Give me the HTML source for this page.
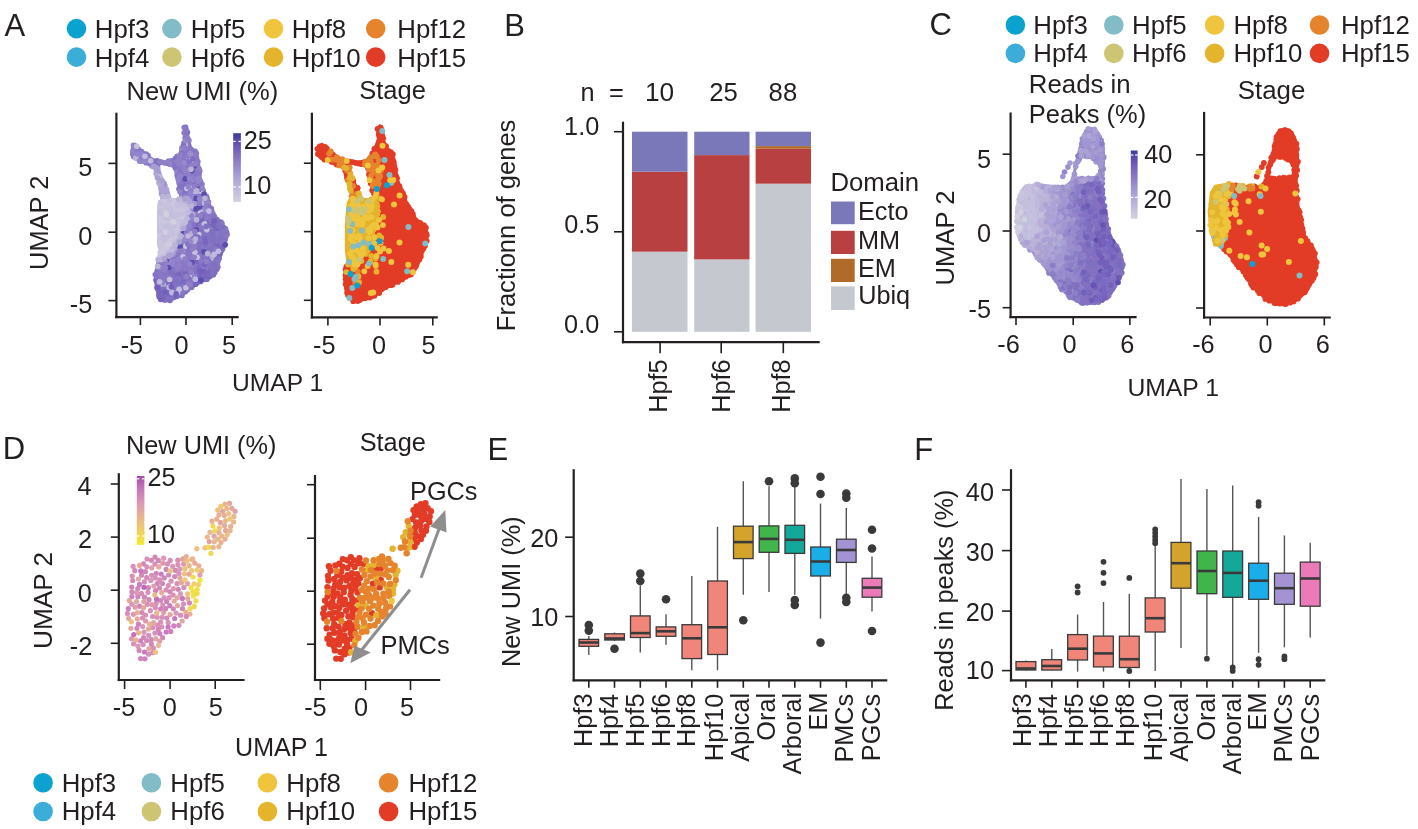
<!DOCTYPE html>
<html><head><meta charset="utf-8"><title>Figure</title>
<style>html,body{margin:0;padding:0;background:#fff;} svg{display:block;filter:blur(0.4px);} text{font-family:"Liberation Sans", Arial, Helvetica, sans-serif;}</style>
</head><body>
<svg width="1418" height="829" viewBox="0 0 1418 829">
<rect width="1418" height="829" fill="#ffffff"/>
<text x="4.52" y="35.80" font-size="31.00" fill="#231f20">A</text>
<circle cx="76.5" cy="28.6" r="9.8" fill="#0ba2d0"/>
<text x="94.87" y="37.90" font-size="25.80" fill="#231f20">Hpf3</text>
<circle cx="76.5" cy="57.1" r="9.8" fill="#3badd8"/>
<text x="94.87" y="67.00" font-size="25.80" fill="#231f20">Hpf4</text>
<circle cx="171.9" cy="28.6" r="9.8" fill="#82bcc6"/>
<text x="190.87" y="37.90" font-size="25.80" fill="#231f20">Hpf5</text>
<circle cx="171.9" cy="57.1" r="9.8" fill="#cdc574"/>
<text x="190.87" y="67.00" font-size="25.80" fill="#231f20">Hpf6</text>
<circle cx="273.5" cy="28.6" r="9.8" fill="#eec53c"/>
<text x="291.67" y="37.90" font-size="25.80" fill="#231f20">Hpf8</text>
<circle cx="273.5" cy="57.1" r="9.8" fill="#e4b42c"/>
<text x="291.67" y="67.00" font-size="25.80" fill="#231f20">Hpf10</text>
<circle cx="375.7" cy="28.6" r="9.8" fill="#e6842e"/>
<text x="397.27" y="37.90" font-size="25.80" fill="#231f20">Hpf12</text>
<circle cx="375.7" cy="57.1" r="9.8" fill="#e33c26"/>
<text x="397.27" y="67.00" font-size="25.80" fill="#231f20">Hpf15</text>
<text x="126.49" y="100.30" font-size="25.56" fill="#231f20">New UMI (%)</text>
<text x="359.25" y="98.70" font-size="25.47" fill="#231f20">Stage</text>
<path d="M182.8,127.3 L183.3,136.7 L183.3,136.8 L182.8,143.3 L182.8,143.3 L182.8,143.4 L182.7,143.5 L182.7,143.6 L182.7,143.6 L182.6,143.7 L180.0,146.9 L179.0,152.1 L179.0,152.1 L178.9,152.2 L178.9,152.3 L178.9,152.3 L178.8,152.4 L175.6,156.5 L175.6,156.5 L173.4,158.9 L173.3,159.0 L173.3,159.0 L173.2,159.1 L173.1,159.1 L173.1,159.2 L173.0,159.2 L168.6,160.3 L168.5,160.3 L159.8,161.4 L159.7,161.4 L159.7,161.4 L159.6,161.4 L159.5,161.4 L159.4,161.4 L159.4,161.3 L159.3,161.3 L151.7,157.0 L151.7,157.0 L151.6,156.9 L141.9,149.3 L141.9,149.3 L141.8,149.2 L135.7,142.6 L131.2,144.8 L130.1,155.0 L134.2,159.9 L147.0,165.3 L147.1,165.3 L147.1,165.3 L153.6,169.7 L153.7,169.8 L153.8,169.8 L153.8,169.9 L153.9,170.0 L153.9,170.0 L153.9,170.1 L154.0,170.2 L154.0,170.2 L154.0,170.3 L154.6,175.6 L157.2,182.0 L157.3,182.1 L159.5,190.8 L159.5,190.9 L160.5,197.4 L160.5,197.5 L160.5,197.5 L160.5,197.6 L160.5,197.7 L158.1,206.9 L157.2,216.9 L158.9,233.7 L158.9,233.8 L159.8,250.7 L159.8,250.7 L159.8,250.8 L159.8,250.9 L156.4,262.7 L153.9,274.4 L154.7,287.7 L158.0,299.1 L164.1,303.0 L173.9,300.5 L183.9,295.6 L193.9,287.2 L194.0,287.1 L194.0,287.1 L204.2,282.1 L214.1,275.4 L219.1,267.3 L222.4,255.5 L222.4,255.4 L226.6,243.7 L228.3,233.9 L225.8,225.7 L217.5,217.5 L217.5,217.4 L217.4,217.3 L217.4,217.3 L210.1,202.3 L210.1,202.2 L206.8,193.5 L203.6,185.9 L203.5,185.8 L203.5,185.8 L201.3,174.9 L201.3,174.8 L200.2,164.0 L198.1,153.4 L191.7,145.9 L191.6,145.9 L191.6,145.8 L191.6,145.7 L191.5,145.7 L191.5,145.6 L189.3,136.9 L189.3,136.8 L189.3,136.8 L188.2,125.5 L185.5,124.1 Z M166.9,162.0 L167.0,162.0 L167.1,162.0 L167.2,162.0 L172.7,163.2 L172.7,163.2 L172.8,163.3 L172.9,163.3 L172.9,163.3 L173.0,163.4 L173.1,163.4 L173.1,163.5 L173.2,163.5 L173.2,163.6 L173.2,163.7 L173.3,163.8 L173.3,163.8 L173.3,163.9 L174.8,175.9 L176.8,184.8 L178.8,192.8 L178.8,192.9 L179.3,197.4 L179.3,197.5 L179.3,197.6 L179.3,197.7 L179.3,197.7 L179.2,197.8 L179.2,197.9 L179.2,197.9 L179.1,198.0 L179.1,198.1 L179.0,198.1 L178.9,198.2 L178.9,198.2 L178.8,198.2 L178.7,198.3 L178.6,198.3 L178.6,198.3 L172.1,198.8 L172.0,198.8 L171.9,198.8 L171.8,198.8 L171.8,198.8 L171.7,198.7 L171.6,198.7 L171.6,198.7 L171.5,198.6 L171.4,198.6 L171.4,198.5 L171.3,198.5 L171.3,198.4 L169.6,195.4 L169.6,195.3 L169.5,195.2 L167.7,189.3 L161.8,175.3 L161.7,175.3 L161.7,175.2 L160.2,169.2 L160.2,169.1 L160.2,169.0 L160.2,163.5 L160.2,163.4 L160.2,163.3 L160.2,163.3 L160.3,163.2 L160.3,163.1 L160.3,163.1 L160.4,163.0 L160.4,162.9 L160.5,162.9 L160.5,162.8 L160.6,162.8 L160.7,162.8 L160.8,162.7 L160.8,162.7 L160.9,162.7 Z " fill="#8a7ac6" fill-rule="evenodd"/>
<path d="M157.9,200.5 L157.0,215.1 L157.0,244.7 L160.2,255.2 L163.7,253.4 L169.4,246.8 L174.2,239.1 L182.1,219.3 L182.2,219.1 L186.1,211.2 L187.6,206.7 L185.1,204.8 L169.5,200.9 L169.5,200.9 L163.0,199.1 Z " fill="#c4c2dc" fill-rule="evenodd"/>
<path d="M157.0,164.7 L152.5,167.0 L156.9,179.3 L156.9,179.5 L157.0,179.7 L159.7,197.0 L166.7,197.0 L166.0,192.4 L163.9,183.4 L163.7,182.8 L160.7,175.8 L160.6,175.6 L160.6,175.5 L159.1,169.5 L159.0,169.2 L159.0,169.0 L159.0,168.9 Z " fill="#ada4d6" fill-rule="evenodd"/>
<g fill="#8478c6"><circle cx="219.6" cy="228.8" r="2.8"/><circle cx="180.0" cy="267.6" r="2.8"/><circle cx="185.6" cy="236.5" r="2.8"/><circle cx="193.9" cy="260.1" r="2.8"/><circle cx="213.1" cy="258.9" r="2.8"/><circle cx="203.4" cy="267.7" r="2.8"/><circle cx="179.8" cy="261.2" r="2.8"/><circle cx="191.6" cy="251.0" r="2.8"/><circle cx="165.5" cy="282.1" r="2.8"/><circle cx="218.5" cy="242.4" r="2.8"/><circle cx="191.6" cy="226.8" r="2.8"/><circle cx="183.4" cy="236.6" r="2.8"/><circle cx="185.8" cy="161.3" r="2.8"/><circle cx="191.8" cy="266.2" r="2.8"/><circle cx="176.2" cy="254.4" r="2.8"/><circle cx="185.3" cy="176.2" r="2.8"/><circle cx="212.8" cy="213.7" r="2.8"/><circle cx="202.8" cy="221.8" r="2.8"/><circle cx="194.1" cy="171.0" r="2.8"/><circle cx="222.4" cy="238.5" r="2.8"/><circle cx="174.4" cy="282.4" r="2.8"/><circle cx="205.8" cy="201.7" r="2.8"/><circle cx="180.4" cy="180.9" r="2.8"/><circle cx="215.8" cy="244.2" r="2.8"/><circle cx="184.0" cy="158.2" r="2.8"/><circle cx="148.0" cy="155.5" r="2.8"/><circle cx="202.1" cy="234.9" r="2.8"/><circle cx="188.5" cy="196.0" r="2.8"/><circle cx="188.5" cy="155.9" r="2.8"/><circle cx="196.3" cy="153.4" r="2.8"/><circle cx="186.1" cy="256.7" r="2.8"/><circle cx="183.4" cy="185.5" r="2.8"/><circle cx="181.4" cy="274.8" r="2.8"/><circle cx="197.8" cy="242.4" r="2.8"/><circle cx="191.9" cy="231.3" r="2.8"/><circle cx="194.6" cy="195.7" r="2.8"/><circle cx="186.7" cy="279.3" r="2.8"/><circle cx="182.7" cy="266.5" r="2.8"/><circle cx="195.5" cy="189.0" r="2.8"/><circle cx="205.6" cy="247.1" r="2.8"/><circle cx="196.7" cy="232.4" r="2.8"/><circle cx="176.2" cy="259.6" r="2.8"/><circle cx="215.5" cy="241.2" r="2.8"/><circle cx="187.0" cy="178.2" r="2.8"/><circle cx="200.5" cy="212.0" r="2.8"/><circle cx="195.3" cy="217.0" r="2.8"/><circle cx="186.0" cy="191.5" r="2.8"/><circle cx="160.8" cy="264.7" r="2.8"/><circle cx="178.6" cy="173.8" r="2.8"/><circle cx="202.5" cy="244.3" r="2.8"/><circle cx="188.8" cy="251.4" r="2.8"/><circle cx="208.9" cy="221.9" r="2.8"/></g>
<g fill="#8a7ec6"><circle cx="201.4" cy="208.8" r="2.8"/><circle cx="193.3" cy="187.9" r="2.8"/><circle cx="193.5" cy="153.8" r="2.8"/><circle cx="182.4" cy="247.2" r="2.8"/><circle cx="132.8" cy="153.8" r="2.8"/><circle cx="175.1" cy="274.1" r="2.8"/><circle cx="194.5" cy="175.4" r="2.8"/><circle cx="196.9" cy="196.6" r="2.8"/><circle cx="188.9" cy="140.4" r="2.8"/><circle cx="183.9" cy="233.5" r="2.8"/><circle cx="194.4" cy="266.4" r="2.8"/><circle cx="166.3" cy="284.4" r="2.8"/><circle cx="186.2" cy="166.3" r="2.8"/><circle cx="200.4" cy="201.1" r="2.8"/><circle cx="188.3" cy="242.2" r="2.8"/><circle cx="182.3" cy="191.6" r="2.8"/><circle cx="195.7" cy="193.7" r="2.8"/><circle cx="168.5" cy="161.1" r="2.8"/><circle cx="207.8" cy="218.2" r="2.8"/><circle cx="195.0" cy="155.7" r="2.8"/><circle cx="198.1" cy="176.9" r="2.8"/><circle cx="189.3" cy="267.4" r="2.8"/><circle cx="188.7" cy="180.3" r="2.8"/><circle cx="192.5" cy="234.2" r="2.8"/><circle cx="178.2" cy="168.0" r="2.8"/><circle cx="149.8" cy="159.0" r="2.8"/><circle cx="146.0" cy="162.7" r="2.8"/><circle cx="155.6" cy="162.7" r="2.8"/><circle cx="190.3" cy="239.4" r="2.8"/><circle cx="188.0" cy="176.7" r="2.8"/><circle cx="188.8" cy="256.7" r="2.8"/><circle cx="203.7" cy="201.2" r="2.8"/><circle cx="191.4" cy="155.4" r="2.8"/><circle cx="203.2" cy="190.6" r="2.8"/><circle cx="207.8" cy="223.7" r="2.8"/><circle cx="135.5" cy="147.6" r="2.8"/><circle cx="219.4" cy="245.0" r="2.8"/><circle cx="193.5" cy="183.5" r="2.8"/><circle cx="208.9" cy="246.6" r="2.8"/><circle cx="191.9" cy="247.1" r="2.8"/><circle cx="204.5" cy="259.5" r="2.8"/><circle cx="206.7" cy="251.9" r="2.8"/><circle cx="183.1" cy="241.5" r="2.8"/><circle cx="181.7" cy="249.9" r="2.8"/><circle cx="189.5" cy="280.0" r="2.8"/><circle cx="172.1" cy="160.6" r="2.8"/><circle cx="211.9" cy="211.8" r="2.8"/><circle cx="188.4" cy="231.9" r="2.8"/><circle cx="193.1" cy="285.3" r="2.8"/><circle cx="198.2" cy="209.3" r="2.8"/><circle cx="187.6" cy="249.1" r="2.8"/><circle cx="202.2" cy="198.5" r="2.8"/><circle cx="179.3" cy="166.7" r="2.8"/><circle cx="201.3" cy="265.1" r="2.8"/><circle cx="196.7" cy="206.2" r="2.8"/><circle cx="185.1" cy="138.0" r="2.8"/><circle cx="183.8" cy="249.2" r="2.8"/><circle cx="185.9" cy="180.8" r="2.8"/><circle cx="193.0" cy="253.9" r="2.8"/><circle cx="170.2" cy="258.8" r="2.8"/><circle cx="195.2" cy="214.5" r="2.8"/><circle cx="191.7" cy="150.1" r="2.8"/><circle cx="208.4" cy="201.8" r="2.8"/><circle cx="185.0" cy="264.5" r="2.8"/><circle cx="139.4" cy="156.4" r="2.8"/><circle cx="181.8" cy="178.1" r="2.8"/></g>
<g fill="#7e6cc0"><circle cx="199.5" cy="263.9" r="2.8"/><circle cx="161.6" cy="295.4" r="2.8"/><circle cx="173.5" cy="289.8" r="2.8"/><circle cx="198.7" cy="274.6" r="2.8"/><circle cx="174.1" cy="271.7" r="2.8"/><circle cx="213.9" cy="248.7" r="2.8"/><circle cx="166.4" cy="270.1" r="2.8"/><circle cx="174.3" cy="291.5" r="2.8"/><circle cx="168.3" cy="272.2" r="2.8"/><circle cx="173.7" cy="286.9" r="2.8"/><circle cx="199.1" cy="229.4" r="2.8"/><circle cx="158.5" cy="288.9" r="2.8"/><circle cx="203.3" cy="262.5" r="2.8"/><circle cx="209.8" cy="254.8" r="2.8"/><circle cx="220.4" cy="252.3" r="2.8"/><circle cx="184.2" cy="278.8" r="2.8"/><circle cx="197.1" cy="266.2" r="2.8"/><circle cx="199.8" cy="246.5" r="2.8"/><circle cx="195.1" cy="226.6" r="2.8"/><circle cx="210.2" cy="223.3" r="2.8"/><circle cx="174.7" cy="276.3" r="2.8"/><circle cx="185.3" cy="291.7" r="2.8"/><circle cx="165.4" cy="287.1" r="2.8"/><circle cx="214.8" cy="272.5" r="2.8"/><circle cx="202.1" cy="274.7" r="2.8"/><circle cx="207.0" cy="279.2" r="2.8"/><circle cx="203.4" cy="196.7" r="2.8"/><circle cx="205.2" cy="279.5" r="2.8"/><circle cx="218.6" cy="239.1" r="2.8"/><circle cx="175.7" cy="289.2" r="2.8"/><circle cx="210.9" cy="234.0" r="2.8"/><circle cx="166.3" cy="273.7" r="2.8"/><circle cx="216.9" cy="219.5" r="2.8"/><circle cx="226.5" cy="231.8" r="2.8"/><circle cx="199.6" cy="279.0" r="2.8"/><circle cx="199.4" cy="255.0" r="2.8"/><circle cx="215.6" cy="247.4" r="2.8"/><circle cx="166.3" cy="299.6" r="2.8"/><circle cx="187.4" cy="132.4" r="2.8"/><circle cx="170.0" cy="300.5" r="2.8"/><circle cx="216.8" cy="269.2" r="2.8"/><circle cx="204.1" cy="254.1" r="2.8"/><circle cx="213.5" cy="243.6" r="2.8"/><circle cx="198.0" cy="281.7" r="2.8"/><circle cx="162.0" cy="283.8" r="2.8"/><circle cx="207.2" cy="269.7" r="2.8"/><circle cx="204.7" cy="234.9" r="2.8"/><circle cx="199.8" cy="252.4" r="2.8"/><circle cx="202.5" cy="223.5" r="2.8"/><circle cx="161.2" cy="275.2" r="2.8"/><circle cx="197.0" cy="277.4" r="2.8"/><circle cx="215.7" cy="224.0" r="2.8"/><circle cx="210.0" cy="259.6" r="2.8"/><circle cx="177.5" cy="277.2" r="2.8"/><circle cx="214.1" cy="270.1" r="2.8"/><circle cx="206.3" cy="221.4" r="2.8"/><circle cx="212.0" cy="271.6" r="2.8"/><circle cx="202.1" cy="249.3" r="2.8"/><circle cx="212.1" cy="267.0" r="2.8"/><circle cx="179.4" cy="277.1" r="2.8"/><circle cx="186.7" cy="270.0" r="2.8"/><circle cx="183.1" cy="271.2" r="2.8"/><circle cx="195.4" cy="259.3" r="2.8"/><circle cx="213.6" cy="219.4" r="2.8"/><circle cx="208.5" cy="226.7" r="2.8"/><circle cx="188.4" cy="261.4" r="2.8"/><circle cx="208.7" cy="266.2" r="2.8"/><circle cx="184.4" cy="183.7" r="2.8"/><circle cx="158.2" cy="285.2" r="2.8"/><circle cx="205.7" cy="266.6" r="2.8"/><circle cx="168.8" cy="282.5" r="2.8"/><circle cx="213.2" cy="229.5" r="2.8"/><circle cx="192.6" cy="280.0" r="2.8"/><circle cx="220.4" cy="225.9" r="2.8"/><circle cx="189.5" cy="229.3" r="2.8"/><circle cx="199.9" cy="240.9" r="2.8"/><circle cx="172.7" cy="294.2" r="2.8"/><circle cx="200.7" cy="266.5" r="2.8"/><circle cx="197.1" cy="222.2" r="2.8"/><circle cx="156.9" cy="281.7" r="2.8"/><circle cx="186.6" cy="281.3" r="2.8"/><circle cx="203.9" cy="226.7" r="2.8"/><circle cx="212.1" cy="217.1" r="2.8"/><circle cx="195.3" cy="281.9" r="2.8"/><circle cx="163.0" cy="287.4" r="2.8"/><circle cx="163.8" cy="295.3" r="2.8"/><circle cx="162.9" cy="271.9" r="2.8"/><circle cx="172.3" cy="274.6" r="2.8"/><circle cx="197.7" cy="211.0" r="2.8"/><circle cx="213.4" cy="274.8" r="2.8"/><circle cx="209.2" cy="241.8" r="2.8"/><circle cx="166.5" cy="295.1" r="2.8"/><circle cx="157.0" cy="160.9" r="2.8"/></g>
<g fill="#babad8"><circle cx="193.7" cy="218.6" r="2.8"/><circle cx="185.0" cy="244.8" r="2.8"/><circle cx="206.4" cy="210.9" r="2.8"/></g>
<g fill="#8472c0"><circle cx="195.1" cy="181.9" r="2.8"/><circle cx="205.1" cy="275.0" r="2.8"/><circle cx="210.3" cy="264.4" r="2.8"/><circle cx="163.7" cy="299.6" r="2.8"/><circle cx="182.0" cy="295.4" r="2.8"/><circle cx="184.4" cy="285.1" r="2.8"/><circle cx="218.3" cy="257.4" r="2.8"/><circle cx="195.5" cy="223.6" r="2.8"/><circle cx="215.0" cy="267.7" r="2.8"/><circle cx="177.2" cy="272.3" r="2.8"/><circle cx="198.0" cy="202.1" r="2.8"/><circle cx="180.9" cy="279.7" r="2.8"/><circle cx="220.9" cy="247.2" r="2.8"/><circle cx="187.5" cy="289.8" r="2.8"/><circle cx="205.6" cy="231.8" r="2.8"/><circle cx="210.8" cy="270.1" r="2.8"/><circle cx="201.7" cy="228.9" r="2.8"/><circle cx="202.4" cy="193.6" r="2.8"/><circle cx="216.8" cy="254.6" r="2.8"/><circle cx="188.1" cy="272.1" r="2.8"/><circle cx="193.8" cy="261.9" r="2.8"/><circle cx="199.0" cy="244.4" r="2.8"/><circle cx="195.7" cy="233.4" r="2.8"/><circle cx="195.5" cy="250.0" r="2.8"/><circle cx="179.6" cy="282.7" r="2.8"/><circle cx="165.2" cy="297.0" r="2.8"/><circle cx="182.3" cy="151.1" r="2.8"/><circle cx="181.9" cy="194.5" r="2.8"/><circle cx="191.9" cy="276.5" r="2.8"/><circle cx="217.4" cy="236.5" r="2.8"/><circle cx="222.2" cy="229.0" r="2.8"/><circle cx="221.2" cy="241.5" r="2.8"/><circle cx="181.4" cy="174.1" r="2.8"/><circle cx="182.2" cy="168.4" r="2.8"/><circle cx="222.9" cy="236.1" r="2.8"/><circle cx="170.1" cy="284.6" r="2.8"/><circle cx="192.7" cy="238.9" r="2.8"/><circle cx="218.0" cy="231.5" r="2.8"/><circle cx="207.4" cy="234.1" r="2.8"/><circle cx="184.5" cy="290.4" r="2.8"/><circle cx="212.2" cy="241.3" r="2.8"/><circle cx="219.1" cy="233.8" r="2.8"/><circle cx="157.2" cy="271.8" r="2.8"/><circle cx="215.0" cy="231.4" r="2.8"/><circle cx="196.8" cy="252.6" r="2.8"/><circle cx="204.8" cy="218.7" r="2.8"/><circle cx="214.8" cy="236.7" r="2.8"/><circle cx="207.4" cy="259.0" r="2.8"/><circle cx="177.1" cy="296.5" r="2.8"/><circle cx="217.9" cy="267.1" r="2.8"/><circle cx="185.7" cy="151.0" r="2.8"/><circle cx="203.6" cy="242.3" r="2.8"/><circle cx="208.7" cy="252.1" r="2.8"/><circle cx="164.1" cy="274.5" r="2.8"/><circle cx="211.9" cy="221.8" r="2.8"/><circle cx="211.9" cy="246.2" r="2.8"/><circle cx="172.3" cy="284.2" r="2.8"/><circle cx="221.0" cy="230.8" r="2.8"/><circle cx="169.8" cy="274.7" r="2.8"/><circle cx="179.3" cy="284.2" r="2.8"/><circle cx="155.3" cy="274.5" r="2.8"/><circle cx="158.3" cy="268.9" r="2.8"/><circle cx="200.0" cy="231.4" r="2.8"/><circle cx="224.6" cy="234.7" r="2.8"/><circle cx="191.6" cy="287.5" r="2.8"/><circle cx="200.6" cy="236.5" r="2.8"/><circle cx="176.8" cy="287.4" r="2.8"/><circle cx="203.9" cy="231.9" r="2.8"/><circle cx="188.1" cy="282.0" r="2.8"/><circle cx="214.9" cy="226.8" r="2.8"/><circle cx="210.2" cy="243.9" r="2.8"/><circle cx="216.0" cy="239.2" r="2.8"/><circle cx="188.4" cy="286.7" r="2.8"/><circle cx="183.0" cy="180.9" r="2.8"/><circle cx="183.9" cy="274.7" r="2.8"/><circle cx="181.1" cy="270.1" r="2.8"/><circle cx="180.4" cy="272.4" r="2.8"/><circle cx="196.0" cy="264.3" r="2.8"/><circle cx="171.6" cy="276.2" r="2.8"/><circle cx="202.5" cy="253.6" r="2.8"/><circle cx="207.4" cy="208.2" r="2.8"/><circle cx="158.5" cy="279.7" r="2.8"/><circle cx="183.3" cy="291.9" r="2.8"/><circle cx="219.7" cy="224.6" r="2.8"/><circle cx="178.4" cy="294.8" r="2.8"/><circle cx="203.5" cy="277.6" r="2.8"/><circle cx="175.3" cy="167.9" r="2.8"/><circle cx="214.4" cy="216.5" r="2.8"/><circle cx="166.3" cy="279.1" r="2.8"/><circle cx="211.7" cy="251.2" r="2.8"/><circle cx="219.1" cy="249.0" r="2.8"/><circle cx="167.9" cy="297.0" r="2.8"/><circle cx="173.2" cy="270.1" r="2.8"/><circle cx="188.0" cy="275.0" r="2.8"/><circle cx="163.6" cy="279.5" r="2.8"/><circle cx="208.9" cy="215.8" r="2.8"/><circle cx="210.5" cy="248.7" r="2.8"/><circle cx="203.8" cy="256.4" r="2.8"/><circle cx="227.1" cy="234.6" r="2.8"/><circle cx="159.6" cy="272.3" r="2.8"/><circle cx="177.0" cy="252.5" r="2.8"/><circle cx="217.0" cy="263.9" r="2.8"/><circle cx="199.0" cy="259.6" r="2.8"/><circle cx="188.7" cy="146.0" r="2.8"/><circle cx="158.7" cy="294.8" r="2.8"/><circle cx="160.9" cy="279.5" r="2.8"/><circle cx="196.9" cy="227.0" r="2.8"/><circle cx="224.3" cy="241.2" r="2.8"/><circle cx="173.1" cy="260.0" r="2.8"/><circle cx="194.0" cy="271.9" r="2.8"/><circle cx="153.5" cy="161.5" r="2.8"/><circle cx="199.1" cy="248.6" r="2.8"/><circle cx="188.6" cy="276.8" r="2.8"/><circle cx="186.0" cy="186.7" r="2.8"/><circle cx="166.0" cy="276.7" r="2.8"/><circle cx="172.6" cy="164.8" r="2.8"/></g>
<g fill="#786cc0"><circle cx="201.2" cy="259.1" r="2.8"/><circle cx="183.5" cy="282.3" r="2.8"/><circle cx="182.1" cy="284.1" r="2.8"/><circle cx="162.6" cy="292.0" r="2.8"/></g>
<g fill="#9684cc"><circle cx="188.6" cy="150.3" r="2.8"/><circle cx="188.7" cy="165.4" r="2.8"/><circle cx="179.3" cy="183.5" r="2.8"/><circle cx="200.6" cy="181.4" r="2.8"/><circle cx="170.8" cy="256.6" r="2.8"/><circle cx="187.4" cy="158.0" r="2.8"/><circle cx="192.5" cy="163.3" r="2.8"/><circle cx="177.6" cy="171.8" r="2.8"/><circle cx="190.2" cy="199.0" r="2.8"/><circle cx="182.4" cy="196.6" r="2.8"/><circle cx="207.7" cy="203.5" r="2.8"/><circle cx="182.3" cy="238.6" r="2.8"/><circle cx="164.8" cy="162.9" r="2.8"/><circle cx="170.0" cy="164.2" r="2.8"/></g>
<g fill="#9084c6"><circle cx="198.4" cy="193.4" r="2.8"/><circle cx="193.9" cy="244.2" r="2.8"/><circle cx="177.1" cy="156.4" r="2.8"/><circle cx="185.2" cy="155.3" r="2.8"/><circle cx="139.4" cy="150.8" r="2.8"/><circle cx="133.5" cy="145.3" r="2.8"/><circle cx="202.5" cy="205.9" r="2.8"/><circle cx="183.1" cy="175.9" r="2.8"/><circle cx="179.5" cy="256.2" r="2.8"/><circle cx="205.8" cy="217.1" r="2.8"/><circle cx="181.4" cy="243.4" r="2.8"/><circle cx="188.0" cy="239.7" r="2.8"/><circle cx="174.2" cy="261.4" r="2.8"/><circle cx="188.3" cy="246.7" r="2.8"/><circle cx="178.1" cy="249.3" r="2.8"/><circle cx="192.6" cy="173.8" r="2.8"/><circle cx="196.8" cy="178.8" r="2.8"/><circle cx="205.1" cy="204.6" r="2.8"/></g>
<g fill="#7866ba"><circle cx="168.4" cy="292.9" r="2.8"/><circle cx="218.0" cy="246.1" r="2.8"/><circle cx="169.4" cy="294.2" r="2.8"/><circle cx="200.6" cy="281.4" r="2.8"/><circle cx="178.6" cy="274.2" r="2.8"/><circle cx="159.3" cy="286.6" r="2.8"/><circle cx="190.0" cy="274.7" r="2.8"/><circle cx="209.8" cy="276.6" r="2.8"/><circle cx="219.6" cy="254.2" r="2.8"/><circle cx="216.7" cy="228.6" r="2.8"/><circle cx="196.8" cy="271.4" r="2.8"/><circle cx="220.8" cy="222.1" r="2.8"/><circle cx="199.2" cy="224.5" r="2.8"/><circle cx="206.1" cy="276.2" r="2.8"/><circle cx="185.4" cy="272.2" r="2.8"/><circle cx="200.8" cy="220.9" r="2.8"/><circle cx="212.6" cy="225.8" r="2.8"/><circle cx="159.2" cy="297.0" r="2.8"/><circle cx="172.1" cy="282.4" r="2.8"/><circle cx="206.8" cy="271.5" r="2.8"/><circle cx="156.0" cy="280.1" r="2.8"/><circle cx="208.9" cy="272.7" r="2.8"/><circle cx="161.2" cy="290.0" r="2.8"/><circle cx="174.9" cy="296.5" r="2.8"/><circle cx="159.3" cy="291.7" r="2.8"/><circle cx="167.7" cy="289.1" r="2.8"/><circle cx="175.9" cy="280.0" r="2.8"/><circle cx="213.8" cy="224.7" r="2.8"/><circle cx="196.8" cy="261.1" r="2.8"/></g>
<g fill="#ccccde"><circle cx="161.8" cy="209.0" r="2.8"/><circle cx="189.5" cy="208.9" r="2.8"/><circle cx="162.6" cy="226.6" r="2.8"/><circle cx="166.0" cy="222.2" r="2.8"/><circle cx="170.6" cy="206.6" r="2.8"/><circle cx="173.0" cy="223.2" r="2.8"/><circle cx="164.4" cy="219.6" r="2.8"/><circle cx="160.5" cy="241.0" r="2.8"/><circle cx="179.7" cy="231.1" r="2.8"/><circle cx="190.9" cy="181.1" r="2.8"/><circle cx="160.2" cy="236.9" r="2.8"/><circle cx="199.7" cy="213.2" r="2.8"/><circle cx="168.9" cy="247.2" r="2.8"/><circle cx="167.4" cy="245.0" r="2.8"/><circle cx="185.3" cy="216.0" r="2.8"/><circle cx="183.5" cy="222.2" r="2.8"/><circle cx="168.2" cy="221.7" r="2.8"/><circle cx="160.8" cy="233.8" r="2.8"/><circle cx="171.2" cy="210.7" r="2.8"/><circle cx="162.0" cy="216.9" r="2.8"/><circle cx="163.3" cy="199.3" r="2.8"/><circle cx="163.4" cy="229.7" r="2.8"/><circle cx="167.7" cy="233.6" r="2.8"/><circle cx="170.8" cy="237.1" r="2.8"/><circle cx="179.4" cy="216.2" r="2.8"/><circle cx="170.7" cy="249.4" r="2.8"/><circle cx="167.4" cy="229.1" r="2.8"/><circle cx="179.5" cy="211.1" r="2.8"/><circle cx="166.7" cy="209.0" r="2.8"/><circle cx="172.1" cy="239.6" r="2.8"/><circle cx="161.3" cy="218.3" r="2.8"/><circle cx="162.0" cy="232.2" r="2.8"/><circle cx="178.0" cy="218.3" r="2.8"/><circle cx="173.5" cy="214.4" r="2.8"/><circle cx="164.3" cy="209.5" r="2.8"/><circle cx="162.5" cy="206.4" r="2.8"/><circle cx="183.0" cy="211.0" r="2.8"/><circle cx="160.8" cy="254.7" r="2.8"/><circle cx="170.1" cy="199.3" r="2.8"/><circle cx="172.7" cy="243.7" r="2.8"/><circle cx="186.0" cy="246.3" r="2.8"/><circle cx="176.9" cy="215.7" r="2.8"/></g>
<g fill="#c6c6de"><circle cx="162.8" cy="251.5" r="2.8"/><circle cx="177.7" cy="222.2" r="2.8"/><circle cx="166.5" cy="238.4" r="2.8"/><circle cx="160.5" cy="227.2" r="2.8"/><circle cx="203.2" cy="211.6" r="2.8"/><circle cx="175.0" cy="237.0" r="2.8"/><circle cx="162.4" cy="246.4" r="2.8"/><circle cx="171.5" cy="222.1" r="2.8"/><circle cx="176.4" cy="239.6" r="2.8"/><circle cx="172.3" cy="204.6" r="2.8"/><circle cx="167.1" cy="203.2" r="2.8"/><circle cx="180.6" cy="206.7" r="2.8"/><circle cx="177.9" cy="201.6" r="2.8"/><circle cx="186.0" cy="211.9" r="2.8"/><circle cx="160.9" cy="238.7" r="2.8"/><circle cx="160.9" cy="224.1" r="2.8"/><circle cx="168.8" cy="216.1" r="2.8"/><circle cx="159.8" cy="206.1" r="2.8"/><circle cx="166.2" cy="256.4" r="2.8"/><circle cx="177.3" cy="227.1" r="2.8"/><circle cx="177.1" cy="232.1" r="2.8"/><circle cx="175.9" cy="229.6" r="2.8"/><circle cx="175.6" cy="218.9" r="2.8"/><circle cx="164.4" cy="213.6" r="2.8"/><circle cx="198.8" cy="234.6" r="2.8"/><circle cx="168.1" cy="211.5" r="2.8"/><circle cx="173.5" cy="211.7" r="2.8"/><circle cx="164.6" cy="223.8" r="2.8"/><circle cx="167.1" cy="248.8" r="2.8"/><circle cx="175.0" cy="241.4" r="2.8"/><circle cx="180.8" cy="208.8" r="2.8"/><circle cx="163.8" cy="244.0" r="2.8"/><circle cx="183.6" cy="206.0" r="2.8"/><circle cx="171.1" cy="241.9" r="2.8"/><circle cx="180.5" cy="201.8" r="2.8"/><circle cx="171.8" cy="226.9" r="2.8"/><circle cx="173.9" cy="231.8" r="2.8"/><circle cx="175.5" cy="208.4" r="2.8"/><circle cx="160.7" cy="244.7" r="2.8"/><circle cx="184.2" cy="219.6" r="2.8"/><circle cx="182.2" cy="224.3" r="2.8"/><circle cx="174.3" cy="201.6" r="2.8"/><circle cx="172.3" cy="228.9" r="2.8"/><circle cx="160.0" cy="256.4" r="2.8"/><circle cx="166.1" cy="242.4" r="2.8"/><circle cx="159.9" cy="216.0" r="2.8"/><circle cx="173.1" cy="208.2" r="2.8"/><circle cx="176.3" cy="224.0" r="2.8"/><circle cx="168.3" cy="206.3" r="2.8"/><circle cx="171.1" cy="201.8" r="2.8"/></g>
<g fill="#ccc6de"><circle cx="172.0" cy="219.3" r="2.8"/><circle cx="162.3" cy="211.0" r="2.8"/><circle cx="167.8" cy="251.4" r="2.8"/><circle cx="160.1" cy="221.2" r="2.8"/><circle cx="164.0" cy="254.9" r="2.8"/><circle cx="179.3" cy="226.8" r="2.8"/><circle cx="169.5" cy="218.9" r="2.8"/><circle cx="160.9" cy="228.9" r="2.8"/><circle cx="170.6" cy="216.3" r="2.8"/><circle cx="180.9" cy="213.6" r="2.8"/><circle cx="176.0" cy="203.6" r="2.8"/><circle cx="162.2" cy="221.2" r="2.8"/><circle cx="163.6" cy="203.5" r="2.8"/><circle cx="163.9" cy="248.9" r="2.8"/><circle cx="177.4" cy="211.4" r="2.8"/><circle cx="178.5" cy="208.4" r="2.8"/><circle cx="176.8" cy="235.9" r="2.8"/><circle cx="162.0" cy="201.8" r="2.8"/><circle cx="183.1" cy="215.9" r="2.8"/><circle cx="170.2" cy="203.7" r="2.8"/><circle cx="166.9" cy="198.7" r="2.8"/><circle cx="164.9" cy="211.9" r="2.8"/><circle cx="178.2" cy="229.6" r="2.8"/><circle cx="169.8" cy="224.8" r="2.8"/><circle cx="174.7" cy="205.9" r="2.8"/><circle cx="186.5" cy="209.1" r="2.8"/><circle cx="168.5" cy="241.9" r="2.8"/><circle cx="163.0" cy="241.6" r="2.8"/><circle cx="168.5" cy="231.7" r="2.8"/><circle cx="179.3" cy="223.4" r="2.8"/><circle cx="201.0" cy="190.9" r="2.8"/><circle cx="170.0" cy="238.9" r="2.8"/><circle cx="166.1" cy="201.4" r="2.8"/><circle cx="188.0" cy="206.9" r="2.8"/><circle cx="182.1" cy="219.1" r="2.8"/><circle cx="167.2" cy="223.9" r="2.8"/><circle cx="175.4" cy="234.6" r="2.8"/><circle cx="165.1" cy="251.6" r="2.8"/><circle cx="165.7" cy="246.2" r="2.8"/><circle cx="160.2" cy="252.3" r="2.8"/><circle cx="184.2" cy="209.3" r="2.8"/></g>
<g fill="#a296d2"><circle cx="162.4" cy="262.2" r="2.8"/><circle cx="164.9" cy="185.9" r="2.8"/><circle cx="178.2" cy="244.3" r="2.8"/><circle cx="188.1" cy="220.8" r="2.8"/><circle cx="192.3" cy="201.0" r="2.8"/><circle cx="191.7" cy="212.2" r="2.8"/><circle cx="177.7" cy="247.1" r="2.8"/><circle cx="159.4" cy="261.6" r="2.8"/><circle cx="151.8" cy="166.0" r="2.8"/><circle cx="164.0" cy="183.2" r="2.8"/><circle cx="159.0" cy="174.2" r="2.8"/><circle cx="162.3" cy="185.6" r="2.8"/><circle cx="192.3" cy="209.5" r="2.8"/><circle cx="161.5" cy="193.5" r="2.8"/></g>
<g fill="#8a78c6"><circle cx="196.5" cy="157.8" r="2.8"/><circle cx="202.4" cy="238.7" r="2.8"/><circle cx="217.0" cy="233.9" r="2.8"/><circle cx="199.4" cy="238.9" r="2.8"/><circle cx="188.1" cy="192.0" r="2.8"/><circle cx="183.9" cy="254.0" r="2.8"/><circle cx="184.1" cy="172.8" r="2.8"/><circle cx="199.1" cy="173.8" r="2.8"/><circle cx="199.7" cy="171.1" r="2.8"/><circle cx="177.3" cy="175.7" r="2.8"/><circle cx="207.5" cy="244.9" r="2.8"/><circle cx="200.7" cy="185.6" r="2.8"/><circle cx="180.8" cy="287.7" r="2.8"/><circle cx="195.1" cy="151.3" r="2.8"/><circle cx="160.2" cy="276.7" r="2.8"/><circle cx="187.2" cy="193.8" r="2.8"/><circle cx="143.5" cy="154.0" r="2.8"/><circle cx="181.2" cy="164.1" r="2.8"/><circle cx="201.1" cy="261.6" r="2.8"/><circle cx="190.2" cy="223.8" r="2.8"/><circle cx="204.1" cy="214.5" r="2.8"/><circle cx="225.9" cy="236.6" r="2.8"/><circle cx="205.2" cy="228.6" r="2.8"/><circle cx="182.0" cy="289.9" r="2.8"/><circle cx="184.9" cy="269.0" r="2.8"/><circle cx="201.9" cy="268.8" r="2.8"/><circle cx="217.0" cy="259.2" r="2.8"/><circle cx="195.7" cy="244.2" r="2.8"/><circle cx="197.3" cy="171.0" r="2.8"/><circle cx="177.7" cy="256.5" r="2.8"/><circle cx="225.6" cy="228.9" r="2.8"/><circle cx="207.0" cy="213.7" r="2.8"/><circle cx="201.1" cy="225.8" r="2.8"/><circle cx="194.2" cy="160.4" r="2.8"/><circle cx="169.0" cy="261.8" r="2.8"/><circle cx="143.7" cy="158.5" r="2.8"/><circle cx="187.0" cy="148.3" r="2.8"/><circle cx="196.9" cy="165.7" r="2.8"/><circle cx="211.3" cy="208.5" r="2.8"/><circle cx="203.2" cy="237.4" r="2.8"/><circle cx="158.8" cy="264.8" r="2.8"/><circle cx="179.7" cy="161.0" r="2.8"/><circle cx="168.9" cy="276.6" r="2.8"/><circle cx="195.9" cy="168.8" r="2.8"/><circle cx="184.2" cy="132.7" r="2.8"/><circle cx="178.2" cy="254.5" r="2.8"/><circle cx="175.4" cy="264.5" r="2.8"/><circle cx="190.8" cy="163.7" r="2.8"/><circle cx="170.1" cy="270.1" r="2.8"/><circle cx="197.3" cy="185.8" r="2.8"/><circle cx="189.1" cy="170.4" r="2.8"/><circle cx="173.5" cy="256.6" r="2.8"/><circle cx="189.8" cy="157.9" r="2.8"/><circle cx="175.8" cy="284.0" r="2.8"/><circle cx="191.4" cy="175.7" r="2.8"/><circle cx="186.5" cy="254.1" r="2.8"/><circle cx="184.0" cy="142.8" r="2.8"/><circle cx="195.3" cy="210.7" r="2.8"/><circle cx="202.5" cy="214.2" r="2.8"/><circle cx="181.0" cy="259.3" r="2.8"/><circle cx="206.4" cy="196.3" r="2.8"/><circle cx="207.6" cy="264.3" r="2.8"/><circle cx="195.4" cy="254.1" r="2.8"/><circle cx="210.5" cy="219.0" r="2.8"/><circle cx="187.8" cy="244.1" r="2.8"/><circle cx="205.3" cy="268.8" r="2.8"/><circle cx="206.0" cy="256.4" r="2.8"/><circle cx="205.2" cy="248.8" r="2.8"/><circle cx="223.2" cy="231.0" r="2.8"/><circle cx="202.0" cy="184.2" r="2.8"/><circle cx="193.1" cy="264.4" r="2.8"/><circle cx="216.2" cy="249.4" r="2.8"/><circle cx="190.8" cy="183.7" r="2.8"/><circle cx="192.7" cy="169.0" r="2.8"/><circle cx="191.3" cy="256.0" r="2.8"/><circle cx="182.9" cy="261.1" r="2.8"/><circle cx="190.7" cy="260.0" r="2.8"/><circle cx="192.8" cy="193.2" r="2.8"/><circle cx="187.6" cy="284.0" r="2.8"/><circle cx="175.9" cy="162.8" r="2.8"/><circle cx="161.6" cy="270.1" r="2.8"/><circle cx="180.9" cy="254.6" r="2.8"/><circle cx="170.1" cy="265.0" r="2.8"/><circle cx="197.1" cy="215.7" r="2.8"/><circle cx="174.7" cy="160.2" r="2.8"/><circle cx="181.5" cy="158.9" r="2.8"/><circle cx="171.0" cy="267.4" r="2.8"/><circle cx="189.4" cy="269.6" r="2.8"/><circle cx="183.6" cy="161.2" r="2.8"/><circle cx="217.5" cy="261.5" r="2.8"/><circle cx="181.4" cy="188.9" r="2.8"/><circle cx="135.9" cy="150.4" r="2.8"/><circle cx="190.4" cy="254.5" r="2.8"/><circle cx="215.3" cy="251.3" r="2.8"/><circle cx="135.4" cy="153.3" r="2.8"/><circle cx="180.7" cy="183.5" r="2.8"/><circle cx="152.2" cy="162.9" r="2.8"/><circle cx="186.2" cy="130.5" r="2.8"/><circle cx="186.1" cy="261.7" r="2.8"/><circle cx="177.2" cy="165.6" r="2.8"/><circle cx="196.4" cy="173.8" r="2.8"/><circle cx="192.7" cy="229.8" r="2.8"/><circle cx="183.4" cy="155.6" r="2.8"/><circle cx="177.9" cy="262.0" r="2.8"/><circle cx="189.5" cy="148.2" r="2.8"/><circle cx="186.5" cy="136.0" r="2.8"/><circle cx="180.8" cy="292.8" r="2.8"/><circle cx="157.5" cy="274.4" r="2.8"/><circle cx="190.5" cy="173.0" r="2.8"/><circle cx="146.2" cy="154.1" r="2.8"/><circle cx="190.1" cy="244.5" r="2.8"/><circle cx="179.8" cy="170.6" r="2.8"/><circle cx="186.8" cy="153.0" r="2.8"/><circle cx="187.9" cy="183.0" r="2.8"/><circle cx="187.2" cy="167.8" r="2.8"/><circle cx="210.1" cy="213.7" r="2.8"/><circle cx="187.3" cy="264.3" r="2.8"/><circle cx="164.3" cy="264.1" r="2.8"/><circle cx="183.5" cy="166.2" r="2.8"/><circle cx="186.9" cy="259.4" r="2.8"/><circle cx="162.6" cy="266.3" r="2.8"/><circle cx="191.1" cy="186.2" r="2.8"/><circle cx="221.9" cy="223.3" r="2.8"/><circle cx="178.8" cy="269.1" r="2.8"/><circle cx="176.2" cy="269.8" r="2.8"/><circle cx="203.3" cy="246.0" r="2.8"/><circle cx="192.2" cy="236.6" r="2.8"/><circle cx="182.6" cy="286.8" r="2.8"/><circle cx="141.6" cy="151.6" r="2.8"/><circle cx="198.5" cy="183.6" r="2.8"/><circle cx="186.1" cy="252.0" r="2.8"/><circle cx="142.8" cy="155.4" r="2.8"/><circle cx="197.9" cy="161.5" r="2.8"/><circle cx="181.1" cy="264.9" r="2.8"/><circle cx="187.0" cy="163.2" r="2.8"/><circle cx="185.4" cy="267.3" r="2.8"/><circle cx="148.4" cy="161.1" r="2.8"/><circle cx="211.1" cy="239.6" r="2.8"/><circle cx="193.4" cy="269.3" r="2.8"/><circle cx="184.8" cy="152.8" r="2.8"/><circle cx="150.3" cy="163.0" r="2.8"/><circle cx="210.3" cy="229.2" r="2.8"/><circle cx="184.2" cy="127.6" r="2.8"/><circle cx="163.0" cy="277.4" r="2.8"/><circle cx="178.9" cy="189.0" r="2.8"/><circle cx="137.7" cy="148.8" r="2.8"/><circle cx="199.6" cy="257.1" r="2.8"/><circle cx="187.3" cy="143.9" r="2.8"/></g>
<g fill="#c0c0de"><circle cx="201.4" cy="203.2" r="2.8"/><circle cx="165.7" cy="226.6" r="2.8"/><circle cx="174.0" cy="216.5" r="2.8"/><circle cx="194.0" cy="241.6" r="2.8"/><circle cx="165.4" cy="196.6" r="2.8"/><circle cx="170.6" cy="214.3" r="2.8"/><circle cx="191.1" cy="160.4" r="2.8"/><circle cx="204.4" cy="223.5" r="2.8"/><circle cx="194.6" cy="191.3" r="2.8"/><circle cx="212.2" cy="261.7" r="2.8"/><circle cx="163.3" cy="284.8" r="2.8"/><circle cx="165.8" cy="217.2" r="2.8"/><circle cx="186.0" cy="287.7" r="2.8"/><circle cx="185.2" cy="145.1" r="2.8"/></g>
<g fill="#8472c6"><circle cx="194.8" cy="236.4" r="2.8"/><circle cx="205.4" cy="236.5" r="2.8"/><circle cx="194.0" cy="201.2" r="2.8"/><circle cx="203.1" cy="216.3" r="2.8"/><circle cx="182.3" cy="170.6" r="2.8"/><circle cx="193.9" cy="221.1" r="2.8"/><circle cx="192.9" cy="224.0" r="2.8"/><circle cx="196.7" cy="269.7" r="2.8"/><circle cx="222.4" cy="234.1" r="2.8"/><circle cx="208.9" cy="257.5" r="2.8"/><circle cx="165.7" cy="271.7" r="2.8"/><circle cx="180.5" cy="186.8" r="2.8"/><circle cx="191.2" cy="281.3" r="2.8"/><circle cx="209.4" cy="262.3" r="2.8"/><circle cx="186.5" cy="241.1" r="2.8"/><circle cx="175.6" cy="158.2" r="2.8"/><circle cx="184.1" cy="193.1" r="2.8"/><circle cx="173.5" cy="266.5" r="2.8"/><circle cx="192.4" cy="199.3" r="2.8"/><circle cx="208.4" cy="207.1" r="2.8"/><circle cx="184.5" cy="188.4" r="2.8"/><circle cx="208.3" cy="232.0" r="2.8"/><circle cx="197.7" cy="246.1" r="2.8"/><circle cx="189.5" cy="161.7" r="2.8"/><circle cx="173.1" cy="278.9" r="2.8"/><circle cx="178.1" cy="278.9" r="2.8"/><circle cx="198.5" cy="219.7" r="2.8"/><circle cx="218.9" cy="258.7" r="2.8"/><circle cx="200.8" cy="197.1" r="2.8"/><circle cx="195.7" cy="183.4" r="2.8"/><circle cx="207.8" cy="239.6" r="2.8"/><circle cx="189.5" cy="248.6" r="2.8"/><circle cx="207.4" cy="249.2" r="2.8"/><circle cx="221.5" cy="243.5" r="2.8"/><circle cx="215.3" cy="261.7" r="2.8"/><circle cx="181.6" cy="152.8" r="2.8"/><circle cx="211.2" cy="237.1" r="2.8"/><circle cx="225.1" cy="239.8" r="2.8"/><circle cx="208.5" cy="236.0" r="2.8"/><circle cx="156.5" cy="276.3" r="2.8"/><circle cx="175.2" cy="165.5" r="2.8"/></g>
<g fill="#c6c0de"><circle cx="173.9" cy="226.1" r="2.8"/><circle cx="171.4" cy="231.6" r="2.8"/><circle cx="179.2" cy="234.1" r="2.8"/><circle cx="160.9" cy="213.4" r="2.8"/><circle cx="186.9" cy="204.3" r="2.8"/><circle cx="186.9" cy="188.5" r="2.8"/><circle cx="136.7" cy="146.3" r="2.8"/><circle cx="183.0" cy="256.7" r="2.8"/><circle cx="161.2" cy="203.2" r="2.8"/><circle cx="185.3" cy="206.5" r="2.8"/><circle cx="167.7" cy="218.3" r="2.8"/><circle cx="190.5" cy="188.1" r="2.8"/><circle cx="169.8" cy="228.6" r="2.8"/><circle cx="160.0" cy="231.0" r="2.8"/><circle cx="179.9" cy="221.5" r="2.8"/><circle cx="176.4" cy="242.4" r="2.8"/><circle cx="206.9" cy="229.7" r="2.8"/><circle cx="167.7" cy="225.9" r="2.8"/><circle cx="197.2" cy="257.3" r="2.8"/><circle cx="171.6" cy="246.5" r="2.8"/><circle cx="192.5" cy="274.8" r="2.8"/><circle cx="176.4" cy="214.2" r="2.8"/><circle cx="162.0" cy="237.1" r="2.8"/><circle cx="179.1" cy="214.4" r="2.8"/><circle cx="170.4" cy="208.4" r="2.8"/><circle cx="165.4" cy="237.2" r="2.8"/><circle cx="181.9" cy="203.9" r="2.8"/><circle cx="177.4" cy="205.8" r="2.8"/><circle cx="187.9" cy="213.2" r="2.8"/><circle cx="164.0" cy="239.8" r="2.8"/><circle cx="166.1" cy="206.9" r="2.8"/><circle cx="184.1" cy="203.2" r="2.8"/><circle cx="172.9" cy="234.2" r="2.8"/><circle cx="169.1" cy="201.6" r="2.8"/><circle cx="160.1" cy="210.8" r="2.8"/><circle cx="177.4" cy="292.8" r="2.8"/><circle cx="184.6" cy="213.6" r="2.8"/><circle cx="169.1" cy="234.0" r="2.8"/><circle cx="178.0" cy="203.8" r="2.8"/><circle cx="169.6" cy="279.5" r="2.8"/><circle cx="167.7" cy="236.1" r="2.8"/><circle cx="179.1" cy="289.3" r="2.8"/><circle cx="194.8" cy="252.2" r="2.8"/><circle cx="162.6" cy="257.2" r="2.8"/></g>
<g fill="#968acc"><circle cx="185.6" cy="197.0" r="2.8"/><circle cx="185.1" cy="170.6" r="2.8"/><circle cx="181.9" cy="148.0" r="2.8"/><circle cx="184.0" cy="162.9" r="2.8"/><circle cx="205.1" cy="209.3" r="2.8"/><circle cx="185.0" cy="239.5" r="2.8"/><circle cx="183.1" cy="251.0" r="2.8"/><circle cx="142.5" cy="161.2" r="2.8"/><circle cx="190.9" cy="241.3" r="2.8"/><circle cx="145.4" cy="160.2" r="2.8"/><circle cx="159.6" cy="267.5" r="2.8"/><circle cx="185.8" cy="140.7" r="2.8"/><circle cx="172.0" cy="262.5" r="2.8"/><circle cx="167.8" cy="265.1" r="2.8"/><circle cx="191.9" cy="196.9" r="2.8"/></g>
<g fill="#9c90cc"><circle cx="156.5" cy="166.7" r="2.8"/><circle cx="195.5" cy="203.8" r="2.8"/><circle cx="157.4" cy="176.6" r="2.8"/><circle cx="190.3" cy="153.9" r="2.8"/></g>
<g fill="#9c8acc"><circle cx="189.5" cy="219.4" r="2.8"/></g>
<g fill="#aea8d8"><circle cx="160.5" cy="178.5" r="2.8"/><circle cx="182.0" cy="234.6" r="2.8"/><circle cx="156.1" cy="173.5" r="2.8"/><circle cx="166.5" cy="189.4" r="2.8"/><circle cx="194.0" cy="206.7" r="2.8"/><circle cx="175.0" cy="247.1" r="2.8"/></g>
<g fill="#7e72c0"><circle cx="218.4" cy="225.8" r="2.8"/><circle cx="183.5" cy="145.5" r="2.8"/><circle cx="211.0" cy="273.9" r="2.8"/><circle cx="205.2" cy="244.2" r="2.8"/><circle cx="212.1" cy="231.8" r="2.8"/><circle cx="222.5" cy="249.3" r="2.8"/><circle cx="212.8" cy="239.5" r="2.8"/><circle cx="223.2" cy="227.2" r="2.8"/><circle cx="212.9" cy="234.4" r="2.8"/><circle cx="192.7" cy="159.0" r="2.8"/><circle cx="183.3" cy="277.5" r="2.8"/><circle cx="176.5" cy="282.4" r="2.8"/><circle cx="217.2" cy="221.6" r="2.8"/><circle cx="163.7" cy="289.1" r="2.8"/><circle cx="170.6" cy="271.8" r="2.8"/><circle cx="171.3" cy="296.8" r="2.8"/><circle cx="215.6" cy="257.1" r="2.8"/><circle cx="197.4" cy="237.1" r="2.8"/><circle cx="220.6" cy="237.2" r="2.8"/><circle cx="206.3" cy="226.4" r="2.8"/><circle cx="213.9" cy="263.7" r="2.8"/><circle cx="158.8" cy="163.1" r="2.8"/><circle cx="196.4" cy="274.0" r="2.8"/></g>
<g fill="#7866c0"><circle cx="199.7" cy="269.7" r="2.8"/><circle cx="223.3" cy="246.2" r="2.8"/><circle cx="195.8" cy="284.3" r="2.8"/><circle cx="200.4" cy="277.4" r="2.8"/><circle cx="204.9" cy="238.7" r="2.8"/><circle cx="205.4" cy="241.9" r="2.8"/><circle cx="170.0" cy="289.6" r="2.8"/><circle cx="163.4" cy="297.9" r="2.8"/><circle cx="201.5" cy="219.3" r="2.8"/><circle cx="207.6" cy="273.7" r="2.8"/><circle cx="204.8" cy="264.6" r="2.8"/></g>
<g fill="#a89cd2"><circle cx="173.7" cy="251.2" r="2.8"/><circle cx="156.7" cy="170.5" r="2.8"/><circle cx="157.6" cy="168.7" r="2.8"/><circle cx="175.0" cy="248.7" r="2.8"/><circle cx="193.5" cy="203.7" r="2.8"/><circle cx="164.3" cy="193.3" r="2.8"/><circle cx="167.3" cy="193.0" r="2.8"/><circle cx="156.1" cy="167.7" r="2.8"/><circle cx="173.0" cy="253.8" r="2.8"/><circle cx="153.8" cy="166.3" r="2.8"/></g>
<g fill="#baaed8"><circle cx="212.3" cy="256.2" r="2.8"/><circle cx="190.6" cy="233.9" r="2.8"/><circle cx="185.8" cy="226.0" r="2.8"/><circle cx="192.8" cy="214.5" r="2.8"/></g>
<g fill="#5a4eae"><circle cx="199.4" cy="189.1" r="2.8"/><circle cx="225.3" cy="244.8" r="2.8"/><circle cx="192.1" cy="262.5" r="2.8"/><circle cx="196.0" cy="208.8" r="2.8"/><circle cx="199.8" cy="206.8" r="2.8"/><circle cx="166.2" cy="260.0" r="2.8"/><circle cx="185.2" cy="178.7" r="2.8"/><circle cx="204.0" cy="251.7" r="2.8"/><circle cx="201.1" cy="280.1" r="2.8"/><circle cx="196.1" cy="198.4" r="2.8"/><circle cx="168.9" cy="267.5" r="2.8"/><circle cx="194.7" cy="165.7" r="2.8"/><circle cx="185.4" cy="232.0" r="2.8"/><circle cx="196.3" cy="229.7" r="2.8"/><circle cx="180.1" cy="246.4" r="2.8"/><circle cx="204.1" cy="194.0" r="2.8"/><circle cx="191.9" cy="170.7" r="2.8"/><circle cx="183.5" cy="231.6" r="2.8"/></g>
<g fill="#907ec6"><circle cx="190.9" cy="220.8" r="2.8"/><circle cx="138.3" cy="158.3" r="2.8"/><circle cx="164.5" cy="269.8" r="2.8"/><circle cx="206.6" cy="206.4" r="2.8"/><circle cx="194.6" cy="186.6" r="2.8"/><circle cx="184.8" cy="147.9" r="2.8"/><circle cx="185.0" cy="259.1" r="2.8"/><circle cx="194.8" cy="231.6" r="2.8"/><circle cx="180.8" cy="251.1" r="2.8"/><circle cx="188.0" cy="224.6" r="2.8"/><circle cx="199.6" cy="203.2" r="2.8"/><circle cx="190.9" cy="272.5" r="2.8"/><circle cx="180.4" cy="155.2" r="2.8"/><circle cx="186.7" cy="233.4" r="2.8"/><circle cx="207.2" cy="198.5" r="2.8"/><circle cx="187.8" cy="173.8" r="2.8"/><circle cx="183.8" cy="168.7" r="2.8"/><circle cx="188.0" cy="228.7" r="2.8"/><circle cx="165.3" cy="267.7" r="2.8"/><circle cx="191.3" cy="166.0" r="2.8"/><circle cx="186.6" cy="276.6" r="2.8"/><circle cx="190.9" cy="190.7" r="2.8"/><circle cx="178.7" cy="163.6" r="2.8"/><circle cx="179.2" cy="264.9" r="2.8"/><circle cx="176.7" cy="161.7" r="2.8"/><circle cx="133.5" cy="156.6" r="2.8"/><circle cx="140.7" cy="158.0" r="2.8"/><circle cx="194.5" cy="246.3" r="2.8"/><circle cx="200.3" cy="215.9" r="2.8"/><circle cx="194.2" cy="257.2" r="2.8"/><circle cx="187.5" cy="138.2" r="2.8"/><circle cx="135.8" cy="155.8" r="2.8"/><circle cx="165.3" cy="261.8" r="2.8"/><circle cx="206.4" cy="261.6" r="2.8"/><circle cx="179.0" cy="159.1" r="2.8"/><circle cx="192.8" cy="178.4" r="2.8"/><circle cx="177.4" cy="267.2" r="2.8"/><circle cx="195.4" cy="163.8" r="2.8"/><circle cx="189.8" cy="284.4" r="2.8"/><circle cx="199.1" cy="168.9" r="2.8"/><circle cx="146.5" cy="158.4" r="2.8"/><circle cx="192.3" cy="249.0" r="2.8"/><circle cx="159.6" cy="161.6" r="2.8"/><circle cx="162.2" cy="162.2" r="2.8"/><circle cx="167.4" cy="163.5" r="2.8"/></g>
<g fill="#b4aed8"><circle cx="160.5" cy="186.3" r="2.8"/><circle cx="189.7" cy="204.6" r="2.8"/><circle cx="180.7" cy="199.0" r="2.8"/><circle cx="189.1" cy="216.9" r="2.8"/><circle cx="158.1" cy="259.7" r="2.8"/></g>
<g fill="#bab4d8"><circle cx="178.7" cy="199.3" r="2.8"/><circle cx="180.8" cy="236.1" r="2.8"/><circle cx="189.6" cy="213.7" r="2.8"/><circle cx="191.0" cy="169.2" r="2.8"/><circle cx="161.3" cy="259.3" r="2.8"/><circle cx="157.6" cy="266.2" r="2.8"/><circle cx="196.5" cy="219.7" r="2.8"/><circle cx="191.2" cy="205.8" r="2.8"/><circle cx="173.2" cy="248.6" r="2.8"/><circle cx="185.2" cy="201.3" r="2.8"/><circle cx="207.7" cy="253.6" r="2.8"/><circle cx="184.6" cy="224.0" r="2.8"/><circle cx="196.9" cy="190.9" r="2.8"/><circle cx="168.4" cy="196.2" r="2.8"/><circle cx="175.4" cy="244.7" r="2.8"/><circle cx="179.1" cy="239.6" r="2.8"/><circle cx="162.9" cy="196.4" r="2.8"/><circle cx="195.4" cy="239.0" r="2.8"/><circle cx="158.9" cy="183.1" r="2.8"/><circle cx="204.8" cy="198.3" r="2.8"/><circle cx="135.9" cy="157.9" r="2.8"/></g>
<g fill="#d2d2de"><circle cx="173.5" cy="221.7" r="2.8"/><circle cx="166.3" cy="214.4" r="2.8"/></g>
<g fill="#9084cc"><circle cx="189.7" cy="264.0" r="2.8"/><circle cx="172.5" cy="263.9" r="2.8"/><circle cx="191.6" cy="215.7" r="2.8"/><circle cx="188.6" cy="186.7" r="2.8"/><circle cx="198.4" cy="178.4" r="2.8"/><circle cx="197.9" cy="181.2" r="2.8"/><circle cx="180.3" cy="176.3" r="2.8"/><circle cx="202.1" cy="188.3" r="2.8"/><circle cx="139.6" cy="161.1" r="2.8"/><circle cx="178.4" cy="179.3" r="2.8"/><circle cx="132.9" cy="151.0" r="2.8"/><circle cx="180.0" cy="191.8" r="2.8"/><circle cx="199.6" cy="198.6" r="2.8"/><circle cx="189.1" cy="225.9" r="2.8"/><circle cx="189.5" cy="178.2" r="2.8"/><circle cx="141.1" cy="154.1" r="2.8"/><circle cx="190.5" cy="193.9" r="2.8"/><circle cx="178.6" cy="259.5" r="2.8"/><circle cx="194.6" cy="276.6" r="2.8"/><circle cx="162.7" cy="282.7" r="2.8"/><circle cx="137.4" cy="153.7" r="2.8"/></g>
<g fill="#c0bade"><circle cx="171.1" cy="251.2" r="2.8"/><circle cx="188.1" cy="236.0" r="2.8"/><circle cx="186.7" cy="218.8" r="2.8"/><circle cx="164.4" cy="233.7" r="2.8"/><circle cx="144.9" cy="156.3" r="2.8"/><circle cx="195.3" cy="279.3" r="2.8"/><circle cx="160.0" cy="176.6" r="2.8"/><circle cx="150.6" cy="160.8" r="2.8"/><circle cx="214.2" cy="254.2" r="2.8"/><circle cx="167.5" cy="253.6" r="2.8"/><circle cx="171.9" cy="292.4" r="2.8"/><circle cx="188.2" cy="212.1" r="2.8"/><circle cx="218.4" cy="251.3" r="2.8"/><circle cx="185.4" cy="222.1" r="2.8"/><circle cx="159.5" cy="281.9" r="2.8"/><circle cx="181.8" cy="228.5" r="2.8"/><circle cx="182.5" cy="226.2" r="2.8"/><circle cx="169.1" cy="287.4" r="2.8"/><circle cx="208.9" cy="211.1" r="2.8"/></g>
<g fill="#b4a8d8"><circle cx="183.7" cy="228.3" r="2.8"/><circle cx="159.5" cy="181.6" r="2.8"/><circle cx="161.1" cy="183.8" r="2.8"/><circle cx="187.1" cy="198.7" r="2.8"/></g>
<g fill="#7860ba"><circle cx="157.0" cy="287.8" r="2.8"/><circle cx="203.8" cy="271.5" r="2.8"/><circle cx="160.7" cy="299.5" r="2.8"/></g>
<g fill="#7260ba"><circle cx="200.3" cy="272.0" r="2.8"/><circle cx="214.1" cy="220.9" r="2.8"/><circle cx="164.9" cy="292.2" r="2.8"/><circle cx="171.4" cy="286.7" r="2.8"/><circle cx="176.2" cy="293.9" r="2.8"/></g>
<g fill="#c0bad8"><circle cx="182.5" cy="200.6" r="2.8"/></g>
<g fill="#aea2d2"><circle cx="163.5" cy="188.8" r="2.8"/><circle cx="162.0" cy="191.0" r="2.8"/><circle cx="170.6" cy="254.8" r="2.8"/><circle cx="164.2" cy="258.6" r="2.8"/><circle cx="168.6" cy="256.1" r="2.8"/></g>
<g fill="#aea2d8"><circle cx="161.3" cy="188.9" r="2.8"/><circle cx="165.5" cy="191.1" r="2.8"/><circle cx="189.5" cy="201.2" r="2.8"/></g>
<g fill="#a8a2d2"><circle cx="179.3" cy="242.0" r="2.8"/><circle cx="185.0" cy="198.9" r="2.8"/><circle cx="157.6" cy="178.0" r="2.8"/><circle cx="162.1" cy="180.8" r="2.8"/></g>
<g fill="#d2ccde"><circle cx="169.3" cy="244.3" r="2.8"/><circle cx="165.2" cy="232.3" r="2.8"/></g>
<path d="M376.4,127.3 L377.0,136.7 L377.0,136.7 L377.0,136.8 L376.4,143.3 L376.4,143.3 L376.4,143.4 L376.3,143.5 L376.3,143.6 L376.3,143.6 L376.2,143.7 L376.2,143.7 L373.2,146.9 L372.0,152.1 L372.0,152.2 L371.9,152.2 L371.9,152.3 L371.9,152.4 L371.8,152.4 L368.1,156.5 L368.1,156.6 L365.6,159.0 L365.5,159.0 L365.4,159.1 L365.4,159.1 L365.3,159.1 L365.2,159.2 L365.2,159.2 L360.1,160.3 L360.0,160.3 L350.0,161.4 L349.9,161.4 L349.9,161.4 L349.8,161.4 L349.7,161.4 L349.6,161.3 L349.6,161.3 L340.8,157.0 L340.7,157.0 L329.6,149.4 L329.5,149.3 L329.5,149.3 L322.4,142.5 L316.9,144.9 L315.8,154.9 L320.5,159.9 L335.2,165.2 L335.3,165.3 L335.4,165.3 L342.9,169.7 L342.9,169.8 L343.0,169.8 L343.0,169.9 L343.1,169.9 L343.1,170.0 L343.2,170.1 L343.2,170.1 L343.2,170.2 L343.2,170.3 L343.9,175.6 L347.0,182.0 L347.0,182.0 L347.0,182.1 L349.5,190.8 L349.6,190.9 L350.7,197.4 L350.7,197.4 L350.7,197.5 L350.7,197.6 L350.7,197.7 L350.7,197.7 L348.0,207.0 L346.9,216.9 L348.9,233.7 L348.9,233.8 L349.9,250.7 L349.9,250.7 L349.9,250.8 L349.9,250.9 L349.9,251.0 L346.0,262.7 L343.1,274.4 L344.0,287.6 L347.8,299.1 L355.0,303.1 L366.4,300.5 L377.8,295.6 L389.4,287.2 L389.5,287.1 L389.6,287.1 L401.2,282.1 L412.7,275.4 L418.4,267.2 L422.3,255.5 L422.3,255.4 L427.1,243.7 L429.0,233.9 L426.1,225.8 L416.6,217.5 L416.6,217.5 L416.5,217.4 L416.5,217.3 L416.4,217.3 L408.0,202.3 L408.0,202.2 L404.2,193.5 L400.5,185.9 L400.5,185.9 L400.5,185.8 L398.0,174.9 L397.9,174.8 L396.7,164.0 L394.2,153.4 L386.9,146.0 L386.8,145.9 L386.8,145.8 L386.7,145.8 L386.7,145.7 L386.7,145.6 L384.2,136.9 L384.1,136.9 L384.1,136.8 L382.9,125.5 L379.6,124.1 Z M358.3,162.0 L358.3,162.0 L358.4,162.0 L358.5,162.0 L364.8,163.2 L364.9,163.2 L365.0,163.3 L365.0,163.3 L365.1,163.3 L365.2,163.4 L365.2,163.4 L365.3,163.5 L365.3,163.5 L365.4,163.6 L365.4,163.7 L365.4,163.7 L365.4,163.8 L365.5,163.9 L366.0,167.9 L367.2,175.8 L369.5,184.8 L371.8,192.8 L371.8,192.8 L371.8,192.9 L372.4,197.4 L372.4,197.5 L372.4,197.6 L372.4,197.6 L372.3,197.7 L372.3,197.8 L372.3,197.8 L372.3,197.9 L372.2,198.0 L372.2,198.0 L372.1,198.1 L372.0,198.1 L372.0,198.2 L371.9,198.2 L371.8,198.3 L371.8,198.3 L371.7,198.3 L371.6,198.3 L364.1,198.8 L364.1,198.8 L364.0,198.8 L363.9,198.8 L363.8,198.8 L363.8,198.7 L363.7,198.7 L363.6,198.7 L363.6,198.6 L363.5,198.6 L363.5,198.5 L363.4,198.4 L361.5,195.4 L361.4,195.4 L361.4,195.3 L361.4,195.3 L359.3,189.3 L355.9,182.4 L352.4,175.4 L352.4,175.3 L352.4,175.2 L350.7,169.2 L350.6,169.1 L350.6,169.1 L350.6,169.0 L350.6,163.5 L350.6,163.4 L350.6,163.3 L350.7,163.3 L350.7,163.2 L350.7,163.1 L350.8,163.1 L350.8,163.0 L350.9,162.9 L350.9,162.9 L351.0,162.8 L351.0,162.8 L351.1,162.8 L351.2,162.7 L351.3,162.7 L351.3,162.7 Z " fill="#e33c26" fill-rule="evenodd"/>
<path d="M346.7,201.7 L344.8,225.0 L344.8,250.0 L346.7,265.2 L354.7,265.2 L361.4,260.5 L365.3,251.7 L370.3,239.7 L374.2,227.8 L377.2,214.9 L377.2,205.3 L371.6,199.8 L360.1,198.8 Z " fill="#e4b42c" fill-rule="evenodd"/>
<g fill="#e33c26"><circle cx="380.7" cy="212.4" r="2.9"/><circle cx="382.0" cy="188.1" r="2.9"/><circle cx="365.1" cy="284.9" r="2.9"/><circle cx="348.6" cy="269.0" r="2.9"/><circle cx="352.6" cy="183.5" r="2.9"/><circle cx="408.6" cy="268.5" r="2.9"/><circle cx="376.1" cy="276.7" r="2.9"/><circle cx="385.6" cy="287.2" r="2.9"/><circle cx="376.4" cy="246.3" r="2.9"/><circle cx="394.9" cy="229.8" r="2.9"/><circle cx="375.3" cy="253.6" r="2.9"/><circle cx="348.7" cy="287.9" r="2.9"/><circle cx="370.6" cy="267.0" r="2.9"/><circle cx="345.7" cy="284.3" r="2.9"/><circle cx="370.4" cy="172.5" r="2.9"/><circle cx="408.7" cy="229.7" r="2.9"/><circle cx="383.4" cy="237.2" r="2.9"/><circle cx="357.7" cy="187.8" r="2.9"/><circle cx="404.4" cy="253.6" r="2.9"/><circle cx="347.9" cy="280.1" r="2.9"/><circle cx="378.7" cy="194.0" r="2.9"/><circle cx="409.9" cy="240.1" r="2.9"/><circle cx="399.0" cy="228.3" r="2.9"/><circle cx="419.9" cy="227.9" r="2.9"/><circle cx="406.7" cy="219.7" r="2.9"/><circle cx="398.8" cy="264.4" r="2.9"/><circle cx="359.4" cy="289.9" r="2.9"/><circle cx="417.8" cy="234.5" r="2.9"/><circle cx="403.6" cy="209.6" r="2.9"/><circle cx="416.6" cy="248.2" r="2.9"/><circle cx="394.4" cy="166.9" r="2.9"/><circle cx="423.4" cy="248.4" r="2.9"/><circle cx="416.0" cy="234.6" r="2.9"/><circle cx="380.3" cy="149.2" r="2.9"/><circle cx="390.2" cy="196.7" r="2.9"/><circle cx="402.5" cy="248.3" r="2.9"/><circle cx="408.3" cy="243.2" r="2.9"/><circle cx="396.7" cy="268.9" r="2.9"/><circle cx="384.7" cy="242.9" r="2.9"/><circle cx="421.0" cy="230.6" r="2.9"/><circle cx="357.7" cy="301.0" r="2.9"/><circle cx="374.4" cy="295.7" r="2.9"/><circle cx="401.2" cy="259.5" r="2.9"/><circle cx="375.7" cy="293.0" r="2.9"/><circle cx="364.0" cy="260.9" r="2.9"/><circle cx="390.8" cy="188.8" r="2.9"/><circle cx="397.4" cy="183.5" r="2.9"/><circle cx="317.9" cy="154.1" r="2.9"/><circle cx="370.0" cy="271.6" r="2.9"/><circle cx="417.0" cy="237.4" r="2.9"/><circle cx="402.1" cy="279.4" r="2.9"/><circle cx="370.0" cy="282.4" r="2.9"/><circle cx="388.8" cy="177.8" r="2.9"/><circle cx="386.1" cy="266.1" r="2.9"/><circle cx="391.3" cy="214.4" r="2.9"/><circle cx="404.0" cy="230.5" r="2.9"/><circle cx="381.8" cy="245.7" r="2.9"/><circle cx="392.2" cy="248.7" r="2.9"/><circle cx="396.6" cy="190.9" r="2.9"/><circle cx="386.9" cy="254.3" r="2.9"/><circle cx="401.5" cy="252.9" r="2.9"/><circle cx="403.8" cy="255.6" r="2.9"/><circle cx="369.4" cy="279.2" r="2.9"/><circle cx="400.1" cy="265.9" r="2.9"/><circle cx="401.0" cy="229.7" r="2.9"/><circle cx="364.8" cy="255.9" r="2.9"/><circle cx="409.3" cy="219.5" r="2.9"/><circle cx="404.6" cy="196.9" r="2.9"/><circle cx="386.8" cy="191.6" r="2.9"/><circle cx="383.2" cy="138.3" r="2.9"/><circle cx="398.2" cy="200.9" r="2.9"/><circle cx="384.9" cy="255.5" r="2.9"/><circle cx="386.0" cy="251.6" r="2.9"/><circle cx="399.7" cy="187.8" r="2.9"/><circle cx="394.3" cy="251.4" r="2.9"/><circle cx="372.3" cy="269.1" r="2.9"/><circle cx="398.4" cy="211.6" r="2.9"/><circle cx="392.6" cy="232.7" r="2.9"/><circle cx="352.8" cy="297.6" r="2.9"/><circle cx="357.2" cy="280.2" r="2.9"/><circle cx="403.1" cy="250.3" r="2.9"/><circle cx="400.2" cy="277.5" r="2.9"/><circle cx="382.0" cy="152.4" r="2.9"/><circle cx="384.7" cy="212.0" r="2.9"/><circle cx="373.6" cy="288.2" r="2.9"/><circle cx="391.9" cy="167.0" r="2.9"/><circle cx="410.9" cy="274.4" r="2.9"/><circle cx="384.1" cy="263.4" r="2.9"/><circle cx="359.0" cy="255.7" r="2.9"/><circle cx="396.7" cy="229.7" r="2.9"/><circle cx="404.0" cy="214.6" r="2.9"/><circle cx="385.8" cy="152.4" r="2.9"/><circle cx="388.7" cy="151.2" r="2.9"/><circle cx="370.8" cy="183.4" r="2.9"/><circle cx="413.9" cy="238.3" r="2.9"/><circle cx="413.2" cy="219.2" r="2.9"/><circle cx="401.1" cy="245.1" r="2.9"/><circle cx="388.2" cy="203.5" r="2.9"/><circle cx="386.5" cy="222.1" r="2.9"/><circle cx="382.4" cy="209.9" r="2.9"/><circle cx="371.7" cy="253.4" r="2.9"/><circle cx="417.9" cy="225.0" r="2.9"/><circle cx="374.2" cy="248.6" r="2.9"/><circle cx="360.5" cy="280.4" r="2.9"/><circle cx="385.4" cy="183.5" r="2.9"/><circle cx="423.5" cy="237.6" r="2.9"/><circle cx="381.3" cy="159.8" r="2.9"/><circle cx="383.4" cy="170.9" r="2.9"/><circle cx="353.2" cy="180.7" r="2.9"/><circle cx="383.7" cy="154.7" r="2.9"/><circle cx="346.6" cy="282.4" r="2.9"/><circle cx="392.0" cy="209.4" r="2.9"/><circle cx="413.8" cy="248.5" r="2.9"/><circle cx="356.8" cy="274.3" r="2.9"/><circle cx="404.1" cy="204.2" r="2.9"/><circle cx="362.7" cy="268.9" r="2.9"/><circle cx="418.2" cy="229.5" r="2.9"/><circle cx="397.7" cy="277.0" r="2.9"/><circle cx="405.1" cy="226.7" r="2.9"/><circle cx="379.5" cy="130.4" r="2.9"/><circle cx="425.1" cy="235.0" r="2.9"/><circle cx="398.5" cy="238.4" r="2.9"/><circle cx="394.8" cy="225.4" r="2.9"/><circle cx="387.2" cy="201.2" r="2.9"/><circle cx="386.2" cy="275.1" r="2.9"/><circle cx="396.6" cy="243.8" r="2.9"/><circle cx="405.8" cy="276.7" r="2.9"/><circle cx="387.6" cy="247.7" r="2.9"/><circle cx="389.2" cy="268.9" r="2.9"/><circle cx="396.1" cy="196.7" r="2.9"/><circle cx="395.4" cy="170.0" r="2.9"/><circle cx="357.4" cy="294.8" r="2.9"/><circle cx="389.8" cy="211.1" r="2.9"/><circle cx="376.9" cy="251.7" r="2.9"/><circle cx="377.5" cy="290.6" r="2.9"/><circle cx="325.1" cy="146.9" r="2.9"/><circle cx="416.7" cy="222.4" r="2.9"/><circle cx="332.6" cy="154.3" r="2.9"/><circle cx="377.8" cy="144.7" r="2.9"/><circle cx="356.3" cy="269.5" r="2.9"/><circle cx="389.2" cy="271.2" r="2.9"/><circle cx="392.5" cy="185.5" r="2.9"/><circle cx="322.0" cy="151.4" r="2.9"/><circle cx="412.0" cy="261.4" r="2.9"/><circle cx="378.8" cy="265.9" r="2.9"/><circle cx="397.2" cy="235.7" r="2.9"/><circle cx="345.7" cy="279.3" r="2.9"/><circle cx="347.2" cy="288.2" r="2.9"/><circle cx="393.6" cy="279.0" r="2.9"/><circle cx="395.1" cy="193.5" r="2.9"/><circle cx="368.7" cy="248.0" r="2.9"/><circle cx="380.2" cy="271.3" r="2.9"/><circle cx="408.9" cy="261.1" r="2.9"/><circle cx="389.7" cy="274.4" r="2.9"/><circle cx="393.6" cy="228.0" r="2.9"/><circle cx="374.0" cy="193.4" r="2.9"/><circle cx="398.1" cy="219.6" r="2.9"/><circle cx="378.7" cy="276.8" r="2.9"/><circle cx="381.5" cy="217.4" r="2.9"/><circle cx="393.6" cy="239.9" r="2.9"/><circle cx="392.3" cy="159.6" r="2.9"/><circle cx="381.7" cy="256.1" r="2.9"/><circle cx="380.2" cy="256.1" r="2.9"/><circle cx="382.8" cy="157.5" r="2.9"/><circle cx="359.6" cy="269.5" r="2.9"/><circle cx="395.2" cy="185.0" r="2.9"/><circle cx="374.6" cy="269.8" r="2.9"/><circle cx="425.0" cy="229.4" r="2.9"/><circle cx="389.2" cy="188.5" r="2.9"/><circle cx="407.2" cy="235.5" r="2.9"/><circle cx="383.9" cy="176.0" r="2.9"/><circle cx="379.0" cy="224.2" r="2.9"/><circle cx="402.1" cy="264.1" r="2.9"/><circle cx="387.8" cy="276.3" r="2.9"/><circle cx="383.2" cy="193.6" r="2.9"/><circle cx="386.6" cy="237.7" r="2.9"/><circle cx="352.7" cy="188.9" r="2.9"/><circle cx="354.6" cy="275.1" r="2.9"/><circle cx="415.4" cy="229.8" r="2.9"/><circle cx="390.0" cy="201.0" r="2.9"/><circle cx="393.5" cy="237.8" r="2.9"/><circle cx="403.5" cy="198.7" r="2.9"/><circle cx="348.3" cy="175.4" r="2.9"/><circle cx="405.8" cy="256.8" r="2.9"/><circle cx="397.9" cy="193.4" r="2.9"/><circle cx="408.1" cy="206.7" r="2.9"/><circle cx="380.7" cy="138.1" r="2.9"/><circle cx="365.2" cy="277.0" r="2.9"/><circle cx="366.6" cy="280.0" r="2.9"/><circle cx="377.3" cy="191.1" r="2.9"/><circle cx="372.3" cy="280.1" r="2.9"/><circle cx="394.7" cy="281.6" r="2.9"/><circle cx="392.3" cy="206.4" r="2.9"/><circle cx="402.2" cy="211.3" r="2.9"/><circle cx="388.1" cy="282.1" r="2.9"/><circle cx="374.0" cy="177.6" r="2.9"/><circle cx="384.7" cy="199.4" r="2.9"/><circle cx="412.7" cy="246.3" r="2.9"/><circle cx="392.1" cy="178.3" r="2.9"/><circle cx="392.1" cy="266.9" r="2.9"/><circle cx="348.3" cy="165.1" r="2.9"/><circle cx="408.3" cy="222.4" r="2.9"/><circle cx="382.0" cy="178.5" r="2.9"/><circle cx="370.5" cy="167.0" r="2.9"/><circle cx="377.3" cy="258.6" r="2.9"/><circle cx="373.4" cy="277.6" r="2.9"/><circle cx="355.7" cy="297.5" r="2.9"/><circle cx="366.7" cy="224.6" r="2.9"/><circle cx="399.8" cy="213.9" r="2.9"/><circle cx="405.7" cy="245.2" r="2.9"/><circle cx="391.2" cy="235.2" r="2.9"/><circle cx="369.0" cy="285.3" r="2.9"/><circle cx="388.2" cy="245.7" r="2.9"/><circle cx="378.6" cy="154.2" r="2.9"/><circle cx="389.5" cy="154.5" r="2.9"/><circle cx="383.4" cy="269.0" r="2.9"/><circle cx="381.9" cy="235.2" r="2.9"/><circle cx="404.4" cy="269.7" r="2.9"/><circle cx="366.2" cy="274.8" r="2.9"/><circle cx="421.8" cy="240.1" r="2.9"/><circle cx="393.4" cy="217.0" r="2.9"/><circle cx="401.2" cy="191.0" r="2.9"/><circle cx="398.1" cy="271.7" r="2.9"/><circle cx="411.2" cy="217.2" r="2.9"/><circle cx="405.2" cy="264.5" r="2.9"/><circle cx="401.2" cy="209.9" r="2.9"/><circle cx="420.6" cy="254.2" r="2.9"/><circle cx="404.3" cy="273.8" r="2.9"/><circle cx="380.2" cy="191.6" r="2.9"/><circle cx="324.4" cy="159.5" r="2.9"/><circle cx="385.1" cy="162.9" r="2.9"/><circle cx="416.4" cy="264.4" r="2.9"/><circle cx="402.6" cy="206.5" r="2.9"/><circle cx="404.2" cy="216.5" r="2.9"/><circle cx="396.5" cy="227.7" r="2.9"/><circle cx="412.1" cy="230.5" r="2.9"/><circle cx="359.7" cy="300.0" r="2.9"/><circle cx="372.3" cy="153.7" r="2.9"/><circle cx="392.1" cy="203.7" r="2.9"/><circle cx="387.5" cy="264.6" r="2.9"/><circle cx="366.6" cy="269.5" r="2.9"/><circle cx="388.3" cy="240.6" r="2.9"/><circle cx="348.0" cy="295.0" r="2.9"/><circle cx="387.6" cy="175.2" r="2.9"/><circle cx="390.6" cy="186.4" r="2.9"/><circle cx="385.9" cy="224.8" r="2.9"/><circle cx="388.2" cy="193.7" r="2.9"/><circle cx="394.8" cy="260.6" r="2.9"/><circle cx="384.1" cy="228.2" r="2.9"/><circle cx="399.6" cy="216.4" r="2.9"/><circle cx="395.3" cy="179.8" r="2.9"/><circle cx="419.2" cy="245.3" r="2.9"/><circle cx="372.1" cy="274.2" r="2.9"/><circle cx="361.2" cy="297.4" r="2.9"/><circle cx="372.6" cy="264.7" r="2.9"/><circle cx="391.8" cy="161.8" r="2.9"/><circle cx="363.1" cy="274.8" r="2.9"/><circle cx="374.1" cy="213.9" r="2.9"/><circle cx="405.3" cy="242.8" r="2.9"/><circle cx="387.9" cy="161.6" r="2.9"/><circle cx="364.5" cy="286.8" r="2.9"/><circle cx="401.2" cy="235.3" r="2.9"/><circle cx="374.3" cy="149.0" r="2.9"/><circle cx="385.1" cy="193.8" r="2.9"/><circle cx="384.8" cy="187.6" r="2.9"/><circle cx="413.8" cy="254.0" r="2.9"/><circle cx="374.8" cy="232.2" r="2.9"/><circle cx="395.4" cy="279.7" r="2.9"/><circle cx="425.4" cy="237.8" r="2.9"/><circle cx="388.6" cy="260.9" r="2.9"/><circle cx="328.3" cy="151.9" r="2.9"/><circle cx="374.2" cy="174.5" r="2.9"/><circle cx="356.3" cy="191.0" r="2.9"/><circle cx="377.9" cy="253.6" r="2.9"/><circle cx="362.0" cy="287.8" r="2.9"/><circle cx="391.4" cy="198.0" r="2.9"/><circle cx="391.5" cy="193.7" r="2.9"/><circle cx="394.4" cy="177.6" r="2.9"/><circle cx="395.4" cy="274.1" r="2.9"/><circle cx="399.4" cy="279.4" r="2.9"/><circle cx="411.1" cy="263.3" r="2.9"/><circle cx="418.8" cy="251.3" r="2.9"/><circle cx="407.9" cy="217.5" r="2.9"/><circle cx="378.3" cy="274.2" r="2.9"/><circle cx="383.5" cy="222.9" r="2.9"/><circle cx="402.2" cy="217.7" r="2.9"/><circle cx="386.8" cy="154.2" r="2.9"/><circle cx="390.0" cy="170.5" r="2.9"/><circle cx="414.0" cy="223.0" r="2.9"/><circle cx="392.3" cy="201.0" r="2.9"/><circle cx="385.5" cy="168.1" r="2.9"/><circle cx="376.0" cy="282.4" r="2.9"/><circle cx="377.9" cy="263.8" r="2.9"/><circle cx="350.8" cy="285.1" r="2.9"/><circle cx="359.4" cy="284.4" r="2.9"/><circle cx="372.7" cy="237.7" r="2.9"/><circle cx="324.9" cy="157.0" r="2.9"/><circle cx="401.4" cy="201.7" r="2.9"/><circle cx="392.7" cy="254.4" r="2.9"/><circle cx="378.5" cy="180.8" r="2.9"/><circle cx="374.4" cy="159.9" r="2.9"/><circle cx="364.6" cy="245.0" r="2.9"/><circle cx="347.4" cy="290.0" r="2.9"/><circle cx="350.9" cy="269.3" r="2.9"/><circle cx="346.4" cy="266.7" r="2.9"/><circle cx="411.1" cy="249.0" r="2.9"/><circle cx="319.7" cy="152.2" r="2.9"/><circle cx="392.7" cy="243.5" r="2.9"/><circle cx="404.3" cy="200.8" r="2.9"/><circle cx="361.2" cy="281.9" r="2.9"/><circle cx="418.3" cy="256.9" r="2.9"/><circle cx="394.7" cy="256.7" r="2.9"/><circle cx="352.6" cy="277.7" r="2.9"/><circle cx="390.7" cy="256.9" r="2.9"/><circle cx="396.7" cy="209.4" r="2.9"/><circle cx="402.4" cy="233.0" r="2.9"/><circle cx="352.9" cy="272.4" r="2.9"/><circle cx="368.4" cy="269.3" r="2.9"/><circle cx="406.9" cy="251.5" r="2.9"/><circle cx="356.6" cy="195.7" r="2.9"/><circle cx="398.5" cy="207.2" r="2.9"/><circle cx="410.1" cy="269.6" r="2.9"/><circle cx="404.3" cy="206.4" r="2.9"/><circle cx="384.9" cy="277.0" r="2.9"/><circle cx="379.7" cy="162.3" r="2.9"/><circle cx="369.5" cy="295.9" r="2.9"/><circle cx="391.8" cy="282.2" r="2.9"/><circle cx="398.0" cy="241.2" r="2.9"/><circle cx="415.2" cy="225.5" r="2.9"/><circle cx="362.4" cy="279.6" r="2.9"/><circle cx="390.8" cy="152.1" r="2.9"/><circle cx="416.5" cy="227.3" r="2.9"/><circle cx="385.5" cy="157.4" r="2.9"/><circle cx="425.9" cy="227.7" r="2.9"/><circle cx="420.2" cy="222.9" r="2.9"/><circle cx="353.3" cy="284.4" r="2.9"/><circle cx="397.4" cy="198.6" r="2.9"/><circle cx="358.4" cy="267.2" r="2.9"/><circle cx="377.2" cy="177.8" r="2.9"/><circle cx="398.0" cy="246.4" r="2.9"/><circle cx="346.1" cy="162.3" r="2.9"/><circle cx="379.2" cy="135.9" r="2.9"/><circle cx="377.5" cy="217.3" r="2.9"/><circle cx="382.3" cy="230.1" r="2.9"/><circle cx="412.3" cy="267.3" r="2.9"/><circle cx="350.8" cy="290.0" r="2.9"/><circle cx="361.1" cy="272.4" r="2.9"/><circle cx="387.7" cy="157.2" r="2.9"/><circle cx="379.2" cy="293.0" r="2.9"/><circle cx="416.0" cy="251.5" r="2.9"/><circle cx="377.2" cy="284.9" r="2.9"/><circle cx="378.9" cy="230.7" r="2.9"/><circle cx="367.9" cy="271.2" r="2.9"/><circle cx="406.5" cy="267.1" r="2.9"/><circle cx="422.7" cy="243.8" r="2.9"/><circle cx="392.5" cy="284.8" r="2.9"/><circle cx="411.2" cy="254.0" r="2.9"/><circle cx="391.4" cy="172.8" r="2.9"/><circle cx="368.3" cy="289.4" r="2.9"/><circle cx="366.8" cy="288.2" r="2.9"/><circle cx="382.7" cy="271.1" r="2.9"/><circle cx="334.3" cy="162.3" r="2.9"/><circle cx="383.0" cy="163.0" r="2.9"/><circle cx="409.7" cy="214.3" r="2.9"/><circle cx="349.2" cy="277.5" r="2.9"/><circle cx="381.7" cy="248.5" r="2.9"/><circle cx="411.1" cy="243.6" r="2.9"/><circle cx="409.4" cy="208.8" r="2.9"/><circle cx="421.8" cy="250.9" r="2.9"/><circle cx="383.7" cy="144.2" r="2.9"/><circle cx="414.9" cy="220.1" r="2.9"/><circle cx="366.6" cy="237.5" r="2.9"/><circle cx="400.3" cy="225.2" r="2.9"/><circle cx="381.0" cy="269.1" r="2.9"/><circle cx="345.5" cy="275.2" r="2.9"/><circle cx="409.8" cy="246.4" r="2.9"/><circle cx="382.7" cy="241.0" r="2.9"/><circle cx="374.0" cy="188.2" r="2.9"/><circle cx="355.2" cy="187.8" r="2.9"/><circle cx="420.1" cy="248.5" r="2.9"/><circle cx="334.6" cy="157.0" r="2.9"/><circle cx="321.5" cy="148.9" r="2.9"/><circle cx="392.7" cy="169.7" r="2.9"/><circle cx="400.1" cy="219.6" r="2.9"/><circle cx="401.2" cy="204.5" r="2.9"/><circle cx="378.7" cy="222.1" r="2.9"/><circle cx="415.5" cy="266.5" r="2.9"/><circle cx="415.3" cy="261.0" r="2.9"/><circle cx="381.0" cy="232.7" r="2.9"/><circle cx="409.8" cy="272.4" r="2.9"/><circle cx="406.9" cy="229.8" r="2.9"/><circle cx="354.7" cy="293.4" r="2.9"/><circle cx="412.5" cy="240.6" r="2.9"/><circle cx="369.9" cy="297.6" r="2.9"/><circle cx="413.1" cy="227.8" r="2.9"/><circle cx="426.7" cy="240.8" r="2.9"/><circle cx="383.9" cy="274.7" r="2.9"/><circle cx="379.5" cy="214.9" r="2.9"/><circle cx="401.4" cy="228.3" r="2.9"/><circle cx="416.8" cy="243.3" r="2.9"/><circle cx="405.9" cy="224.8" r="2.9"/><circle cx="374.2" cy="290.8" r="2.9"/><circle cx="393.7" cy="190.2" r="2.9"/><circle cx="369.0" cy="174.6" r="2.9"/><circle cx="413.4" cy="217.3" r="2.9"/><circle cx="377.1" cy="235.7" r="2.9"/><circle cx="391.8" cy="229.8" r="2.9"/><circle cx="379.0" cy="187.8" r="2.9"/><circle cx="369.8" cy="287.3" r="2.9"/><circle cx="406.4" cy="261.1" r="2.9"/><circle cx="362.2" cy="214.9" r="2.9"/><circle cx="372.2" cy="290.6" r="2.9"/><circle cx="378.9" cy="142.0" r="2.9"/><circle cx="357.2" cy="289.4" r="2.9"/><circle cx="372.6" cy="267.4" r="2.9"/><circle cx="413.9" cy="242.8" r="2.9"/><circle cx="385.2" cy="214.2" r="2.9"/><circle cx="399.9" cy="193.3" r="2.9"/><circle cx="322.9" cy="146.9" r="2.9"/><circle cx="408.2" cy="232.7" r="2.9"/><circle cx="381.2" cy="258.8" r="2.9"/><circle cx="371.0" cy="240.0" r="2.9"/><circle cx="336.6" cy="164.5" r="2.9"/><circle cx="383.5" cy="186.5" r="2.9"/><circle cx="391.6" cy="220.0" r="2.9"/><circle cx="322.1" cy="156.6" r="2.9"/><circle cx="405.8" cy="215.1" r="2.9"/><circle cx="391.5" cy="251.8" r="2.9"/><circle cx="397.7" cy="261.4" r="2.9"/><circle cx="416.1" cy="254.0" r="2.9"/><circle cx="406.5" cy="204.4" r="2.9"/><circle cx="353.3" cy="190.7" r="2.9"/><circle cx="417.1" cy="232.9" r="2.9"/><circle cx="379.7" cy="282.9" r="2.9"/><circle cx="362.6" cy="290.2" r="2.9"/><circle cx="386.0" cy="146.2" r="2.9"/><circle cx="389.7" cy="243.8" r="2.9"/><circle cx="377.5" cy="233.3" r="2.9"/><circle cx="395.2" cy="216.3" r="2.9"/><circle cx="384.8" cy="204.4" r="2.9"/><circle cx="362.4" cy="264.3" r="2.9"/><circle cx="409.3" cy="225.6" r="2.9"/><circle cx="382.8" cy="214.9" r="2.9"/><circle cx="350.7" cy="185.2" r="2.9"/><circle cx="399.3" cy="253.2" r="2.9"/><circle cx="394.9" cy="272.6" r="2.9"/><circle cx="398.0" cy="281.9" r="2.9"/><circle cx="389.6" cy="263.6" r="2.9"/><circle cx="403.6" cy="266.6" r="2.9"/><circle cx="365.7" cy="264.5" r="2.9"/><circle cx="385.5" cy="220.2" r="2.9"/><circle cx="392.0" cy="271.2" r="2.9"/><circle cx="377.6" cy="243.7" r="2.9"/><circle cx="389.4" cy="221.8" r="2.9"/><circle cx="387.0" cy="164.3" r="2.9"/><circle cx="347.5" cy="285.3" r="2.9"/><circle cx="397.8" cy="266.1" r="2.9"/><circle cx="407.4" cy="248.8" r="2.9"/><circle cx="415.8" cy="245.5" r="2.9"/><circle cx="384.8" cy="271.3" r="2.9"/><circle cx="411.9" cy="225.0" r="2.9"/><circle cx="393.9" cy="246.2" r="2.9"/><circle cx="324.6" cy="148.7" r="2.9"/><circle cx="396.2" cy="207.2" r="2.9"/><circle cx="398.1" cy="203.5" r="2.9"/><circle cx="403.0" cy="240.3" r="2.9"/><circle cx="393.7" cy="161.8" r="2.9"/><circle cx="390.4" cy="259.4" r="2.9"/><circle cx="376.8" cy="162.2" r="2.9"/><circle cx="396.4" cy="258.3" r="2.9"/><circle cx="395.7" cy="237.5" r="2.9"/><circle cx="416.8" cy="258.5" r="2.9"/><circle cx="350.4" cy="296.0" r="2.9"/><circle cx="330.0" cy="158.9" r="2.9"/><circle cx="390.4" cy="216.9" r="2.9"/><circle cx="380.7" cy="264.2" r="2.9"/><circle cx="388.1" cy="267.3" r="2.9"/><circle cx="398.6" cy="222.7" r="2.9"/><circle cx="406.9" cy="209.6" r="2.9"/><circle cx="423.7" cy="241.3" r="2.9"/><circle cx="352.7" cy="193.4" r="2.9"/><circle cx="350.6" cy="279.8" r="2.9"/><circle cx="376.3" cy="152.5" r="2.9"/><circle cx="379.0" cy="146.7" r="2.9"/><circle cx="399.3" cy="191.1" r="2.9"/><circle cx="380.5" cy="165.1" r="2.9"/><circle cx="382.6" cy="204.4" r="2.9"/><circle cx="382.4" cy="276.3" r="2.9"/><circle cx="380.7" cy="221.9" r="2.9"/><circle cx="407.4" cy="211.1" r="2.9"/><circle cx="378.8" cy="208.7" r="2.9"/><circle cx="411.5" cy="211.1" r="2.9"/><circle cx="391.9" cy="277.2" r="2.9"/><circle cx="425.0" cy="245.7" r="2.9"/><circle cx="372.4" cy="222.3" r="2.9"/><circle cx="388.8" cy="198.9" r="2.9"/><circle cx="378.8" cy="203.2" r="2.9"/><circle cx="336.7" cy="162.6" r="2.9"/><circle cx="400.7" cy="240.6" r="2.9"/><circle cx="353.2" cy="292.7" r="2.9"/><circle cx="398.2" cy="214.9" r="2.9"/><circle cx="384.4" cy="165.1" r="2.9"/><circle cx="373.8" cy="271.9" r="2.9"/><circle cx="350.1" cy="281.5" r="2.9"/><circle cx="416.0" cy="256.4" r="2.9"/><circle cx="419.4" cy="259.5" r="2.9"/><circle cx="389.9" cy="164.3" r="2.9"/><circle cx="420.0" cy="237.4" r="2.9"/><circle cx="385.5" cy="261.0" r="2.9"/><circle cx="331.9" cy="161.9" r="2.9"/><circle cx="320.3" cy="155.2" r="2.9"/><circle cx="390.4" cy="253.8" r="2.9"/><circle cx="372.7" cy="259.3" r="2.9"/><circle cx="377.9" cy="148.4" r="2.9"/><circle cx="390.3" cy="285.2" r="2.9"/><circle cx="319.9" cy="146.5" r="2.9"/><circle cx="379.7" cy="287.9" r="2.9"/><circle cx="349.9" cy="271.6" r="2.9"/><circle cx="425.8" cy="233.1" r="2.9"/><circle cx="389.6" cy="160.1" r="2.9"/><circle cx="413.6" cy="264.2" r="2.9"/><circle cx="358.6" cy="198.1" r="2.9"/><circle cx="401.5" cy="243.4" r="2.9"/><circle cx="381.7" cy="143.8" r="2.9"/><circle cx="381.4" cy="132.9" r="2.9"/><circle cx="365.9" cy="294.7" r="2.9"/><circle cx="405.5" cy="258.9" r="2.9"/><circle cx="388.5" cy="209.3" r="2.9"/><circle cx="389.2" cy="248.9" r="2.9"/><circle cx="388.3" cy="255.6" r="2.9"/><circle cx="385.2" cy="230.3" r="2.9"/><circle cx="403.4" cy="246.1" r="2.9"/><circle cx="402.5" cy="268.8" r="2.9"/><circle cx="362.5" cy="294.9" r="2.9"/><circle cx="372.2" cy="295.9" r="2.9"/><circle cx="381.4" cy="279.5" r="2.9"/><circle cx="403.0" cy="234.6" r="2.9"/><circle cx="401.6" cy="222.7" r="2.9"/><circle cx="383.1" cy="250.9" r="2.9"/><circle cx="379.0" cy="152.4" r="2.9"/><circle cx="349.6" cy="266.6" r="2.9"/><circle cx="386.2" cy="149.9" r="2.9"/><circle cx="366.2" cy="290.1" r="2.9"/><circle cx="358.0" cy="293.4" r="2.9"/><circle cx="404.9" cy="223.0" r="2.9"/><circle cx="391.6" cy="157.7" r="2.9"/><circle cx="331.5" cy="156.4" r="2.9"/><circle cx="345.7" cy="269.4" r="2.9"/><circle cx="372.3" cy="243.7" r="2.9"/><circle cx="396.2" cy="253.3" r="2.9"/><circle cx="373.3" cy="199.2" r="2.9"/><circle cx="412.2" cy="250.9" r="2.9"/><circle cx="364.9" cy="292.1" r="2.9"/><circle cx="393.4" cy="195.6" r="2.9"/><circle cx="388.3" cy="235.7" r="2.9"/><circle cx="365.2" cy="283.0" r="2.9"/><circle cx="361.4" cy="277.7" r="2.9"/><circle cx="403.2" cy="276.9" r="2.9"/><circle cx="393.9" cy="208.7" r="2.9"/><circle cx="376.6" cy="173.2" r="2.9"/><circle cx="365.0" cy="298.3" r="2.9"/><circle cx="390.7" cy="231.9" r="2.9"/><circle cx="367.1" cy="262.1" r="2.9"/><circle cx="391.5" cy="224.1" r="2.9"/><circle cx="387.8" cy="213.7" r="2.9"/><circle cx="387.6" cy="242.8" r="2.9"/><circle cx="360.7" cy="293.4" r="2.9"/><circle cx="377.7" cy="202.0" r="2.9"/><circle cx="375.9" cy="198.8" r="2.9"/><circle cx="393.7" cy="175.7" r="2.9"/><circle cx="394.1" cy="214.8" r="2.9"/><circle cx="365.0" cy="267.4" r="2.9"/><circle cx="362.2" cy="284.8" r="2.9"/><circle cx="372.3" cy="284.9" r="2.9"/><circle cx="381.9" cy="287.6" r="2.9"/><circle cx="407.7" cy="252.8" r="2.9"/><circle cx="413.7" cy="268.9" r="2.9"/><circle cx="376.7" cy="240.9" r="2.9"/><circle cx="353.3" cy="301.2" r="2.9"/><circle cx="393.0" cy="212.0" r="2.9"/><circle cx="384.2" cy="206.7" r="2.9"/><circle cx="412.9" cy="214.1" r="2.9"/><circle cx="399.4" cy="186.1" r="2.9"/><circle cx="381.4" cy="185.7" r="2.9"/><circle cx="390.2" cy="237.4" r="2.9"/><circle cx="396.1" cy="212.5" r="2.9"/><circle cx="367.6" cy="256.3" r="2.9"/><circle cx="370.8" cy="251.5" r="2.9"/><circle cx="420.8" cy="256.5" r="2.9"/><circle cx="386.3" cy="259.3" r="2.9"/><circle cx="412.8" cy="256.9" r="2.9"/><circle cx="324.7" cy="151.7" r="2.9"/><circle cx="407.0" cy="240.1" r="2.9"/><circle cx="411.3" cy="237.3" r="2.9"/><circle cx="393.3" cy="222.4" r="2.9"/><circle cx="355.8" cy="271.9" r="2.9"/><circle cx="396.3" cy="222.4" r="2.9"/><circle cx="394.9" cy="219.0" r="2.9"/><circle cx="387.8" cy="183.2" r="2.9"/><circle cx="391.3" cy="245.0" r="2.9"/><circle cx="386.7" cy="170.4" r="2.9"/><circle cx="378.7" cy="238.1" r="2.9"/><circle cx="421.9" cy="225.5" r="2.9"/><circle cx="381.7" cy="266.6" r="2.9"/><circle cx="417.8" cy="260.8" r="2.9"/><circle cx="373.5" cy="260.9" r="2.9"/><circle cx="359.1" cy="287.6" r="2.9"/><circle cx="402.2" cy="196.3" r="2.9"/><circle cx="384.7" cy="241.3" r="2.9"/><circle cx="388.7" cy="219.9" r="2.9"/><circle cx="386.2" cy="235.6" r="2.9"/><circle cx="382.1" cy="142.2" r="2.9"/><circle cx="347.1" cy="292.8" r="2.9"/><circle cx="368.1" cy="282.4" r="2.9"/><circle cx="405.4" cy="248.3" r="2.9"/><circle cx="420.3" cy="243.8" r="2.9"/><circle cx="401.9" cy="273.7" r="2.9"/><circle cx="371.2" cy="159.7" r="2.9"/><circle cx="326.7" cy="155.1" r="2.9"/><circle cx="386.2" cy="206.7" r="2.9"/><circle cx="405.5" cy="238.1" r="2.9"/><circle cx="426.8" cy="234.9" r="2.9"/><circle cx="403.5" cy="219.6" r="2.9"/><circle cx="375.0" cy="284.2" r="2.9"/><circle cx="420.7" cy="246.2" r="2.9"/><circle cx="419.9" cy="232.8" r="2.9"/><circle cx="399.3" cy="275.1" r="2.9"/><circle cx="378.7" cy="133.9" r="2.9"/><circle cx="400.5" cy="256.8" r="2.9"/><circle cx="386.8" cy="232.2" r="2.9"/><circle cx="367.5" cy="293.4" r="2.9"/><circle cx="377.1" cy="262.2" r="2.9"/><circle cx="422.2" cy="227.7" r="2.9"/><circle cx="385.4" cy="245.6" r="2.9"/><circle cx="389.0" cy="230.8" r="2.9"/><circle cx="382.1" cy="172.5" r="2.9"/><circle cx="384.7" cy="279.8" r="2.9"/><circle cx="383.0" cy="261.5" r="2.9"/><circle cx="389.0" cy="172.7" r="2.9"/><circle cx="410.4" cy="228.3" r="2.9"/><circle cx="347.2" cy="277.6" r="2.9"/><circle cx="410.1" cy="256.0" r="2.9"/><circle cx="353.4" cy="290.7" r="2.9"/><circle cx="403.5" cy="224.3" r="2.9"/><circle cx="396.8" cy="256.5" r="2.9"/><circle cx="379.5" cy="261.7" r="2.9"/><circle cx="380.9" cy="128.2" r="2.9"/><circle cx="381.3" cy="253.3" r="2.9"/><circle cx="396.0" cy="264.6" r="2.9"/><circle cx="345.3" cy="170.6" r="2.9"/><circle cx="359.4" cy="294.7" r="2.9"/><circle cx="390.1" cy="190.8" r="2.9"/><circle cx="383.6" cy="149.8" r="2.9"/><circle cx="373.9" cy="281.7" r="2.9"/><circle cx="382.6" cy="183.0" r="2.9"/><circle cx="385.9" cy="178.2" r="2.9"/><circle cx="386.9" cy="159.4" r="2.9"/><circle cx="377.1" cy="147.0" r="2.9"/><circle cx="395.6" cy="201.1" r="2.9"/><circle cx="377.8" cy="279.0" r="2.9"/><circle cx="369.5" cy="274.7" r="2.9"/><circle cx="415.1" cy="240.7" r="2.9"/><circle cx="398.4" cy="269.8" r="2.9"/><circle cx="390.6" cy="280.3" r="2.9"/><circle cx="392.8" cy="154.2" r="2.9"/><circle cx="398.1" cy="187.6" r="2.9"/><circle cx="387.2" cy="227.6" r="2.9"/><circle cx="359.4" cy="263.6" r="2.9"/><circle cx="375.6" cy="279.1" r="2.9"/><circle cx="370.3" cy="276.8" r="2.9"/><circle cx="386.5" cy="285.1" r="2.9"/><circle cx="377.3" cy="268.8" r="2.9"/><circle cx="393.0" cy="165.1" r="2.9"/><circle cx="394.1" cy="198.4" r="2.9"/><circle cx="387.2" cy="196.9" r="2.9"/><circle cx="394.6" cy="235.5" r="2.9"/><circle cx="382.9" cy="282.4" r="2.9"/><circle cx="381.7" cy="273.8" r="2.9"/><circle cx="403.1" cy="193.4" r="2.9"/><circle cx="408.7" cy="275.1" r="2.9"/><circle cx="404.4" cy="211.2" r="2.9"/><circle cx="348.6" cy="275.0" r="2.9"/><circle cx="395.7" cy="233.0" r="2.9"/><circle cx="410.3" cy="221.8" r="2.9"/><circle cx="388.3" cy="167.6" r="2.9"/><circle cx="355.8" cy="288.2" r="2.9"/><circle cx="394.3" cy="172.9" r="2.9"/><circle cx="317.4" cy="148.8" r="2.9"/><circle cx="386.8" cy="180.4" r="2.9"/><circle cx="385.2" cy="208.5" r="2.9"/><circle cx="374.2" cy="273.7" r="2.9"/><circle cx="374.5" cy="191.4" r="2.9"/><circle cx="384.5" cy="180.9" r="2.9"/><circle cx="393.8" cy="188.5" r="2.9"/><circle cx="410.3" cy="259.1" r="2.9"/><circle cx="401.1" cy="198.1" r="2.9"/><circle cx="380.9" cy="206.2" r="2.9"/><circle cx="408.7" cy="258.7" r="2.9"/><circle cx="376.1" cy="287.1" r="2.9"/><circle cx="397.4" cy="251.5" r="2.9"/><circle cx="403.1" cy="272.3" r="2.9"/><circle cx="369.4" cy="259.6" r="2.9"/><circle cx="394.7" cy="183.6" r="2.9"/><circle cx="381.3" cy="180.3" r="2.9"/><circle cx="326.9" cy="148.7" r="2.9"/><circle cx="397.5" cy="224.1" r="2.9"/><circle cx="368.1" cy="168.2" r="2.9"/><circle cx="385.7" cy="282.5" r="2.9"/><circle cx="386.9" cy="280.0" r="2.9"/><circle cx="352.4" cy="281.7" r="2.9"/><circle cx="404.2" cy="232.6" r="2.9"/><circle cx="373.9" cy="251.5" r="2.9"/><circle cx="357.8" cy="298.7" r="2.9"/><circle cx="367.7" cy="297.2" r="2.9"/><circle cx="371.6" cy="164.6" r="2.9"/><circle cx="401.1" cy="260.9" r="2.9"/><circle cx="383.6" cy="196.5" r="2.9"/><circle cx="388.4" cy="224.3" r="2.9"/><circle cx="391.3" cy="240.6" r="2.9"/><circle cx="397.0" cy="178.2" r="2.9"/><circle cx="411.2" cy="232.4" r="2.9"/><circle cx="394.1" cy="276.7" r="2.9"/><circle cx="381.6" cy="196.6" r="2.9"/><circle cx="381.0" cy="201.8" r="2.9"/><circle cx="376.3" cy="230.9" r="2.9"/><circle cx="363.5" cy="259.3" r="2.9"/><circle cx="366.8" cy="277.8" r="2.9"/><circle cx="389.3" cy="226.8" r="2.9"/><circle cx="361.7" cy="266.0" r="2.9"/><circle cx="372.2" cy="190.2" r="2.9"/><circle cx="399.4" cy="233.0" r="2.9"/><circle cx="384.5" cy="284.7" r="2.9"/><circle cx="346.9" cy="177.6" r="2.9"/><circle cx="381.1" cy="289.6" r="2.9"/><circle cx="384.1" cy="233.5" r="2.9"/><circle cx="377.5" cy="196.4" r="2.9"/><circle cx="323.3" cy="153.7" r="2.9"/><circle cx="392.5" cy="264.4" r="2.9"/><circle cx="395.9" cy="175.7" r="2.9"/><circle cx="398.8" cy="248.5" r="2.9"/><circle cx="422.0" cy="235.7" r="2.9"/><circle cx="392.3" cy="274.6" r="2.9"/><circle cx="328.6" cy="156.7" r="2.9"/><circle cx="392.7" cy="258.8" r="2.9"/><circle cx="413.5" cy="232.9" r="2.9"/><circle cx="403.7" cy="262.1" r="2.9"/><circle cx="373.2" cy="256.1" r="2.9"/><circle cx="409.4" cy="236.0" r="2.9"/><circle cx="384.9" cy="172.4" r="2.9"/><circle cx="342.5" cy="165.1" r="2.9"/><circle cx="354.2" cy="295.0" r="2.9"/><circle cx="384.6" cy="253.7" r="2.9"/><circle cx="423.9" cy="225.2" r="2.9"/><circle cx="366.7" cy="258.7" r="2.9"/><circle cx="386.6" cy="217.0" r="2.9"/><circle cx="360.5" cy="274.9" r="2.9"/><circle cx="348.7" cy="293.2" r="2.9"/><circle cx="379.4" cy="246.4" r="2.9"/><circle cx="418.0" cy="240.9" r="2.9"/><circle cx="395.9" cy="248.5" r="2.9"/><circle cx="410.0" cy="250.7" r="2.9"/><circle cx="345.1" cy="164.7" r="2.9"/><circle cx="386.4" cy="269.7" r="2.9"/><circle cx="346.9" cy="173.1" r="2.9"/><circle cx="399.1" cy="259.6" r="2.9"/><circle cx="380.6" cy="285.5" r="2.9"/><circle cx="400.6" cy="250.2" r="2.9"/><circle cx="386.8" cy="211.1" r="2.9"/><circle cx="381.5" cy="154.6" r="2.9"/><circle cx="401.1" cy="237.4" r="2.9"/><circle cx="379.5" cy="157.3" r="2.9"/><circle cx="392.6" cy="269.8" r="2.9"/><circle cx="382.6" cy="219.2" r="2.9"/><circle cx="389.6" cy="206.9" r="2.9"/><circle cx="381.2" cy="227.1" r="2.9"/><circle cx="412.7" cy="235.5" r="2.9"/><circle cx="369.2" cy="254.2" r="2.9"/><circle cx="382.3" cy="135.7" r="2.9"/><circle cx="352.0" cy="267.4" r="2.9"/><circle cx="393.9" cy="266.8" r="2.9"/><circle cx="410.2" cy="267.4" r="2.9"/><circle cx="377.6" cy="129.0" r="2.9"/><circle cx="414.3" cy="258.3" r="2.9"/><circle cx="373.9" cy="162.7" r="2.9"/><circle cx="384.4" cy="191.4" r="2.9"/><circle cx="422.7" cy="232.5" r="2.9"/><circle cx="384.0" cy="200.7" r="2.9"/><circle cx="377.0" cy="208.8" r="2.9"/><circle cx="400.7" cy="271.4" r="2.9"/><circle cx="407.5" cy="237.4" r="2.9"/><circle cx="349.8" cy="161.6" r="2.9"/><circle cx="352.8" cy="162.2" r="2.9"/><circle cx="355.8" cy="162.9" r="2.9"/><circle cx="358.8" cy="163.5" r="2.9"/><circle cx="361.8" cy="164.2" r="2.9"/></g>
<g fill="#e6842e"><circle cx="355.3" cy="282.6" r="2.9"/><circle cx="373.9" cy="172.1" r="2.9"/><circle cx="376.5" cy="182.4" r="2.9"/><circle cx="373.7" cy="182.5" r="2.9"/><circle cx="377.8" cy="174.9" r="2.9"/><circle cx="353.9" cy="195.7" r="2.9"/><circle cx="375.4" cy="181.2" r="2.9"/><circle cx="336.0" cy="159.8" r="2.9"/><circle cx="376.8" cy="156.5" r="2.9"/><circle cx="349.7" cy="167.5" r="2.9"/><circle cx="378.7" cy="160.1" r="2.9"/><circle cx="371.3" cy="175.3" r="2.9"/><circle cx="372.5" cy="170.2" r="2.9"/><circle cx="330.8" cy="151.4" r="2.9"/><circle cx="350.2" cy="180.5" r="2.9"/><circle cx="373.4" cy="168.2" r="2.9"/><circle cx="373.7" cy="156.3" r="2.9"/><circle cx="339.2" cy="160.2" r="2.9"/><circle cx="370.2" cy="157.7" r="2.9"/><circle cx="377.4" cy="164.8" r="2.9"/><circle cx="351.6" cy="196.3" r="2.9"/><circle cx="374.5" cy="165.6" r="2.9"/><circle cx="342.2" cy="159.2" r="2.9"/><circle cx="374.3" cy="185.7" r="2.9"/><circle cx="375.3" cy="154.4" r="2.9"/><circle cx="356.0" cy="194.2" r="2.9"/><circle cx="372.7" cy="185.9" r="2.9"/><circle cx="357.7" cy="271.6" r="2.9"/><circle cx="339.9" cy="161.8" r="2.9"/><circle cx="370.0" cy="178.2" r="2.9"/><circle cx="379.2" cy="167.7" r="2.9"/><circle cx="353.2" cy="186.0" r="2.9"/><circle cx="332.2" cy="159.7" r="2.9"/><circle cx="369.0" cy="169.4" r="2.9"/><circle cx="380.9" cy="170.6" r="2.9"/><circle cx="374.3" cy="169.4" r="2.9"/><circle cx="329.2" cy="153.7" r="2.9"/><circle cx="365.2" cy="161.9" r="2.9"/><circle cx="370.8" cy="161.9" r="2.9"/><circle cx="336.8" cy="157.1" r="2.9"/><circle cx="378.8" cy="183.5" r="2.9"/><circle cx="369.0" cy="160.1" r="2.9"/><circle cx="343.5" cy="162.6" r="2.9"/><circle cx="378.9" cy="178.3" r="2.9"/><circle cx="377.0" cy="167.9" r="2.9"/><circle cx="369.3" cy="164.4" r="2.9"/><circle cx="380.2" cy="175.9" r="2.9"/><circle cx="347.3" cy="170.8" r="2.9"/><circle cx="347.5" cy="180.1" r="2.9"/><circle cx="367.9" cy="162.7" r="2.9"/><circle cx="379.2" cy="173.3" r="2.9"/><circle cx="339.3" cy="165.4" r="2.9"/><circle cx="372.6" cy="181.1" r="2.9"/><circle cx="350.0" cy="172.9" r="2.9"/><circle cx="377.5" cy="186.3" r="2.9"/><circle cx="364.8" cy="164.8" r="2.9"/></g>
<g fill="#e4b42c"><circle cx="344.2" cy="167.6" r="2.9"/><circle cx="361.4" cy="261.1" r="2.9"/><circle cx="374.5" cy="201.8" r="2.9"/><circle cx="383.2" cy="216.9" r="2.9"/><circle cx="354.6" cy="248.5" r="2.9"/><circle cx="376.5" cy="271.7" r="2.9"/><circle cx="356.3" cy="232.7" r="2.9"/><circle cx="371.1" cy="212.3" r="2.9"/><circle cx="354.1" cy="232.7" r="2.9"/><circle cx="353.4" cy="253.5" r="2.9"/><circle cx="377.9" cy="211.3" r="2.9"/><circle cx="351.7" cy="243.4" r="2.9"/><circle cx="355.3" cy="257.0" r="2.9"/><circle cx="354.6" cy="227.5" r="2.9"/><circle cx="362.8" cy="201.4" r="2.9"/><circle cx="363.1" cy="232.2" r="2.9"/><circle cx="364.8" cy="250.2" r="2.9"/><circle cx="379.2" cy="235.3" r="2.9"/><circle cx="357.3" cy="222.1" r="2.9"/><circle cx="366.3" cy="222.0" r="2.9"/><circle cx="375.5" cy="212.1" r="2.9"/><circle cx="353.9" cy="202.0" r="2.9"/><circle cx="350.6" cy="174.7" r="2.9"/><circle cx="357.7" cy="229.7" r="2.9"/><circle cx="363.4" cy="227.3" r="2.9"/><circle cx="359.3" cy="232.1" r="2.9"/><circle cx="355.8" cy="199.5" r="2.9"/><circle cx="376.2" cy="219.7" r="2.9"/><circle cx="351.5" cy="264.7" r="2.9"/><circle cx="368.2" cy="245.7" r="2.9"/><circle cx="354.7" cy="237.7" r="2.9"/><circle cx="375.8" cy="266.1" r="2.9"/><circle cx="359.0" cy="282.2" r="2.9"/><circle cx="356.8" cy="252.9" r="2.9"/><circle cx="365.5" cy="232.4" r="2.9"/><circle cx="370.1" cy="225.1" r="2.9"/><circle cx="373.9" cy="229.3" r="2.9"/><circle cx="359.1" cy="251.4" r="2.9"/><circle cx="362.0" cy="235.6" r="2.9"/><circle cx="369.7" cy="246.2" r="2.9"/><circle cx="374.3" cy="217.7" r="2.9"/><circle cx="373.5" cy="208.5" r="2.9"/><circle cx="356.7" cy="227.0" r="2.9"/><circle cx="368.7" cy="227.3" r="2.9"/><circle cx="365.8" cy="207.0" r="2.9"/><circle cx="365.6" cy="227.8" r="2.9"/><circle cx="360.3" cy="217.5" r="2.9"/><circle cx="375.4" cy="206.2" r="2.9"/><circle cx="346.4" cy="272.1" r="2.9"/><circle cx="364.7" cy="239.8" r="2.9"/><circle cx="366.1" cy="200.6" r="2.9"/><circle cx="348.1" cy="264.4" r="2.9"/><circle cx="354.8" cy="204.5" r="2.9"/><circle cx="370.4" cy="261.5" r="2.9"/><circle cx="359.9" cy="201.3" r="2.9"/><circle cx="353.8" cy="223.1" r="2.9"/><circle cx="357.6" cy="206.6" r="2.9"/><circle cx="373.1" cy="204.0" r="2.9"/><circle cx="368.1" cy="209.4" r="2.9"/><circle cx="356.5" cy="243.8" r="2.9"/><circle cx="372.1" cy="232.1" r="2.9"/><circle cx="353.3" cy="269.1" r="2.9"/><circle cx="372.7" cy="235.3" r="2.9"/><circle cx="350.6" cy="201.2" r="2.9"/><circle cx="372.9" cy="219.8" r="2.9"/><circle cx="371.2" cy="255.9" r="2.9"/><circle cx="368.2" cy="214.1" r="2.9"/><circle cx="372.8" cy="239.9" r="2.9"/><circle cx="370.7" cy="235.7" r="2.9"/><circle cx="365.3" cy="212.3" r="2.9"/><circle cx="367.1" cy="240.0" r="2.9"/><circle cx="360.0" cy="221.8" r="2.9"/><circle cx="377.3" cy="206.4" r="2.9"/><circle cx="354.7" cy="246.4" r="2.9"/><circle cx="363.6" cy="216.6" r="2.9"/><circle cx="375.6" cy="258.2" r="2.9"/><circle cx="376.7" cy="203.6" r="2.9"/><circle cx="355.4" cy="267.1" r="2.9"/><circle cx="358.2" cy="240.5" r="2.9"/><circle cx="358.8" cy="193.4" r="2.9"/><circle cx="356.9" cy="258.7" r="2.9"/><circle cx="360.6" cy="248.2" r="2.9"/><circle cx="369.8" cy="219.1" r="2.9"/><circle cx="350.1" cy="235.0" r="2.9"/><circle cx="366.7" cy="219.7" r="2.9"/><circle cx="375.2" cy="222.7" r="2.9"/><circle cx="367.4" cy="235.6" r="2.9"/><circle cx="359.4" cy="196.0" r="2.9"/><circle cx="377.2" cy="214.2" r="2.9"/><circle cx="370.4" cy="215.0" r="2.9"/><circle cx="358.5" cy="276.4" r="2.9"/><circle cx="349.4" cy="214.4" r="2.9"/><circle cx="364.8" cy="224.4" r="2.9"/><circle cx="364.2" cy="204.3" r="2.9"/><circle cx="379.7" cy="198.4" r="2.9"/><circle cx="355.1" cy="213.9" r="2.9"/><circle cx="355.6" cy="225.3" r="2.9"/><circle cx="351.8" cy="209.4" r="2.9"/><circle cx="355.1" cy="230.6" r="2.9"/><circle cx="352.0" cy="241.3" r="2.9"/><circle cx="371.2" cy="199.5" r="2.9"/><circle cx="354.7" cy="241.3" r="2.9"/><circle cx="364.2" cy="235.5" r="2.9"/><circle cx="349.3" cy="183.8" r="2.9"/><circle cx="362.2" cy="237.5" r="2.9"/><circle cx="346.2" cy="168.1" r="2.9"/><circle cx="351.7" cy="222.6" r="2.9"/><circle cx="352.4" cy="178.2" r="2.9"/><circle cx="363.7" cy="214.9" r="2.9"/><circle cx="349.9" cy="177.7" r="2.9"/><circle cx="350.7" cy="259.4" r="2.9"/><circle cx="365.2" cy="247.8" r="2.9"/><circle cx="360.8" cy="204.8" r="2.9"/><circle cx="361.0" cy="241.2" r="2.9"/><circle cx="350.8" cy="190.7" r="2.9"/><circle cx="361.7" cy="251.8" r="2.9"/><circle cx="349.8" cy="188.2" r="2.9"/><circle cx="381.2" cy="237.7" r="2.9"/><circle cx="359.7" cy="228.2" r="2.9"/><circle cx="368.0" cy="250.6" r="2.9"/><circle cx="369.5" cy="222.0" r="2.9"/><circle cx="365.5" cy="242.4" r="2.9"/><circle cx="365.0" cy="230.2" r="2.9"/><circle cx="355.4" cy="235.1" r="2.9"/><circle cx="357.9" cy="214.6" r="2.9"/><circle cx="357.5" cy="248.5" r="2.9"/><circle cx="365.9" cy="253.9" r="2.9"/></g>
<g fill="#eec53c"><circle cx="371.6" cy="216.9" r="2.9"/><circle cx="350.3" cy="227.9" r="2.9"/><circle cx="376.1" cy="224.9" r="2.9"/><circle cx="358.9" cy="235.6" r="2.9"/><circle cx="368.5" cy="211.3" r="2.9"/><circle cx="369.5" cy="180.2" r="2.9"/><circle cx="362.5" cy="222.5" r="2.9"/><circle cx="351.0" cy="206.7" r="2.9"/><circle cx="368.1" cy="229.9" r="2.9"/><circle cx="359.7" cy="242.5" r="2.9"/><circle cx="371.6" cy="226.8" r="2.9"/><circle cx="358.3" cy="262.2" r="2.9"/><circle cx="357.7" cy="204.5" r="2.9"/><circle cx="362.7" cy="248.2" r="2.9"/><circle cx="375.3" cy="226.8" r="2.9"/><circle cx="367.6" cy="203.2" r="2.9"/><circle cx="359.0" cy="208.6" r="2.9"/><circle cx="370.0" cy="203.7" r="2.9"/><circle cx="352.0" cy="218.9" r="2.9"/><circle cx="368.6" cy="206.3" r="2.9"/><circle cx="350.7" cy="211.8" r="2.9"/><circle cx="378.5" cy="170.5" r="2.9"/><circle cx="352.6" cy="198.6" r="2.9"/><circle cx="368.6" cy="238.1" r="2.9"/><circle cx="368.4" cy="217.8" r="2.9"/><circle cx="382.9" cy="225.1" r="2.9"/><circle cx="359.9" cy="238.2" r="2.9"/><circle cx="349.1" cy="225.2" r="2.9"/><circle cx="367.6" cy="266.1" r="2.9"/><circle cx="352.5" cy="260.7" r="2.9"/><circle cx="352.5" cy="214.1" r="2.9"/><circle cx="353.1" cy="203.6" r="2.9"/><circle cx="356.0" cy="219.3" r="2.9"/><circle cx="380.0" cy="251.4" r="2.9"/><circle cx="362.1" cy="246.4" r="2.9"/><circle cx="354.5" cy="264.5" r="2.9"/><circle cx="357.3" cy="217.3" r="2.9"/><circle cx="359.9" cy="253.4" r="2.9"/><circle cx="365.2" cy="216.7" r="2.9"/><circle cx="357.4" cy="211.5" r="2.9"/><circle cx="373.8" cy="224.9" r="2.9"/><circle cx="351.9" cy="256.5" r="2.9"/><circle cx="375.1" cy="196.9" r="2.9"/><circle cx="361.1" cy="220.0" r="2.9"/><circle cx="353.4" cy="258.5" r="2.9"/><circle cx="356.5" cy="237.2" r="2.9"/><circle cx="374.5" cy="243.3" r="2.9"/><circle cx="372.1" cy="200.6" r="2.9"/><circle cx="364.0" cy="219.3" r="2.9"/><circle cx="376.6" cy="256.0" r="2.9"/><circle cx="353.3" cy="217.0" r="2.9"/><circle cx="353.3" cy="242.5" r="2.9"/><circle cx="350.8" cy="238.7" r="2.9"/><circle cx="377.5" cy="227.4" r="2.9"/><circle cx="355.2" cy="262.1" r="2.9"/><circle cx="364.3" cy="271.3" r="2.9"/><circle cx="374.7" cy="237.3" r="2.9"/><circle cx="350.8" cy="217.4" r="2.9"/><circle cx="371.0" cy="209.0" r="2.9"/><circle cx="359.4" cy="207.1" r="2.9"/><circle cx="372.7" cy="245.5" r="2.9"/><circle cx="352.7" cy="230.3" r="2.9"/><circle cx="382.0" cy="199.3" r="2.9"/><circle cx="370.3" cy="230.7" r="2.9"/><circle cx="327.7" cy="160.0" r="2.9"/><circle cx="363.2" cy="206.9" r="2.9"/><circle cx="356.2" cy="250.3" r="2.9"/><circle cx="361.2" cy="256.1" r="2.9"/><circle cx="363.4" cy="252.9" r="2.9"/><circle cx="354.0" cy="206.6" r="2.9"/><circle cx="351.7" cy="234.8" r="2.9"/><circle cx="352.9" cy="250.3" r="2.9"/><circle cx="369.5" cy="232.1" r="2.9"/><circle cx="380.6" cy="242.8" r="2.9"/><circle cx="350.7" cy="233.2" r="2.9"/><circle cx="357.7" cy="224.2" r="2.9"/><circle cx="379.1" cy="219.9" r="2.9"/><circle cx="358.7" cy="219.9" r="2.9"/><circle cx="377.6" cy="248.0" r="2.9"/><circle cx="371.8" cy="206.6" r="2.9"/><circle cx="350.2" cy="253.6" r="2.9"/><circle cx="362.0" cy="224.8" r="2.9"/><circle cx="346.8" cy="160.9" r="2.9"/><circle cx="367.8" cy="165.5" r="2.9"/></g>
<g fill="#82bcc6"><circle cx="350.1" cy="230.9" r="2.9"/><circle cx="363.5" cy="242.5" r="2.9"/><circle cx="349.1" cy="209.5" r="2.9"/><circle cx="349.2" cy="261.9" r="2.9"/><circle cx="362.0" cy="230.6" r="2.9"/><circle cx="352.1" cy="224.2" r="2.9"/><circle cx="358.5" cy="245.2" r="2.9"/><circle cx="353.2" cy="246.5" r="2.9"/><circle cx="368.9" cy="263.6" r="2.9"/><circle cx="369.4" cy="243.8" r="2.9"/><circle cx="383.2" cy="258.9" r="2.9"/></g>
<g fill="#cdc574"><circle cx="348.1" cy="217.8" r="2.9"/><circle cx="360.0" cy="212.4" r="2.9"/><circle cx="348.4" cy="222.2" r="2.9"/><circle cx="359.2" cy="259.4" r="2.9"/><circle cx="354.0" cy="211.3" r="2.9"/><circle cx="349.1" cy="220.1" r="2.9"/><circle cx="356.0" cy="209.8" r="2.9"/><circle cx="357.1" cy="201.1" r="2.9"/><circle cx="362.2" cy="212.6" r="2.9"/><circle cx="365.1" cy="209.9" r="2.9"/><circle cx="361.0" cy="198.7" r="2.9"/><circle cx="361.4" cy="208.7" r="2.9"/><circle cx="368.6" cy="201.1" r="2.9"/></g>
<g fill="#82bcc6"><circle cx="408.4" cy="226.9" r="3.0"/><circle cx="349.3" cy="298.0" r="3.0"/><circle cx="407.2" cy="271.2" r="3.0"/><circle cx="391.4" cy="182.7" r="3.0"/><circle cx="354.5" cy="279.1" r="3.0"/><circle cx="425.3" cy="243.5" r="3.0"/><circle cx="355.7" cy="277.1" r="3.0"/><circle cx="382.3" cy="131.1" r="3.0"/><circle cx="352.3" cy="288.1" r="3.0"/><circle cx="389.5" cy="175.1" r="3.0"/><circle cx="384.5" cy="160.0" r="3.0"/></g>
<g fill="#eec53c"><circle cx="408.2" cy="264.8" r="3.0"/><circle cx="391.3" cy="262.0" r="3.0"/><circle cx="390.2" cy="180.3" r="3.0"/><circle cx="376.3" cy="193.2" r="3.0"/><circle cx="382.2" cy="167.4" r="3.0"/><circle cx="412.9" cy="272.3" r="3.0"/><circle cx="383.5" cy="248.5" r="3.0"/><circle cx="388.9" cy="250.9" r="3.0"/><circle cx="394.0" cy="204.6" r="3.0"/><circle cx="393.3" cy="180.1" r="3.0"/><circle cx="375.5" cy="264.4" r="3.0"/><circle cx="373.2" cy="292.4" r="3.0"/><circle cx="399.5" cy="242.4" r="3.0"/><circle cx="399.6" cy="195.6" r="3.0"/><circle cx="370.8" cy="293.1" r="3.0"/><circle cx="382.5" cy="145.8" r="3.0"/><circle cx="357.3" cy="264.4" r="3.0"/></g>
<g fill="#0ba2d0"><circle cx="350.6" cy="273.9" r="3.0"/><circle cx="357.2" cy="285.6" r="3.0"/><circle cx="386.8" cy="185.3" r="3.0"/><circle cx="371.6" cy="247.8" r="3.0"/><circle cx="379.7" cy="241.3" r="3.0"/><circle cx="376.8" cy="189.1" r="3.0"/></g>
<line x1="116.4" y1="112.7" x2="116.4" y2="318.2" stroke="#231f20" stroke-width="2.2" stroke-linecap="butt"/>
<line x1="115.3" y1="317.1" x2="238.7" y2="317.1" stroke="#231f20" stroke-width="2.2" stroke-linecap="butt"/>
<line x1="108.4" y1="163.4" x2="116.4" y2="163.4" stroke="#231f20" stroke-width="1.6" stroke-linecap="butt"/>
<line x1="108.4" y1="232.2" x2="116.4" y2="232.2" stroke="#231f20" stroke-width="1.6" stroke-linecap="butt"/>
<line x1="108.4" y1="300.6" x2="116.4" y2="300.6" stroke="#231f20" stroke-width="1.6" stroke-linecap="butt"/>
<line x1="140.4" y1="317.1" x2="140.4" y2="325.1" stroke="#231f20" stroke-width="1.6" stroke-linecap="butt"/>
<line x1="186.0" y1="317.1" x2="186.0" y2="325.1" stroke="#231f20" stroke-width="1.6" stroke-linecap="butt"/>
<line x1="232.2" y1="317.1" x2="232.2" y2="325.1" stroke="#231f20" stroke-width="1.6" stroke-linecap="butt"/>
<line x1="311.9" y1="112.7" x2="311.9" y2="318.5" stroke="#231f20" stroke-width="2.2" stroke-linecap="butt"/>
<line x1="310.8" y1="317.4" x2="437.8" y2="317.4" stroke="#231f20" stroke-width="2.2" stroke-linecap="butt"/>
<line x1="303.9" y1="163.2" x2="311.9" y2="163.2" stroke="#231f20" stroke-width="1.6" stroke-linecap="butt"/>
<line x1="303.9" y1="231.6" x2="311.9" y2="231.6" stroke="#231f20" stroke-width="1.6" stroke-linecap="butt"/>
<line x1="303.9" y1="300.3" x2="311.9" y2="300.3" stroke="#231f20" stroke-width="1.6" stroke-linecap="butt"/>
<line x1="327.9" y1="317.4" x2="327.9" y2="325.4" stroke="#231f20" stroke-width="1.6" stroke-linecap="butt"/>
<line x1="380.0" y1="317.4" x2="380.0" y2="325.4" stroke="#231f20" stroke-width="1.6" stroke-linecap="butt"/>
<line x1="432.8" y1="317.4" x2="432.8" y2="325.4" stroke="#231f20" stroke-width="1.6" stroke-linecap="butt"/>
<text x="78.27" y="175.90" font-size="25.30" fill="#231f20">5</text>
<text x="78.21" y="244.60" font-size="25.30" fill="#231f20">0</text>
<text x="69.86" y="312.50" font-size="25.30" fill="#231f20">-5</text>
<text x="120.66" y="353.90" font-size="25.30" fill="#231f20">-5</text>
<text x="174.59" y="353.90" font-size="25.30" fill="#231f20">0</text>
<text x="221.99" y="353.90" font-size="25.30" fill="#231f20">5</text>
<text x="312.96" y="354.00" font-size="25.30" fill="#231f20">-5</text>
<text x="372.09" y="354.00" font-size="25.30" fill="#231f20">0</text>
<text x="421.49" y="354.00" font-size="25.30" fill="#231f20">5</text>
<text x="231.99" y="391.00" font-size="24.61" fill="#231f20">UMAP 1</text>
<text x="0" y="0" transform="translate(48.40,269.97) rotate(-90)" font-size="25.46" fill="#231f20">UMAP 2</text>
<defs><linearGradient id="gA" x1="0" y1="1" x2="0" y2="0"><stop offset="0" stop-color="#d2d2e0"/><stop offset="0.35" stop-color="#ada3d6"/><stop offset="0.7" stop-color="#7e6cc0"/><stop offset="0.9" stop-color="#5a48aa"/><stop offset="1" stop-color="#353d98"/></linearGradient></defs>
<rect x="233.2" y="133.2" width="7.7" height="68.7" fill="url(#gA)"/>
<line x1="238.4" y1="141.4" x2="240.9" y2="141.4" stroke="#ffffff" stroke-width="1.2" stroke-linecap="butt"/>
<line x1="233.2" y1="141.4" x2="235.7" y2="141.4" stroke="#ffffff" stroke-width="1.2" stroke-linecap="butt"/>
<line x1="238.4" y1="187.0" x2="240.9" y2="187.0" stroke="#ffffff" stroke-width="1.2" stroke-linecap="butt"/>
<line x1="233.2" y1="187.0" x2="235.7" y2="187.0" stroke="#ffffff" stroke-width="1.2" stroke-linecap="butt"/>
<text x="243.74" y="149.10" font-size="25.30" fill="#231f20">25</text>
<text x="243.10" y="193.70" font-size="25.30" fill="#231f20">10</text>
<text x="504.34" y="35.60" font-size="31.00" fill="#231f20">B</text>
<text x="580.49" y="101.20" font-size="25.30" fill="#231f20">n</text>
<text x="609.10" y="101.20" font-size="25.30" fill="#231f20">=</text>
<text x="645.03" y="101.20" font-size="26.27" fill="#231f20">10</text>
<text x="709.22" y="101.20" font-size="25.69" fill="#231f20">25</text>
<text x="768.61" y="101.20" font-size="25.66" fill="#231f20">88</text>
<rect x="632.0" y="251.8" width="55.5" height="80.0" fill="#c5c9cf"/>
<rect x="632.0" y="171.7" width="55.5" height="80.0" fill="#b84040"/>
<rect x="632.0" y="131.7" width="55.5" height="40.0" fill="#7b78b9"/>
<rect x="694.2" y="259.4" width="55.3" height="72.4" fill="#c5c9cf"/>
<rect x="694.2" y="155.1" width="55.3" height="104.3" fill="#b84040"/>
<rect x="694.2" y="131.7" width="55.3" height="23.4" fill="#7b78b9"/>
<rect x="755.6" y="183.7" width="55.4" height="148.1" fill="#c5c9cf"/>
<rect x="755.6" y="148.7" width="55.4" height="35.0" fill="#b84040"/>
<rect x="755.6" y="146.1" width="55.4" height="2.6" fill="#b06a2a"/>
<rect x="755.6" y="131.7" width="55.4" height="14.4" fill="#7b78b9"/>
<line x1="623.0" y1="121.7" x2="623.0" y2="343.3" stroke="#231f20" stroke-width="2.2" stroke-linecap="butt"/>
<line x1="621.9" y1="342.2" x2="819.7" y2="342.2" stroke="#231f20" stroke-width="2.2" stroke-linecap="butt"/>
<line x1="614.0" y1="131.7" x2="623.0" y2="131.7" stroke="#231f20" stroke-width="1.6" stroke-linecap="butt"/>
<line x1="614.0" y1="231.8" x2="623.0" y2="231.8" stroke="#231f20" stroke-width="1.6" stroke-linecap="butt"/>
<line x1="614.0" y1="331.8" x2="623.0" y2="331.8" stroke="#231f20" stroke-width="1.6" stroke-linecap="butt"/>
<line x1="660.1" y1="342.2" x2="660.1" y2="353.2" stroke="#231f20" stroke-width="1.6" stroke-linecap="butt"/>
<line x1="721.2" y1="342.2" x2="721.2" y2="353.2" stroke="#231f20" stroke-width="1.6" stroke-linecap="butt"/>
<line x1="783.3" y1="342.2" x2="783.3" y2="353.2" stroke="#231f20" stroke-width="1.6" stroke-linecap="butt"/>
<text x="564.08" y="135.20" font-size="25.30" fill="#231f20">1.0</text>
<text x="564.14" y="233.40" font-size="25.30" fill="#231f20">0.5</text>
<text x="564.08" y="332.90" font-size="25.30" fill="#231f20">0.0</text>
<text x="0" y="0" transform="translate(666.50,412.87) rotate(-90)" font-size="25.30" fill="#231f20">Hpf5</text>
<text x="0" y="0" transform="translate(729.70,412.81) rotate(-90)" font-size="25.30" fill="#231f20">Hpf6</text>
<text x="0" y="0" transform="translate(789.50,412.81) rotate(-90)" font-size="25.30" fill="#231f20">Hpf8</text>
<text x="0" y="0" transform="translate(515.10,331.21) rotate(-90)" font-size="25.56" fill="#231f20">Fractionn of genes</text>
<text x="830.38" y="190.90" font-size="25.73" fill="#231f20">Domain</text>
<rect x="831.0" y="201.5" width="23.7" height="22.7" fill="#7b78b9"/>
<text x="858.01" y="219.80" font-size="25.30" fill="#231f20">Ecto</text>
<rect x="831.0" y="230.8" width="23.7" height="23.2" fill="#b84040"/>
<text x="858.01" y="248.70" font-size="25.30" fill="#231f20">MM</text>
<rect x="831.0" y="258.8" width="23.7" height="23.2" fill="#b06a2a"/>
<text x="858.01" y="276.70" font-size="25.30" fill="#231f20">EM</text>
<rect x="831.0" y="286.4" width="23.7" height="23.6" fill="#c5c9cf"/>
<text x="858.14" y="304.30" font-size="25.30" fill="#231f20">Ubiq</text>
<text x="929.45" y="35.40" font-size="31.00" fill="#231f20">C</text>
<circle cx="1015.4" cy="25.0" r="9.8" fill="#0ba2d0"/>
<text x="1033.37" y="34.30" font-size="25.80" fill="#231f20">Hpf3</text>
<circle cx="1015.4" cy="53.4" r="9.8" fill="#3badd8"/>
<text x="1033.37" y="62.40" font-size="25.80" fill="#231f20">Hpf4</text>
<circle cx="1113.8" cy="25.0" r="9.8" fill="#82bcc6"/>
<text x="1132.07" y="34.30" font-size="25.80" fill="#231f20">Hpf5</text>
<circle cx="1113.8" cy="53.4" r="9.8" fill="#cdc574"/>
<text x="1132.07" y="62.40" font-size="25.80" fill="#231f20">Hpf6</text>
<circle cx="1214.6" cy="25.0" r="9.8" fill="#eec53c"/>
<text x="1233.47" y="34.30" font-size="25.80" fill="#231f20">Hpf8</text>
<circle cx="1214.6" cy="53.4" r="9.8" fill="#e4b42c"/>
<text x="1233.47" y="62.40" font-size="25.80" fill="#231f20">Hpf10</text>
<circle cx="1319.5" cy="25.0" r="9.8" fill="#e6842e"/>
<text x="1340.97" y="34.30" font-size="25.80" fill="#231f20">Hpf12</text>
<circle cx="1319.5" cy="53.4" r="9.8" fill="#e33c26"/>
<text x="1340.97" y="62.40" font-size="25.80" fill="#231f20">Hpf15</text>
<text x="1028.87" y="92.60" font-size="25.79" fill="#231f20">Reads in</text>
<text x="1028.80" y="123.20" font-size="25.46" fill="#231f20">Peaks (%)</text>
<text x="1237.84" y="98.60" font-size="25.82" fill="#231f20">Stage</text>
<defs><linearGradient id="cbase" gradientUnits="userSpaceOnUse" x1="1016" y1="0" x2="1090" y2="0"><stop offset="0" stop-color="#cfcfe0"/><stop offset="1" stop-color="#8a7ac6"/></linearGradient></defs>
<path d="M1086.0,128.7 L1082.7,133.4 L1079.3,144.2 L1076.4,156.2 L1072.8,172.2 L1071.6,178.8 L1071.6,178.9 L1071.5,179.0 L1071.5,179.1 L1071.5,179.1 L1071.4,179.2 L1071.4,179.3 L1065.6,185.1 L1065.5,185.1 L1065.4,185.2 L1065.4,185.2 L1065.3,185.2 L1065.2,185.3 L1065.2,185.3 L1065.1,185.3 L1065.0,185.3 L1053.4,185.3 L1053.3,185.3 L1053.3,185.3 L1036.1,182.4 L1024.9,186.6 L1019.4,192.1 L1016.6,202.1 L1015.1,216.3 L1016.1,231.1 L1022.0,245.3 L1031.5,252.4 L1031.5,252.4 L1031.6,252.5 L1031.6,252.5 L1041.2,264.6 L1050.9,276.7 L1051.0,276.7 L1059.3,288.7 L1070.1,299.3 L1081.8,305.3 L1093.5,304.8 L1105.3,300.6 L1114.7,291.1 L1121.8,276.9 L1124.7,262.7 L1120.7,248.5 L1112.3,236.7 L1112.3,236.6 L1112.3,236.5 L1112.2,236.4 L1109.1,226.2 L1109.1,226.1 L1107.6,216.4 L1105.0,202.0 L1105.0,202.0 L1103.7,187.5 L1103.7,187.4 L1104.0,175.8 L1104.0,175.7 L1104.7,165.0 L1105.2,156.0 L1104.2,146.1 L1101.8,136.3 L1097.0,129.2 L1091.0,126.9 Z M1091.0,158.7 L1091.1,158.7 L1091.2,158.7 L1091.3,158.8 L1091.4,158.8 L1091.4,158.8 L1091.5,158.9 L1091.6,158.9 L1099.1,166.4 L1099.1,166.5 L1099.2,166.6 L1099.2,166.6 L1099.2,166.7 L1099.3,166.8 L1099.3,166.8 L1099.3,166.9 L1099.3,167.0 L1099.3,167.1 L1099.3,167.1 L1097.8,175.1 L1097.8,175.2 L1097.7,175.3 L1097.7,175.4 L1097.7,175.4 L1097.6,175.5 L1097.6,175.6 L1097.5,175.6 L1097.4,175.7 L1097.4,175.7 L1097.3,175.7 L1097.2,175.8 L1097.2,175.8 L1097.1,175.8 L1086.1,176.8 L1086.0,176.8 L1076.0,176.8 L1075.9,176.8 L1075.8,176.8 L1075.8,176.8 L1075.7,176.7 L1075.6,176.7 L1075.6,176.7 L1075.5,176.6 L1075.4,176.6 L1075.4,176.5 L1075.3,176.4 L1075.3,176.4 L1075.3,176.3 L1075.2,176.2 L1075.2,176.1 L1075.2,176.1 L1075.2,176.0 L1075.2,175.9 L1075.2,175.8 L1077.2,166.8 L1077.2,166.7 L1077.3,166.7 L1077.3,166.6 L1082.3,158.6 L1082.4,158.5 L1082.4,158.5 L1082.5,158.4 L1082.5,158.3 L1082.6,158.3 L1082.7,158.3 L1082.7,158.2 L1082.8,158.2 L1082.9,158.2 L1083.0,158.2 L1083.0,158.2 Z " fill="url(#cbase)" fill-rule="evenodd"/>
<g fill="#ccccde"><circle cx="1028.5" cy="196.2" r="2.8"/><circle cx="1016.9" cy="227.2" r="2.8"/><circle cx="1017.8" cy="207.4" r="2.8"/><circle cx="1020.1" cy="196.0" r="2.8"/><circle cx="1020.7" cy="206.1" r="2.8"/><circle cx="1019.4" cy="203.8" r="2.8"/><circle cx="1021.2" cy="204.7" r="2.8"/><circle cx="1019.2" cy="219.0" r="2.8"/><circle cx="1026.5" cy="227.7" r="2.8"/><circle cx="1020.4" cy="216.3" r="2.8"/><circle cx="1019.2" cy="213.6" r="2.8"/><circle cx="1023.4" cy="232.4" r="2.8"/><circle cx="1018.8" cy="225.1" r="2.8"/><circle cx="1020.8" cy="221.3" r="2.8"/><circle cx="1021.8" cy="209.3" r="2.8"/><circle cx="1019.3" cy="232.2" r="2.8"/><circle cx="1020.8" cy="218.7" r="2.8"/></g>
<g fill="#8478c6"><circle cx="1078.1" cy="251.7" r="2.8"/><circle cx="1103.5" cy="198.5" r="2.8"/><circle cx="1101.2" cy="196.2" r="2.8"/><circle cx="1072.1" cy="187.3" r="2.8"/><circle cx="1083.1" cy="280.0" r="2.8"/><circle cx="1078.9" cy="254.7" r="2.8"/><circle cx="1062.5" cy="285.4" r="2.8"/><circle cx="1086.1" cy="221.2" r="2.8"/><circle cx="1094.8" cy="269.2" r="2.8"/><circle cx="1087.8" cy="258.9" r="2.8"/><circle cx="1078.3" cy="277.2" r="2.8"/><circle cx="1084.6" cy="299.7" r="2.8"/><circle cx="1076.7" cy="219.7" r="2.8"/><circle cx="1075.5" cy="236.4" r="2.8"/><circle cx="1092.2" cy="197.4" r="2.8"/><circle cx="1104.5" cy="217.1" r="2.8"/><circle cx="1089.6" cy="287.0" r="2.8"/><circle cx="1103.0" cy="260.5" r="2.8"/><circle cx="1090.6" cy="275.2" r="2.8"/><circle cx="1053.2" cy="270.3" r="2.8"/><circle cx="1085.1" cy="275.6" r="2.8"/><circle cx="1060.5" cy="287.1" r="2.8"/><circle cx="1095.1" cy="277.9" r="2.8"/><circle cx="1083.5" cy="222.6" r="2.8"/><circle cx="1079.6" cy="270.2" r="2.8"/><circle cx="1082.9" cy="239.5" r="2.8"/><circle cx="1089.7" cy="297.6" r="2.8"/><circle cx="1076.6" cy="240.3" r="2.8"/><circle cx="1092.0" cy="301.9" r="2.8"/><circle cx="1076.7" cy="184.6" r="2.8"/><circle cx="1110.0" cy="247.2" r="2.8"/><circle cx="1078.3" cy="282.7" r="2.8"/><circle cx="1082.4" cy="199.1" r="2.8"/><circle cx="1114.4" cy="245.4" r="2.8"/><circle cx="1102.3" cy="183.6" r="2.8"/><circle cx="1089.5" cy="247.6" r="2.8"/><circle cx="1094.8" cy="302.5" r="2.8"/><circle cx="1095.0" cy="192.1" r="2.8"/><circle cx="1084.0" cy="212.1" r="2.8"/><circle cx="1076.7" cy="294.4" r="2.8"/><circle cx="1090.1" cy="266.6" r="2.8"/><circle cx="1079.8" cy="295.4" r="2.8"/><circle cx="1093.6" cy="224.4" r="2.8"/><circle cx="1096.2" cy="237.0" r="2.8"/><circle cx="1067.4" cy="290.0" r="2.8"/><circle cx="1093.3" cy="251.5" r="2.8"/><circle cx="1112.1" cy="274.5" r="2.8"/></g>
<g fill="#8a78c6"><circle cx="1082.1" cy="249.1" r="2.8"/><circle cx="1099.8" cy="214.7" r="2.8"/><circle cx="1078.6" cy="287.1" r="2.8"/><circle cx="1091.9" cy="185.8" r="2.8"/><circle cx="1084.4" cy="263.0" r="2.8"/><circle cx="1085.9" cy="289.5" r="2.8"/><circle cx="1099.1" cy="188.5" r="2.8"/><circle cx="1081.7" cy="300.8" r="2.8"/><circle cx="1096.2" cy="211.5" r="2.8"/><circle cx="1074.7" cy="282.9" r="2.8"/><circle cx="1079.4" cy="290.6" r="2.8"/><circle cx="1093.8" cy="300.6" r="2.8"/><circle cx="1070.3" cy="193.7" r="2.8"/><circle cx="1078.5" cy="297.0" r="2.8"/><circle cx="1090.1" cy="217.5" r="2.8"/><circle cx="1077.4" cy="217.3" r="2.8"/><circle cx="1117.1" cy="264.1" r="2.8"/><circle cx="1083.4" cy="237.0" r="2.8"/><circle cx="1078.9" cy="201.3" r="2.8"/><circle cx="1079.8" cy="234.5" r="2.8"/><circle cx="1094.7" cy="295.7" r="2.8"/><circle cx="1090.3" cy="222.2" r="2.8"/><circle cx="1076.5" cy="260.1" r="2.8"/><circle cx="1093.3" cy="228.7" r="2.8"/><circle cx="1079.1" cy="198.7" r="2.8"/><circle cx="1076.0" cy="203.7" r="2.8"/><circle cx="1094.8" cy="248.9" r="2.8"/><circle cx="1100.2" cy="264.5" r="2.8"/><circle cx="1081.7" cy="295.8" r="2.8"/><circle cx="1080.8" cy="292.5" r="2.8"/><circle cx="1073.0" cy="224.7" r="2.8"/><circle cx="1092.5" cy="226.1" r="2.8"/><circle cx="1110.1" cy="272.5" r="2.8"/><circle cx="1090.6" cy="239.4" r="2.8"/><circle cx="1089.5" cy="252.8" r="2.8"/><circle cx="1074.7" cy="266.7" r="2.8"/><circle cx="1080.7" cy="226.7" r="2.8"/><circle cx="1058.9" cy="280.4" r="2.8"/><circle cx="1071.5" cy="261.9" r="2.8"/><circle cx="1081.7" cy="252.6" r="2.8"/><circle cx="1081.2" cy="241.5" r="2.8"/><circle cx="1101.5" cy="246.4" r="2.8"/><circle cx="1098.2" cy="231.7" r="2.8"/><circle cx="1092.6" cy="211.8" r="2.8"/><circle cx="1082.8" cy="234.4" r="2.8"/><circle cx="1088.2" cy="194.5" r="2.8"/><circle cx="1070.4" cy="295.4" r="2.8"/><circle cx="1085.3" cy="204.5" r="2.8"/><circle cx="1074.5" cy="212.5" r="2.8"/><circle cx="1087.7" cy="269.2" r="2.8"/><circle cx="1081.3" cy="206.8" r="2.8"/><circle cx="1073.2" cy="294.6" r="2.8"/><circle cx="1067.0" cy="291.8" r="2.8"/><circle cx="1080.5" cy="297.4" r="2.8"/><circle cx="1083.1" cy="197.0" r="2.8"/><circle cx="1080.2" cy="196.6" r="2.8"/><circle cx="1092.3" cy="232.1" r="2.8"/><circle cx="1087.2" cy="277.3" r="2.8"/><circle cx="1092.8" cy="262.6" r="2.8"/><circle cx="1083.7" cy="267.7" r="2.8"/><circle cx="1086.7" cy="211.5" r="2.8"/><circle cx="1086.3" cy="261.8" r="2.8"/><circle cx="1090.2" cy="256.4" r="2.8"/><circle cx="1085.1" cy="184.7" r="2.8"/><circle cx="1084.6" cy="201.4" r="2.8"/><circle cx="1083.2" cy="229.5" r="2.8"/><circle cx="1077.3" cy="224.6" r="2.8"/><circle cx="1088.9" cy="213.5" r="2.8"/><circle cx="1104.4" cy="268.0" r="2.8"/><circle cx="1082.9" cy="285.7" r="2.8"/><circle cx="1084.9" cy="199.8" r="2.8"/><circle cx="1091.7" cy="295.6" r="2.8"/><circle cx="1061.8" cy="289.4" r="2.8"/><circle cx="1092.9" cy="257.9" r="2.8"/><circle cx="1090.1" cy="191.6" r="2.8"/><circle cx="1087.8" cy="188.5" r="2.8"/><circle cx="1089.1" cy="277.9" r="2.8"/><circle cx="1087.6" cy="231.9" r="2.8"/><circle cx="1078.7" cy="256.5" r="2.8"/><circle cx="1081.6" cy="267.3" r="2.8"/><circle cx="1078.9" cy="183.3" r="2.8"/><circle cx="1064.2" cy="273.1" r="2.8"/><circle cx="1095.4" cy="202.1" r="2.8"/><circle cx="1073.9" cy="274.2" r="2.8"/><circle cx="1075.6" cy="201.6" r="2.8"/><circle cx="1082.2" cy="214.5" r="2.8"/><circle cx="1077.5" cy="272.4" r="2.8"/><circle cx="1090.7" cy="213.9" r="2.8"/><circle cx="1080.7" cy="277.8" r="2.8"/><circle cx="1087.0" cy="242.7" r="2.8"/><circle cx="1076.3" cy="290.4" r="2.8"/><circle cx="1082.6" cy="189.4" r="2.8"/><circle cx="1068.5" cy="198.4" r="2.8"/><circle cx="1090.6" cy="259.3" r="2.8"/><circle cx="1075.6" cy="252.3" r="2.8"/></g>
<g fill="#9c8acc"><circle cx="1101.3" cy="140.5" r="2.8"/><circle cx="1061.8" cy="219.4" r="2.8"/><circle cx="1085.0" cy="153.8" r="2.8"/><circle cx="1068.3" cy="244.1" r="2.8"/><circle cx="1064.1" cy="221.9" r="2.8"/><circle cx="1097.9" cy="145.5" r="2.8"/><circle cx="1097.9" cy="155.6" r="2.8"/><circle cx="1067.5" cy="214.9" r="2.8"/><circle cx="1056.0" cy="275.1" r="2.8"/><circle cx="1068.8" cy="227.4" r="2.8"/><circle cx="1099.9" cy="158.7" r="2.8"/><circle cx="1051.4" cy="191.7" r="2.8"/></g>
<g fill="#7866ba"><circle cx="1098.2" cy="246.9" r="2.8"/><circle cx="1105.9" cy="224.1" r="2.8"/><circle cx="1093.1" cy="287.3" r="2.8"/><circle cx="1092.1" cy="201.4" r="2.8"/><circle cx="1096.7" cy="249.2" r="2.8"/><circle cx="1097.1" cy="229.0" r="2.8"/><circle cx="1102.9" cy="204.8" r="2.8"/><circle cx="1087.6" cy="201.0" r="2.8"/><circle cx="1087.7" cy="229.9" r="2.8"/><circle cx="1091.4" cy="218.6" r="2.8"/><circle cx="1106.6" cy="257.1" r="2.8"/><circle cx="1089.9" cy="281.8" r="2.8"/><circle cx="1079.4" cy="259.2" r="2.8"/><circle cx="1118.1" cy="261.8" r="2.8"/><circle cx="1089.7" cy="237.7" r="2.8"/><circle cx="1104.0" cy="262.8" r="2.8"/><circle cx="1099.6" cy="229.5" r="2.8"/><circle cx="1114.6" cy="274.6" r="2.8"/><circle cx="1113.7" cy="265.5" r="2.8"/><circle cx="1113.0" cy="282.2" r="2.8"/><circle cx="1106.1" cy="294.8" r="2.8"/><circle cx="1111.6" cy="279.3" r="2.8"/><circle cx="1110.2" cy="256.8" r="2.8"/><circle cx="1110.5" cy="288.0" r="2.8"/><circle cx="1104.1" cy="232.4" r="2.8"/><circle cx="1121.8" cy="267.6" r="2.8"/><circle cx="1102.0" cy="241.6" r="2.8"/><circle cx="1099.2" cy="235.2" r="2.8"/><circle cx="1098.1" cy="212.1" r="2.8"/><circle cx="1106.3" cy="250.1" r="2.8"/><circle cx="1107.6" cy="242.4" r="2.8"/><circle cx="1080.7" cy="282.8" r="2.8"/><circle cx="1088.8" cy="275.3" r="2.8"/><circle cx="1097.6" cy="260.2" r="2.8"/><circle cx="1086.1" cy="247.5" r="2.8"/><circle cx="1108.6" cy="285.3" r="2.8"/><circle cx="1095.2" cy="256.7" r="2.8"/><circle cx="1088.4" cy="220.1" r="2.8"/><circle cx="1117.4" cy="254.8" r="2.8"/><circle cx="1100.5" cy="232.3" r="2.8"/><circle cx="1113.5" cy="286.8" r="2.8"/><circle cx="1100.5" cy="216.8" r="2.8"/><circle cx="1110.9" cy="259.1" r="2.8"/><circle cx="1107.6" cy="277.3" r="2.8"/><circle cx="1117.5" cy="280.5" r="2.8"/><circle cx="1099.5" cy="294.7" r="2.8"/><circle cx="1118.0" cy="267.5" r="2.8"/><circle cx="1106.2" cy="229.8" r="2.8"/><circle cx="1099.3" cy="269.8" r="2.8"/><circle cx="1106.2" cy="260.4" r="2.8"/><circle cx="1085.5" cy="294.6" r="2.8"/><circle cx="1083.2" cy="231.4" r="2.8"/><circle cx="1096.1" cy="207.5" r="2.8"/><circle cx="1103.7" cy="276.7" r="2.8"/><circle cx="1087.2" cy="191.0" r="2.8"/><circle cx="1118.7" cy="257.5" r="2.8"/><circle cx="1107.4" cy="231.5" r="2.8"/><circle cx="1111.1" cy="245.3" r="2.8"/><circle cx="1105.6" cy="284.7" r="2.8"/><circle cx="1104.9" cy="222.4" r="2.8"/><circle cx="1097.9" cy="282.9" r="2.8"/></g>
<g fill="#a29cd2"><circle cx="1088.4" cy="148.5" r="2.8"/><circle cx="1098.7" cy="136.8" r="2.8"/><circle cx="1060.1" cy="242.2" r="2.8"/><circle cx="1086.6" cy="141.4" r="2.8"/><circle cx="1049.8" cy="254.1" r="2.8"/><circle cx="1056.9" cy="209.9" r="2.8"/><circle cx="1102.2" cy="174.0" r="2.8"/><circle cx="1062.6" cy="228.8" r="2.8"/><circle cx="1088.1" cy="134.2" r="2.8"/><circle cx="1039.7" cy="260.0" r="2.8"/><circle cx="1048.0" cy="259.8" r="2.8"/><circle cx="1053.7" cy="223.8" r="2.8"/><circle cx="1103.3" cy="158.3" r="2.8"/><circle cx="1094.8" cy="144.3" r="2.8"/><circle cx="1057.9" cy="217.6" r="2.8"/><circle cx="1093.7" cy="178.9" r="2.8"/><circle cx="1096.0" cy="161.7" r="2.8"/><circle cx="1057.6" cy="256.6" r="2.8"/><circle cx="1053.7" cy="255.2" r="2.8"/><circle cx="1058.2" cy="187.3" r="2.8"/><circle cx="1072.9" cy="181.1" r="2.8"/><circle cx="1065.9" cy="246.4" r="2.8"/><circle cx="1102.3" cy="148.3" r="2.8"/><circle cx="1048.9" cy="252.4" r="2.8"/><circle cx="1094.7" cy="156.6" r="2.8"/><circle cx="1070.0" cy="163.0" r="2.8"/></g>
<g fill="#907ec6"><circle cx="1082.8" cy="244.8" r="2.8"/><circle cx="1077.4" cy="206.8" r="2.8"/><circle cx="1082.4" cy="154.2" r="2.8"/><circle cx="1071.5" cy="209.0" r="2.8"/><circle cx="1078.7" cy="262.8" r="2.8"/><circle cx="1072.7" cy="277.5" r="2.8"/><circle cx="1059.1" cy="270.2" r="2.8"/><circle cx="1072.3" cy="272.0" r="2.8"/><circle cx="1074.8" cy="242.6" r="2.8"/><circle cx="1085.0" cy="270.0" r="2.8"/><circle cx="1093.4" cy="296.9" r="2.8"/><circle cx="1099.1" cy="196.7" r="2.8"/><circle cx="1072.6" cy="201.8" r="2.8"/><circle cx="1099.3" cy="184.8" r="2.8"/><circle cx="1075.7" cy="246.4" r="2.8"/><circle cx="1069.6" cy="252.2" r="2.8"/><circle cx="1074.5" cy="231.8" r="2.8"/><circle cx="1074.4" cy="278.2" r="2.8"/><circle cx="1074.4" cy="289.9" r="2.8"/><circle cx="1074.3" cy="209.2" r="2.8"/><circle cx="1080.9" cy="211.7" r="2.8"/><circle cx="1076.4" cy="234.6" r="2.8"/><circle cx="1069.5" cy="232.0" r="2.8"/><circle cx="1072.0" cy="211.5" r="2.8"/><circle cx="1079.1" cy="274.5" r="2.8"/><circle cx="1085.4" cy="253.9" r="2.8"/><circle cx="1095.6" cy="226.5" r="2.8"/><circle cx="1072.1" cy="241.4" r="2.8"/><circle cx="1085.0" cy="239.7" r="2.8"/><circle cx="1070.7" cy="244.6" r="2.8"/><circle cx="1072.7" cy="297.2" r="2.8"/><circle cx="1074.1" cy="214.7" r="2.8"/><circle cx="1075.7" cy="262.0" r="2.8"/><circle cx="1077.3" cy="280.2" r="2.8"/><circle cx="1075.3" cy="191.2" r="2.8"/><circle cx="1083.2" cy="216.1" r="2.8"/><circle cx="1079.0" cy="239.4" r="2.8"/><circle cx="1072.1" cy="191.1" r="2.8"/><circle cx="1082.6" cy="269.9" r="2.8"/><circle cx="1048.9" cy="272.9" r="2.8"/><circle cx="1068.2" cy="285.0" r="2.8"/><circle cx="1068.7" cy="295.4" r="2.8"/><circle cx="1078.7" cy="226.4" r="2.8"/><circle cx="1080.1" cy="285.0" r="2.8"/><circle cx="1073.9" cy="244.7" r="2.8"/><circle cx="1091.5" cy="254.1" r="2.8"/><circle cx="1083.2" cy="242.4" r="2.8"/><circle cx="1064.9" cy="284.2" r="2.8"/><circle cx="1070.6" cy="285.3" r="2.8"/></g>
<g fill="#9084cc"><circle cx="1073.6" cy="265.5" r="2.8"/><circle cx="1070.9" cy="199.8" r="2.8"/><circle cx="1080.2" cy="230.2" r="2.8"/><circle cx="1066.1" cy="231.7" r="2.8"/><circle cx="1064.7" cy="280.0" r="2.8"/><circle cx="1077.2" cy="209.1" r="2.8"/><circle cx="1071.2" cy="234.1" r="2.8"/><circle cx="1076.5" cy="213.5" r="2.8"/><circle cx="1048.1" cy="269.2" r="2.8"/><circle cx="1069.8" cy="262.1" r="2.8"/><circle cx="1074.3" cy="259.7" r="2.8"/><circle cx="1080.0" cy="224.9" r="2.8"/><circle cx="1102.4" cy="178.7" r="2.8"/><circle cx="1048.8" cy="267.9" r="2.8"/><circle cx="1067.0" cy="192.4" r="2.8"/><circle cx="1094.3" cy="193.9" r="2.8"/><circle cx="1066.7" cy="207.2" r="2.8"/><circle cx="1054.5" cy="277.4" r="2.8"/><circle cx="1073.8" cy="199.5" r="2.8"/><circle cx="1072.0" cy="216.6" r="2.8"/><circle cx="1064.4" cy="270.4" r="2.8"/><circle cx="1073.6" cy="184.2" r="2.8"/><circle cx="1073.2" cy="250.3" r="2.8"/><circle cx="1075.7" cy="206.8" r="2.8"/><circle cx="1073.5" cy="270.2" r="2.8"/><circle cx="1071.8" cy="292.9" r="2.8"/><circle cx="1070.1" cy="216.2" r="2.8"/><circle cx="1069.7" cy="201.2" r="2.8"/><circle cx="1071.2" cy="249.6" r="2.8"/><circle cx="1099.1" cy="139.2" r="2.8"/><circle cx="1071.7" cy="221.7" r="2.8"/><circle cx="1069.7" cy="267.9" r="2.8"/><circle cx="1067.2" cy="250.3" r="2.8"/><circle cx="1081.6" cy="272.0" r="2.8"/><circle cx="1064.0" cy="211.2" r="2.8"/><circle cx="1077.0" cy="189.5" r="2.8"/><circle cx="1079.4" cy="209.5" r="2.8"/><circle cx="1056.7" cy="248.9" r="2.8"/><circle cx="1067.0" cy="267.2" r="2.8"/><circle cx="1058.9" cy="259.2" r="2.8"/><circle cx="1052.7" cy="272.8" r="2.8"/></g>
<g fill="#9684cc"><circle cx="1076.3" cy="244.9" r="2.8"/><circle cx="1065.1" cy="209.8" r="2.8"/><circle cx="1067.5" cy="260.3" r="2.8"/><circle cx="1065.9" cy="262.1" r="2.8"/><circle cx="1071.9" cy="207.2" r="2.8"/><circle cx="1055.6" cy="272.8" r="2.8"/><circle cx="1046.3" cy="262.6" r="2.8"/><circle cx="1074.7" cy="217.1" r="2.8"/><circle cx="1078.7" cy="196.2" r="2.8"/><circle cx="1080.2" cy="213.6" r="2.8"/><circle cx="1068.8" cy="237.5" r="2.8"/><circle cx="1068.7" cy="194.1" r="2.8"/><circle cx="1067.1" cy="221.2" r="2.8"/><circle cx="1098.8" cy="150.4" r="2.8"/><circle cx="1068.3" cy="234.0" r="2.8"/><circle cx="1073.6" cy="189.3" r="2.8"/><circle cx="1065.7" cy="265.3" r="2.8"/><circle cx="1055.3" cy="262.1" r="2.8"/><circle cx="1073.4" cy="239.8" r="2.8"/><circle cx="1075.2" cy="186.1" r="2.8"/><circle cx="1058.2" cy="281.9" r="2.8"/><circle cx="1064.4" cy="214.1" r="2.8"/><circle cx="1076.4" cy="274.6" r="2.8"/><circle cx="1071.5" cy="239.7" r="2.8"/><circle cx="1098.8" cy="185.9" r="2.8"/><circle cx="1072.3" cy="227.7" r="2.8"/><circle cx="1064.3" cy="289.5" r="2.8"/><circle cx="1071.2" cy="214.5" r="2.8"/><circle cx="1071.0" cy="279.8" r="2.8"/><circle cx="1064.0" cy="282.0" r="2.8"/><circle cx="1091.4" cy="230.1" r="2.8"/><circle cx="1062.8" cy="264.4" r="2.8"/><circle cx="1072.2" cy="287.1" r="2.8"/><circle cx="1064.5" cy="172.0" r="2.8"/></g>
<g fill="#9084c6"><circle cx="1069.0" cy="277.7" r="2.8"/><circle cx="1078.6" cy="242.8" r="2.8"/><circle cx="1061.5" cy="274.5" r="2.8"/><circle cx="1075.3" cy="272.6" r="2.8"/><circle cx="1074.9" cy="221.8" r="2.8"/><circle cx="1056.3" cy="279.9" r="2.8"/><circle cx="1117.1" cy="260.4" r="2.8"/><circle cx="1071.5" cy="219.3" r="2.8"/><circle cx="1068.8" cy="197.4" r="2.8"/><circle cx="1087.4" cy="282.1" r="2.8"/><circle cx="1062.9" cy="267.6" r="2.8"/><circle cx="1078.8" cy="279.6" r="2.8"/></g>
<g fill="#9c90cc"><circle cx="1063.7" cy="207.2" r="2.8"/><circle cx="1065.7" cy="216.4" r="2.8"/><circle cx="1063.8" cy="202.3" r="2.8"/><circle cx="1047.4" cy="264.8" r="2.8"/><circle cx="1072.0" cy="246.7" r="2.8"/><circle cx="1093.4" cy="153.7" r="2.8"/><circle cx="1098.2" cy="160.8" r="2.8"/><circle cx="1069.4" cy="241.8" r="2.8"/><circle cx="1076.6" cy="230.1" r="2.8"/><circle cx="1069.4" cy="247.5" r="2.8"/><circle cx="1097.5" cy="158.5" r="2.8"/><circle cx="1086.8" cy="131.5" r="2.8"/><circle cx="1097.6" cy="148.6" r="2.8"/><circle cx="1082.4" cy="138.7" r="2.8"/><circle cx="1060.5" cy="201.1" r="2.8"/><circle cx="1049.8" cy="264.9" r="2.8"/><circle cx="1065.2" cy="274.1" r="2.8"/><circle cx="1082.0" cy="178.6" r="2.8"/><circle cx="1063.7" cy="190.9" r="2.8"/><circle cx="1062.8" cy="244.3" r="2.8"/><circle cx="1055.6" cy="224.0" r="2.8"/><circle cx="1065.8" cy="189.1" r="2.8"/><circle cx="1068.8" cy="186.4" r="2.8"/><circle cx="1063.2" cy="257.5" r="2.8"/><circle cx="1060.4" cy="196.7" r="2.8"/><circle cx="1069.3" cy="211.4" r="2.8"/><circle cx="1101.9" cy="150.6" r="2.8"/><circle cx="1060.9" cy="267.1" r="2.8"/><circle cx="1089.7" cy="151.2" r="2.8"/><circle cx="1061.5" cy="194.7" r="2.8"/><circle cx="1079.0" cy="179.2" r="2.8"/><circle cx="1057.4" cy="271.7" r="2.8"/><circle cx="1053.5" cy="239.3" r="2.8"/><circle cx="1091.2" cy="149.5" r="2.8"/><circle cx="1086.7" cy="181.7" r="2.8"/><circle cx="1099.7" cy="163.1" r="2.8"/><circle cx="1040.1" cy="257.0" r="2.8"/><circle cx="1102.2" cy="154.2" r="2.8"/><circle cx="1071.5" cy="224.0" r="2.8"/><circle cx="1089.8" cy="156.3" r="2.8"/><circle cx="1088.5" cy="178.3" r="2.8"/><circle cx="1096.2" cy="147.0" r="2.8"/><circle cx="1065.9" cy="236.9" r="2.8"/><circle cx="1089.7" cy="146.1" r="2.8"/><circle cx="1096.1" cy="151.7" r="2.8"/><circle cx="1059.2" cy="194.0" r="2.8"/><circle cx="1069.3" cy="256.4" r="2.8"/><circle cx="1089.3" cy="131.1" r="2.8"/><circle cx="1093.4" cy="131.0" r="2.8"/><circle cx="1088.8" cy="144.4" r="2.8"/><circle cx="1062.2" cy="279.8" r="2.8"/><circle cx="1089.6" cy="181.7" r="2.8"/><circle cx="1072.7" cy="231.4" r="2.8"/><circle cx="1096.0" cy="181.1" r="2.8"/><circle cx="1066.0" cy="197.1" r="2.8"/><circle cx="1067.5" cy="239.1" r="2.8"/><circle cx="1060.2" cy="226.2" r="2.8"/><circle cx="1062.8" cy="234.2" r="2.8"/><circle cx="1100.1" cy="142.9" r="2.8"/><circle cx="1084.3" cy="150.7" r="2.8"/><circle cx="1051.8" cy="263.0" r="2.8"/><circle cx="1085.8" cy="148.4" r="2.8"/><circle cx="1061.6" cy="189.4" r="2.8"/><circle cx="1077.3" cy="179.3" r="2.8"/><circle cx="1064.2" cy="197.4" r="2.8"/><circle cx="1069.7" cy="221.4" r="2.8"/><circle cx="1072.2" cy="237.7" r="2.8"/><circle cx="1063.8" cy="276.8" r="2.8"/><circle cx="1067.8" cy="203.8" r="2.8"/><circle cx="1057.7" cy="232.2" r="2.8"/><circle cx="1061.3" cy="277.1" r="2.8"/><circle cx="1063.8" cy="261.5" r="2.8"/><circle cx="1069.8" cy="271.7" r="2.8"/><circle cx="1062.8" cy="187.2" r="2.8"/><circle cx="1061.3" cy="211.8" r="2.8"/><circle cx="1064.8" cy="255.2" r="2.8"/><circle cx="1066.1" cy="252.9" r="2.8"/><circle cx="1101.2" cy="181.0" r="2.8"/><circle cx="1070.5" cy="188.6" r="2.8"/><circle cx="1093.2" cy="135.7" r="2.8"/><circle cx="1062.7" cy="269.9" r="2.8"/><circle cx="1062.1" cy="255.3" r="2.8"/><circle cx="1093.8" cy="148.5" r="2.8"/><circle cx="1068.8" cy="192.2" r="2.8"/><circle cx="1055.7" cy="264.4" r="2.8"/><circle cx="1066.3" cy="277.8" r="2.8"/><circle cx="1065.7" cy="259.7" r="2.8"/><circle cx="1070.1" cy="290.6" r="2.8"/><circle cx="1049.9" cy="269.3" r="2.8"/><circle cx="1096.0" cy="141.8" r="2.8"/><circle cx="1071.5" cy="229.8" r="2.8"/><circle cx="1102.0" cy="163.8" r="2.8"/><circle cx="1058.6" cy="267.3" r="2.8"/><circle cx="1067.9" cy="167.1" r="2.8"/></g>
<g fill="#7e6cc0"><circle cx="1105.6" cy="234.9" r="2.8"/><circle cx="1098.3" cy="242.7" r="2.8"/><circle cx="1103.1" cy="213.6" r="2.8"/><circle cx="1101.0" cy="282.1" r="2.8"/><circle cx="1103.6" cy="247.4" r="2.8"/><circle cx="1093.4" cy="204.1" r="2.8"/><circle cx="1100.3" cy="219.8" r="2.8"/><circle cx="1106.4" cy="252.5" r="2.8"/><circle cx="1088.9" cy="264.4" r="2.8"/><circle cx="1096.1" cy="262.6" r="2.8"/><circle cx="1118.0" cy="251.7" r="2.8"/><circle cx="1103.2" cy="238.9" r="2.8"/><circle cx="1088.1" cy="224.6" r="2.8"/><circle cx="1092.2" cy="236.2" r="2.8"/><circle cx="1101.6" cy="276.9" r="2.8"/><circle cx="1102.3" cy="193.6" r="2.8"/><circle cx="1115.1" cy="272.3" r="2.8"/><circle cx="1116.4" cy="277.0" r="2.8"/><circle cx="1091.2" cy="209.1" r="2.8"/><circle cx="1100.0" cy="259.5" r="2.8"/><circle cx="1094.4" cy="199.9" r="2.8"/><circle cx="1108.7" cy="260.5" r="2.8"/><circle cx="1087.6" cy="183.8" r="2.8"/><circle cx="1094.7" cy="219.9" r="2.8"/><circle cx="1108.3" cy="229.1" r="2.8"/><circle cx="1096.8" cy="289.2" r="2.8"/><circle cx="1063.7" cy="287.3" r="2.8"/><circle cx="1097.6" cy="264.1" r="2.8"/><circle cx="1089.1" cy="271.8" r="2.8"/><circle cx="1101.4" cy="252.5" r="2.8"/><circle cx="1092.0" cy="283.2" r="2.8"/><circle cx="1097.7" cy="237.3" r="2.8"/><circle cx="1103.1" cy="284.3" r="2.8"/><circle cx="1070.6" cy="269.5" r="2.8"/><circle cx="1088.2" cy="289.9" r="2.8"/><circle cx="1101.4" cy="267.4" r="2.8"/><circle cx="1088.2" cy="300.7" r="2.8"/><circle cx="1094.8" cy="279.6" r="2.8"/><circle cx="1103.2" cy="264.7" r="2.8"/><circle cx="1100.5" cy="290.2" r="2.8"/><circle cx="1104.6" cy="206.1" r="2.8"/><circle cx="1083.8" cy="283.0" r="2.8"/><circle cx="1082.5" cy="274.6" r="2.8"/><circle cx="1089.8" cy="232.6" r="2.8"/><circle cx="1097.7" cy="226.6" r="2.8"/><circle cx="1096.5" cy="209.1" r="2.8"/><circle cx="1085.8" cy="219.6" r="2.8"/><circle cx="1103.3" cy="234.9" r="2.8"/><circle cx="1097.9" cy="202.4" r="2.8"/><circle cx="1082.5" cy="184.4" r="2.8"/><circle cx="1092.3" cy="242.3" r="2.8"/><circle cx="1110.4" cy="261.9" r="2.8"/><circle cx="1120.1" cy="260.1" r="2.8"/><circle cx="1112.3" cy="261.8" r="2.8"/><circle cx="1094.4" cy="209.2" r="2.8"/><circle cx="1121.8" cy="272.8" r="2.8"/><circle cx="1108.7" cy="269.5" r="2.8"/><circle cx="1099.6" cy="224.2" r="2.8"/><circle cx="1089.6" cy="302.0" r="2.8"/><circle cx="1096.5" cy="275.2" r="2.8"/><circle cx="1090.5" cy="189.8" r="2.8"/><circle cx="1102.8" cy="255.1" r="2.8"/><circle cx="1077.7" cy="292.9" r="2.8"/><circle cx="1106.5" cy="227.2" r="2.8"/><circle cx="1093.8" cy="290.0" r="2.8"/><circle cx="1088.7" cy="240.3" r="2.8"/><circle cx="1096.8" cy="284.3" r="2.8"/><circle cx="1099.1" cy="222.2" r="2.8"/><circle cx="1097.6" cy="272.5" r="2.8"/><circle cx="1098.7" cy="286.8" r="2.8"/><circle cx="1102.5" cy="295.2" r="2.8"/><circle cx="1113.9" cy="249.8" r="2.8"/><circle cx="1105.8" cy="239.5" r="2.8"/><circle cx="1082.9" cy="289.3" r="2.8"/><circle cx="1106.6" cy="293.2" r="2.8"/><circle cx="1094.0" cy="254.0" r="2.8"/><circle cx="1108.3" cy="249.1" r="2.8"/><circle cx="1115.1" cy="282.2" r="2.8"/><circle cx="1089.0" cy="204.0" r="2.8"/><circle cx="1114.4" cy="254.1" r="2.8"/><circle cx="1102.5" cy="189.8" r="2.8"/><circle cx="1084.7" cy="234.6" r="2.8"/><circle cx="1087.0" cy="186.2" r="2.8"/><circle cx="1120.4" cy="270.3" r="2.8"/><circle cx="1088.0" cy="284.2" r="2.8"/><circle cx="1089.8" cy="261.9" r="2.8"/><circle cx="1106.1" cy="270.3" r="2.8"/><circle cx="1108.1" cy="235.2" r="2.8"/><circle cx="1093.4" cy="266.7" r="2.8"/><circle cx="1097.7" cy="292.7" r="2.8"/><circle cx="1087.0" cy="288.0" r="2.8"/><circle cx="1098.5" cy="296.9" r="2.8"/><circle cx="1075.8" cy="287.6" r="2.8"/><circle cx="1120.9" cy="262.2" r="2.8"/><circle cx="1111.3" cy="289.5" r="2.8"/><circle cx="1102.4" cy="209.0" r="2.8"/><circle cx="1096.4" cy="295.7" r="2.8"/><circle cx="1103.7" cy="226.7" r="2.8"/><circle cx="1096.3" cy="183.4" r="2.8"/><circle cx="1114.3" cy="270.3" r="2.8"/><circle cx="1081.5" cy="221.5" r="2.8"/><circle cx="1087.4" cy="272.7" r="2.8"/><circle cx="1102.3" cy="249.7" r="2.8"/><circle cx="1100.6" cy="187.0" r="2.8"/><circle cx="1086.3" cy="196.3" r="2.8"/><circle cx="1084.4" cy="186.1" r="2.8"/><circle cx="1115.8" cy="257.6" r="2.8"/><circle cx="1110.0" cy="292.4" r="2.8"/><circle cx="1100.5" cy="204.9" r="2.8"/><circle cx="1109.7" cy="276.9" r="2.8"/><circle cx="1100.9" cy="206.0" r="2.8"/><circle cx="1087.4" cy="293.1" r="2.8"/><circle cx="1099.4" cy="284.8" r="2.8"/><circle cx="1102.7" cy="280.2" r="2.8"/><circle cx="1110.8" cy="240.0" r="2.8"/><circle cx="1090.3" cy="227.6" r="2.8"/><circle cx="1097.7" cy="262.3" r="2.8"/><circle cx="1091.2" cy="224.8" r="2.8"/><circle cx="1111.0" cy="255.4" r="2.8"/><circle cx="1088.2" cy="254.1" r="2.8"/><circle cx="1105.4" cy="214.5" r="2.8"/><circle cx="1105.4" cy="275.0" r="2.8"/><circle cx="1094.6" cy="240.3" r="2.8"/><circle cx="1097.7" cy="219.2" r="2.8"/><circle cx="1098.4" cy="182.3" r="2.8"/><circle cx="1102.8" cy="269.6" r="2.8"/><circle cx="1116.1" cy="251.6" r="2.8"/><circle cx="1101.1" cy="292.5" r="2.8"/><circle cx="1114.2" cy="280.2" r="2.8"/><circle cx="1087.2" cy="297.6" r="2.8"/><circle cx="1092.4" cy="207.3" r="2.8"/><circle cx="1108.2" cy="289.2" r="2.8"/><circle cx="1095.3" cy="252.5" r="2.8"/><circle cx="1099.3" cy="299.6" r="2.8"/><circle cx="1116.5" cy="274.8" r="2.8"/><circle cx="1115.9" cy="262.0" r="2.8"/><circle cx="1091.8" cy="216.3" r="2.8"/><circle cx="1108.7" cy="279.7" r="2.8"/><circle cx="1091.9" cy="271.7" r="2.8"/><circle cx="1104.1" cy="251.8" r="2.8"/><circle cx="1095.5" cy="246.5" r="2.8"/><circle cx="1086.9" cy="226.4" r="2.8"/></g>
<g fill="#8472c6"><circle cx="1114.5" cy="285.5" r="2.8"/><circle cx="1111.6" cy="264.8" r="2.8"/><circle cx="1080.1" cy="204.0" r="2.8"/><circle cx="1093.7" cy="235.1" r="2.8"/><circle cx="1117.2" cy="269.2" r="2.8"/><circle cx="1084.8" cy="260.1" r="2.8"/><circle cx="1060.9" cy="282.1" r="2.8"/><circle cx="1094.4" cy="244.5" r="2.8"/><circle cx="1085.0" cy="213.6" r="2.8"/><circle cx="1091.6" cy="285.5" r="2.8"/><circle cx="1112.9" cy="277.5" r="2.8"/><circle cx="1092.1" cy="278.0" r="2.8"/><circle cx="1095.2" cy="272.7" r="2.8"/><circle cx="1105.0" cy="279.7" r="2.8"/><circle cx="1082.4" cy="194.2" r="2.8"/><circle cx="1087.7" cy="234.3" r="2.8"/><circle cx="1087.1" cy="216.7" r="2.8"/><circle cx="1113.5" cy="267.6" r="2.8"/><circle cx="1105.5" cy="290.2" r="2.8"/><circle cx="1073.1" cy="205.0" r="2.8"/><circle cx="1068.2" cy="229.4" r="2.8"/><circle cx="1081.7" cy="225.1" r="2.8"/><circle cx="1072.7" cy="281.7" r="2.8"/></g>
<g fill="#b4a8d8"><circle cx="1049.3" cy="201.5" r="2.8"/><circle cx="1051.9" cy="187.3" r="2.8"/><circle cx="1027.4" cy="244.4" r="2.8"/><circle cx="1046.0" cy="211.9" r="2.8"/><circle cx="1045.2" cy="219.2" r="2.8"/><circle cx="1024.7" cy="245.1" r="2.8"/><circle cx="1048.3" cy="189.8" r="2.8"/><circle cx="1092.9" cy="145.6" r="2.8"/><circle cx="1051.8" cy="222.1" r="2.8"/><circle cx="1048.4" cy="218.8" r="2.8"/><circle cx="1050.5" cy="204.6" r="2.8"/><circle cx="1042.5" cy="240.3" r="2.8"/><circle cx="1049.4" cy="212.1" r="2.8"/><circle cx="1054.9" cy="242.6" r="2.8"/><circle cx="1043.2" cy="192.1" r="2.8"/><circle cx="1043.3" cy="227.3" r="2.8"/><circle cx="1043.7" cy="216.6" r="2.8"/><circle cx="1040.7" cy="231.6" r="2.8"/><circle cx="1049.5" cy="237.0" r="2.8"/></g>
<g fill="#8472c0"><circle cx="1092.9" cy="222.0" r="2.8"/><circle cx="1120.3" cy="274.4" r="2.8"/><circle cx="1096.5" cy="270.5" r="2.8"/><circle cx="1097.7" cy="268.1" r="2.8"/><circle cx="1081.8" cy="259.0" r="2.8"/><circle cx="1074.3" cy="284.6" r="2.8"/><circle cx="1099.3" cy="194.5" r="2.8"/><circle cx="1080.2" cy="300.7" r="2.8"/><circle cx="1083.4" cy="303.0" r="2.8"/><circle cx="1084.7" cy="248.9" r="2.8"/><circle cx="1094.7" cy="242.3" r="2.8"/><circle cx="1085.9" cy="284.5" r="2.8"/><circle cx="1094.8" cy="292.3" r="2.8"/><circle cx="1073.2" cy="194.7" r="2.8"/><circle cx="1093.7" cy="188.5" r="2.8"/><circle cx="1065.8" cy="283.1" r="2.8"/><circle cx="1116.5" cy="246.4" r="2.8"/><circle cx="1084.4" cy="287.9" r="2.8"/><circle cx="1097.0" cy="199.9" r="2.8"/><circle cx="1084.0" cy="252.8" r="2.8"/><circle cx="1080.8" cy="191.9" r="2.8"/><circle cx="1095.0" cy="221.1" r="2.8"/><circle cx="1099.2" cy="209.4" r="2.8"/><circle cx="1069.3" cy="292.3" r="2.8"/><circle cx="1084.7" cy="209.5" r="2.8"/><circle cx="1100.1" cy="249.5" r="2.8"/><circle cx="1088.9" cy="250.0" r="2.8"/><circle cx="1086.0" cy="193.6" r="2.8"/><circle cx="1097.4" cy="279.9" r="2.8"/><circle cx="1098.0" cy="207.1" r="2.8"/><circle cx="1100.8" cy="287.9" r="2.8"/><circle cx="1122.9" cy="264.8" r="2.8"/><circle cx="1094.8" cy="186.2" r="2.8"/><circle cx="1080.8" cy="216.2" r="2.8"/><circle cx="1096.2" cy="203.5" r="2.8"/><circle cx="1108.7" cy="295.7" r="2.8"/><circle cx="1079.9" cy="244.7" r="2.8"/><circle cx="1078.4" cy="236.7" r="2.8"/><circle cx="1107.4" cy="246.5" r="2.8"/><circle cx="1091.5" cy="289.6" r="2.8"/><circle cx="1074.7" cy="297.6" r="2.8"/><circle cx="1101.2" cy="191.0" r="2.8"/><circle cx="1087.1" cy="266.9" r="2.8"/><circle cx="1096.2" cy="213.6" r="2.8"/><circle cx="1093.3" cy="184.3" r="2.8"/><circle cx="1093.4" cy="274.6" r="2.8"/><circle cx="1119.2" cy="272.3" r="2.8"/><circle cx="1112.2" cy="251.5" r="2.8"/><circle cx="1092.7" cy="246.6" r="2.8"/><circle cx="1068.2" cy="269.3" r="2.8"/><circle cx="1087.0" cy="302.7" r="2.8"/><circle cx="1090.1" cy="187.0" r="2.8"/><circle cx="1084.6" cy="265.5" r="2.8"/><circle cx="1108.6" cy="264.7" r="2.8"/><circle cx="1100.7" cy="227.1" r="2.8"/><circle cx="1092.7" cy="292.6" r="2.8"/><circle cx="1081.8" cy="303.0" r="2.8"/><circle cx="1106.0" cy="218.9" r="2.8"/><circle cx="1083.7" cy="297.8" r="2.8"/><circle cx="1082.1" cy="205.0" r="2.8"/><circle cx="1090.9" cy="269.4" r="2.8"/><circle cx="1091.7" cy="204.1" r="2.8"/><circle cx="1094.7" cy="267.2" r="2.8"/><circle cx="1098.8" cy="257.2" r="2.8"/><circle cx="1098.6" cy="302.1" r="2.8"/><circle cx="1092.5" cy="182.1" r="2.8"/><circle cx="1097.7" cy="216.6" r="2.8"/><circle cx="1097.3" cy="224.1" r="2.8"/><circle cx="1094.1" cy="259.4" r="2.8"/><circle cx="1101.5" cy="237.5" r="2.8"/><circle cx="1087.1" cy="252.6" r="2.8"/><circle cx="1084.3" cy="246.6" r="2.8"/><circle cx="1090.6" cy="194.6" r="2.8"/><circle cx="1108.5" cy="255.4" r="2.8"/><circle cx="1085.7" cy="244.4" r="2.8"/><circle cx="1090.8" cy="249.6" r="2.8"/><circle cx="1081.6" cy="247.9" r="2.8"/><circle cx="1089.9" cy="241.9" r="2.8"/><circle cx="1096.7" cy="254.0" r="2.8"/><circle cx="1076.2" cy="198.8" r="2.8"/><circle cx="1109.9" cy="283.2" r="2.8"/><circle cx="1094.7" cy="196.7" r="2.8"/><circle cx="1106.0" cy="244.6" r="2.8"/><circle cx="1088.0" cy="198.4" r="2.8"/><circle cx="1092.1" cy="191.3" r="2.8"/><circle cx="1087.5" cy="258.0" r="2.8"/><circle cx="1120.4" cy="255.3" r="2.8"/><circle cx="1090.2" cy="201.0" r="2.8"/><circle cx="1093.3" cy="214.6" r="2.8"/><circle cx="1077.4" cy="267.9" r="2.8"/><circle cx="1106.6" cy="297.6" r="2.8"/><circle cx="1093.5" cy="264.9" r="2.8"/><circle cx="1105.4" cy="255.2" r="2.8"/><circle cx="1091.4" cy="198.4" r="2.8"/><circle cx="1085.8" cy="229.7" r="2.8"/></g>
<g fill="#c0bad8"><circle cx="1026.8" cy="199.5" r="2.8"/><circle cx="1031.9" cy="227.7" r="2.8"/><circle cx="1036.6" cy="194.0" r="2.8"/><circle cx="1030.8" cy="240.2" r="2.8"/><circle cx="1036.7" cy="219.2" r="2.8"/></g>
<g fill="#a89cd2"><circle cx="1035.6" cy="254.3" r="2.8"/><circle cx="1047.5" cy="245.2" r="2.8"/><circle cx="1085.8" cy="179.6" r="2.8"/><circle cx="1075.9" cy="163.3" r="2.8"/><circle cx="1090.5" cy="143.9" r="2.8"/><circle cx="1085.1" cy="138.4" r="2.8"/><circle cx="1058.5" cy="264.9" r="2.8"/><circle cx="1047.3" cy="249.8" r="2.8"/><circle cx="1068.1" cy="219.1" r="2.8"/><circle cx="1059.8" cy="209.2" r="2.8"/><circle cx="1054.3" cy="192.3" r="2.8"/><circle cx="1051.7" cy="212.5" r="2.8"/><circle cx="1052.9" cy="188.7" r="2.8"/><circle cx="1055.3" cy="246.5" r="2.8"/><circle cx="1054.1" cy="198.6" r="2.8"/><circle cx="1084.4" cy="146.1" r="2.8"/><circle cx="1099.3" cy="174.7" r="2.8"/><circle cx="1086.6" cy="156.4" r="2.8"/><circle cx="1058.8" cy="188.4" r="2.8"/><circle cx="1061.5" cy="250.1" r="2.8"/><circle cx="1062.9" cy="251.9" r="2.8"/><circle cx="1061.4" cy="252.8" r="2.8"/><circle cx="1044.5" cy="260.5" r="2.8"/><circle cx="1050.0" cy="259.6" r="2.8"/><circle cx="1040.0" cy="242.8" r="2.8"/><circle cx="1051.5" cy="226.5" r="2.8"/><circle cx="1059.8" cy="224.4" r="2.8"/><circle cx="1052.4" cy="266.7" r="2.8"/><circle cx="1073.6" cy="178.2" r="2.8"/><circle cx="1061.2" cy="262.2" r="2.8"/><circle cx="1088.3" cy="128.8" r="2.8"/><circle cx="1044.0" cy="264.0" r="2.8"/><circle cx="1051.2" cy="194.7" r="2.8"/><circle cx="1052.5" cy="207.0" r="2.8"/><circle cx="1056.1" cy="254.8" r="2.8"/><circle cx="1100.3" cy="149.2" r="2.8"/><circle cx="1042.0" cy="254.5" r="2.8"/><circle cx="1061.1" cy="257.7" r="2.8"/><circle cx="1056.6" cy="245.3" r="2.8"/><circle cx="1052.7" cy="193.4" r="2.8"/><circle cx="1081.8" cy="145.6" r="2.8"/><circle cx="1065.1" cy="194.9" r="2.8"/><circle cx="1058.3" cy="207.0" r="2.8"/><circle cx="1057.7" cy="196.9" r="2.8"/><circle cx="1066.6" cy="200.9" r="2.8"/><circle cx="1055.7" cy="213.8" r="2.8"/><circle cx="1067.0" cy="226.8" r="2.8"/><circle cx="1053.7" cy="259.9" r="2.8"/><circle cx="1064.2" cy="237.1" r="2.8"/><circle cx="1060.4" cy="222.1" r="2.8"/><circle cx="1059.3" cy="229.4" r="2.8"/><circle cx="1036.5" cy="244.6" r="2.8"/><circle cx="1056.9" cy="229.5" r="2.8"/><circle cx="1058.5" cy="203.6" r="2.8"/><circle cx="1065.5" cy="219.9" r="2.8"/><circle cx="1094.2" cy="133.6" r="2.8"/><circle cx="1061.6" cy="224.3" r="2.8"/><circle cx="1096.8" cy="153.1" r="2.8"/><circle cx="1056.0" cy="219.3" r="2.8"/><circle cx="1099.8" cy="178.3" r="2.8"/><circle cx="1054.2" cy="216.5" r="2.8"/><circle cx="1081.4" cy="180.9" r="2.8"/><circle cx="1078.1" cy="181.6" r="2.8"/><circle cx="1043.2" cy="261.9" r="2.8"/><circle cx="1038.6" cy="234.9" r="2.8"/><circle cx="1049.9" cy="219.3" r="2.8"/><circle cx="1094.4" cy="129.2" r="2.8"/></g>
<g fill="#968acc"><circle cx="1081.7" cy="148.0" r="2.8"/><circle cx="1070.5" cy="275.5" r="2.8"/><circle cx="1103.8" cy="157.0" r="2.8"/><circle cx="1064.3" cy="231.9" r="2.8"/><circle cx="1073.1" cy="197.2" r="2.8"/><circle cx="1078.8" cy="219.0" r="2.8"/><circle cx="1076.2" cy="265.5" r="2.8"/><circle cx="1063.3" cy="217.1" r="2.8"/><circle cx="1068.2" cy="224.9" r="2.8"/><circle cx="1075.6" cy="227.2" r="2.8"/><circle cx="1070.6" cy="204.5" r="2.8"/><circle cx="1062.8" cy="214.3" r="2.8"/><circle cx="1093.4" cy="158.5" r="2.8"/><circle cx="1078.3" cy="247.5" r="2.8"/><circle cx="1065.8" cy="242.6" r="2.8"/><circle cx="1072.7" cy="251.4" r="2.8"/><circle cx="1062.1" cy="209.0" r="2.8"/><circle cx="1079.2" cy="159.3" r="2.8"/><circle cx="1059.8" cy="284.6" r="2.8"/><circle cx="1059.9" cy="274.9" r="2.8"/><circle cx="1071.1" cy="255.3" r="2.8"/><circle cx="1074.3" cy="234.7" r="2.8"/><circle cx="1076.8" cy="250.0" r="2.8"/><circle cx="1079.2" cy="249.2" r="2.8"/><circle cx="1073.0" cy="267.0" r="2.8"/><circle cx="1068.2" cy="265.2" r="2.8"/><circle cx="1073.0" cy="229.1" r="2.8"/><circle cx="1082.0" cy="143.0" r="2.8"/><circle cx="1076.7" cy="194.3" r="2.8"/><circle cx="1079.2" cy="193.9" r="2.8"/><circle cx="1067.8" cy="274.2" r="2.8"/><circle cx="1103.2" cy="168.9" r="2.8"/><circle cx="1067.0" cy="273.1" r="2.8"/><circle cx="1075.6" cy="257.7" r="2.8"/><circle cx="1060.8" cy="272.3" r="2.8"/><circle cx="1034.7" cy="251.5" r="2.8"/><circle cx="1100.9" cy="170.8" r="2.8"/><circle cx="1058.6" cy="211.9" r="2.8"/><circle cx="1064.6" cy="234.8" r="2.8"/><circle cx="1068.7" cy="209.8" r="2.8"/><circle cx="1075.8" cy="181.8" r="2.8"/><circle cx="1092.2" cy="140.4" r="2.8"/><circle cx="1101.1" cy="176.1" r="2.8"/><circle cx="1073.9" cy="279.4" r="2.8"/><circle cx="1097.7" cy="141.7" r="2.8"/><circle cx="1083.6" cy="155.5" r="2.8"/><circle cx="1070.8" cy="260.2" r="2.8"/><circle cx="1065.7" cy="230.2" r="2.8"/><circle cx="1083.6" cy="256.7" r="2.8"/><circle cx="1057.9" cy="277.0" r="2.8"/><circle cx="1073.3" cy="255.2" r="2.8"/></g>
<g fill="#a296d2"><circle cx="1091.7" cy="139.1" r="2.8"/><circle cx="1051.2" cy="237.6" r="2.8"/><circle cx="1097.2" cy="134.0" r="2.8"/><circle cx="1048.7" cy="258.0" r="2.8"/><circle cx="1061.4" cy="259.8" r="2.8"/><circle cx="1056.7" cy="260.3" r="2.8"/><circle cx="1077.8" cy="161.4" r="2.8"/><circle cx="1052.4" cy="247.1" r="2.8"/><circle cx="1059.0" cy="254.5" r="2.8"/><circle cx="1060.8" cy="206.3" r="2.8"/><circle cx="1080.0" cy="154.0" r="2.8"/><circle cx="1061.2" cy="247.5" r="2.8"/><circle cx="1097.8" cy="176.9" r="2.8"/><circle cx="1055.0" cy="231.9" r="2.8"/><circle cx="1054.3" cy="236.3" r="2.8"/><circle cx="1046.4" cy="266.6" r="2.8"/><circle cx="1101.4" cy="146.1" r="2.8"/><circle cx="1049.5" cy="262.4" r="2.8"/><circle cx="1075.7" cy="166.6" r="2.8"/><circle cx="1057.5" cy="247.2" r="2.8"/><circle cx="1092.2" cy="157.0" r="2.8"/><circle cx="1091.5" cy="134.0" r="2.8"/><circle cx="1059.5" cy="214.0" r="2.8"/><circle cx="1029.9" cy="249.8" r="2.8"/><circle cx="1085.8" cy="134.3" r="2.8"/><circle cx="1065.0" cy="199.9" r="2.8"/><circle cx="1089.8" cy="141.6" r="2.8"/><circle cx="1054.0" cy="250.0" r="2.8"/><circle cx="1099.4" cy="154.1" r="2.8"/><circle cx="1057.1" cy="234.5" r="2.8"/><circle cx="1097.0" cy="139.3" r="2.8"/><circle cx="1067.7" cy="254.8" r="2.8"/><circle cx="1059.5" cy="234.4" r="2.8"/><circle cx="1052.1" cy="252.6" r="2.8"/><circle cx="1061.4" cy="199.7" r="2.8"/><circle cx="1055.2" cy="227.6" r="2.8"/><circle cx="1054.5" cy="267.6" r="2.8"/><circle cx="1061.4" cy="231.2" r="2.8"/><circle cx="1089.0" cy="138.1" r="2.8"/><circle cx="1085.0" cy="143.2" r="2.8"/><circle cx="1063.6" cy="247.1" r="2.8"/><circle cx="1057.8" cy="261.5" r="2.8"/><circle cx="1060.4" cy="191.9" r="2.8"/><circle cx="1055.1" cy="221.4" r="2.8"/><circle cx="1062.6" cy="239.4" r="2.8"/><circle cx="1058.4" cy="192.1" r="2.8"/><circle cx="1086.9" cy="136.6" r="2.8"/><circle cx="1100.7" cy="165.8" r="2.8"/><circle cx="1042.0" cy="260.1" r="2.8"/><circle cx="1056.5" cy="194.7" r="2.8"/><circle cx="1084.0" cy="141.8" r="2.8"/><circle cx="1074.4" cy="174.4" r="2.8"/><circle cx="1041.9" cy="249.5" r="2.8"/><circle cx="1100.7" cy="161.8" r="2.8"/><circle cx="1071.4" cy="184.3" r="2.8"/><circle cx="1074.0" cy="219.7" r="2.8"/><circle cx="1055.0" cy="251.4" r="2.8"/><circle cx="1064.5" cy="249.5" r="2.8"/><circle cx="1065.2" cy="224.3" r="2.8"/><circle cx="1066.2" cy="211.2" r="2.8"/><circle cx="1036.7" cy="249.3" r="2.8"/><circle cx="1061.8" cy="203.5" r="2.8"/><circle cx="1096.5" cy="143.8" r="2.8"/><circle cx="1054.8" cy="256.6" r="2.8"/><circle cx="1065.5" cy="203.7" r="2.8"/><circle cx="1091.8" cy="153.1" r="2.8"/><circle cx="1058.6" cy="199.2" r="2.8"/><circle cx="1090.9" cy="179.4" r="2.8"/><circle cx="1095.6" cy="136.7" r="2.8"/><circle cx="1064.7" cy="244.6" r="2.8"/><circle cx="1056.1" cy="269.2" r="2.8"/><circle cx="1064.0" cy="227.0" r="2.8"/><circle cx="1057.3" cy="221.9" r="2.8"/><circle cx="1059.7" cy="219.8" r="2.8"/><circle cx="1057.3" cy="236.7" r="2.8"/><circle cx="1022.6" cy="236.4" r="2.8"/><circle cx="1101.8" cy="156.0" r="2.8"/><circle cx="1087.2" cy="145.5" r="2.8"/><circle cx="1067.6" cy="188.7" r="2.8"/><circle cx="1092.2" cy="151.5" r="2.8"/><circle cx="1064.3" cy="240.3" r="2.8"/><circle cx="1062.8" cy="176.5" r="2.8"/></g>
<g fill="#babad8"><circle cx="1040.2" cy="226.7" r="2.8"/><circle cx="1035.3" cy="206.7" r="2.8"/></g>
<g fill="#aea8d8"><circle cx="1050.4" cy="188.9" r="2.8"/><circle cx="1056.8" cy="198.8" r="2.8"/><circle cx="1047.8" cy="254.2" r="2.8"/><circle cx="1056.8" cy="188.9" r="2.8"/><circle cx="1051.1" cy="249.5" r="2.8"/><circle cx="1050.1" cy="199.4" r="2.8"/><circle cx="1059.1" cy="238.9" r="2.8"/><circle cx="1032.7" cy="249.1" r="2.8"/><circle cx="1055.0" cy="207.0" r="2.8"/><circle cx="1043.7" cy="241.5" r="2.8"/><circle cx="1038.3" cy="204.3" r="2.8"/><circle cx="1048.6" cy="246.7" r="2.8"/><circle cx="1045.8" cy="187.0" r="2.8"/><circle cx="1029.3" cy="242.5" r="2.8"/><circle cx="1036.0" cy="238.9" r="2.8"/><circle cx="1035.2" cy="242.8" r="2.8"/><circle cx="1050.9" cy="228.8" r="2.8"/><circle cx="1039.8" cy="217.4" r="2.8"/><circle cx="1050.9" cy="213.6" r="2.8"/><circle cx="1089.0" cy="135.9" r="2.8"/><circle cx="1059.2" cy="244.1" r="2.8"/><circle cx="1055.0" cy="211.3" r="2.8"/><circle cx="1041.6" cy="194.6" r="2.8"/><circle cx="1022.6" cy="242.6" r="2.8"/><circle cx="1050.9" cy="209.9" r="2.8"/><circle cx="1042.9" cy="257.0" r="2.8"/><circle cx="1054.2" cy="213.8" r="2.8"/><circle cx="1044.0" cy="246.6" r="2.8"/><circle cx="1030.9" cy="242.7" r="2.8"/><circle cx="1057.7" cy="241.5" r="2.8"/></g>
<g fill="#b4aed8"><circle cx="1050.8" cy="235.1" r="2.8"/><circle cx="1048.6" cy="241.3" r="2.8"/><circle cx="1060.1" cy="236.7" r="2.8"/><circle cx="1041.9" cy="235.3" r="2.8"/><circle cx="1041.1" cy="244.3" r="2.8"/><circle cx="1042.3" cy="228.8" r="2.8"/><circle cx="1045.6" cy="195.9" r="2.8"/><circle cx="1036.9" cy="232.0" r="2.8"/><circle cx="1045.5" cy="224.9" r="2.8"/><circle cx="1032.4" cy="247.3" r="2.8"/><circle cx="1041.1" cy="186.2" r="2.8"/><circle cx="1045.4" cy="234.1" r="2.8"/><circle cx="1043.5" cy="232.4" r="2.8"/><circle cx="1039.6" cy="237.0" r="2.8"/><circle cx="1056.0" cy="203.6" r="2.8"/><circle cx="1046.9" cy="216.5" r="2.8"/><circle cx="1049.0" cy="222.5" r="2.8"/><circle cx="1047.5" cy="204.2" r="2.8"/><circle cx="1035.1" cy="247.5" r="2.8"/><circle cx="1048.9" cy="207.0" r="2.8"/><circle cx="1035.3" cy="237.4" r="2.8"/><circle cx="1028.5" cy="211.7" r="2.8"/><circle cx="1048.1" cy="223.8" r="2.8"/><circle cx="1044.3" cy="254.5" r="2.8"/><circle cx="1052.0" cy="201.8" r="2.8"/><circle cx="1042.9" cy="222.4" r="2.8"/><circle cx="1052.5" cy="232.0" r="2.8"/><circle cx="1020.1" cy="236.8" r="2.8"/><circle cx="1044.9" cy="244.7" r="2.8"/><circle cx="1044.1" cy="250.0" r="2.8"/><circle cx="1024.6" cy="240.3" r="2.8"/><circle cx="1048.5" cy="187.3" r="2.8"/><circle cx="1046.5" cy="236.9" r="2.8"/><circle cx="1055.6" cy="196.5" r="2.8"/><circle cx="1053.9" cy="235.0" r="2.8"/><circle cx="1039.4" cy="248.9" r="2.8"/><circle cx="1028.7" cy="246.5" r="2.8"/><circle cx="1043.1" cy="202.1" r="2.8"/><circle cx="1030.3" cy="244.5" r="2.8"/><circle cx="1040.4" cy="211.3" r="2.8"/><circle cx="1053.0" cy="243.9" r="2.8"/><circle cx="1048.5" cy="227.0" r="2.8"/></g>
<g fill="#bab4d8"><circle cx="1043.5" cy="196.0" r="2.8"/><circle cx="1029.5" cy="226.7" r="2.8"/><circle cx="1043.2" cy="207.4" r="2.8"/><circle cx="1036.7" cy="210.0" r="2.8"/><circle cx="1033.0" cy="239.8" r="2.8"/><circle cx="1038.5" cy="219.1" r="2.8"/><circle cx="1039.4" cy="209.7" r="2.8"/><circle cx="1045.8" cy="206.0" r="2.8"/><circle cx="1029.6" cy="215.0" r="2.8"/><circle cx="1028.0" cy="234.4" r="2.8"/><circle cx="1023.8" cy="194.0" r="2.8"/><circle cx="1036.4" cy="203.9" r="2.8"/><circle cx="1037.2" cy="196.1" r="2.8"/><circle cx="1033.3" cy="199.5" r="2.8"/><circle cx="1044.7" cy="199.5" r="2.8"/><circle cx="1032.4" cy="206.9" r="2.8"/><circle cx="1048.4" cy="197.3" r="2.8"/><circle cx="1031.1" cy="237.7" r="2.8"/><circle cx="1039.9" cy="196.6" r="2.8"/><circle cx="1042.0" cy="188.9" r="2.8"/><circle cx="1036.0" cy="214.6" r="2.8"/><circle cx="1048.3" cy="234.1" r="2.8"/><circle cx="1045.1" cy="188.7" r="2.8"/><circle cx="1038.3" cy="213.8" r="2.8"/><circle cx="1047.3" cy="199.1" r="2.8"/><circle cx="1039.2" cy="239.9" r="2.8"/><circle cx="1034.8" cy="187.1" r="2.8"/><circle cx="1020.8" cy="239.3" r="2.8"/><circle cx="1042.5" cy="237.3" r="2.8"/><circle cx="1041.8" cy="205.0" r="2.8"/><circle cx="1022.9" cy="217.6" r="2.8"/><circle cx="1033.3" cy="214.6" r="2.8"/><circle cx="1046.0" cy="201.0" r="2.8"/><circle cx="1044.5" cy="214.6" r="2.8"/><circle cx="1045.2" cy="209.2" r="2.8"/><circle cx="1038.0" cy="190.9" r="2.8"/><circle cx="1038.6" cy="194.3" r="2.8"/><circle cx="1033.1" cy="244.7" r="2.8"/><circle cx="1030.3" cy="198.8" r="2.8"/><circle cx="1027.8" cy="194.3" r="2.8"/><circle cx="1042.1" cy="199.7" r="2.8"/><circle cx="1045.6" cy="241.4" r="2.8"/><circle cx="1039.9" cy="202.3" r="2.8"/><circle cx="1025.8" cy="237.2" r="2.8"/><circle cx="1039.1" cy="224.7" r="2.8"/><circle cx="1033.6" cy="189.8" r="2.8"/><circle cx="1039.4" cy="189.0" r="2.8"/><circle cx="1036.2" cy="224.9" r="2.8"/><circle cx="1037.0" cy="241.4" r="2.8"/><circle cx="1052.0" cy="242.6" r="2.8"/><circle cx="1045.2" cy="229.1" r="2.8"/><circle cx="1042.3" cy="218.9" r="2.8"/><circle cx="1039.0" cy="198.7" r="2.8"/><circle cx="1049.3" cy="232.0" r="2.8"/><circle cx="1041.0" cy="207.4" r="2.8"/><circle cx="1047.8" cy="193.6" r="2.8"/><circle cx="1038.2" cy="185.9" r="2.8"/><circle cx="1040.1" cy="221.3" r="2.8"/></g>
<g fill="#8a7ec6"><circle cx="1076.6" cy="270.3" r="2.8"/><circle cx="1067.6" cy="279.8" r="2.8"/><circle cx="1079.4" cy="188.5" r="2.8"/><circle cx="1052.7" cy="265.4" r="2.8"/><circle cx="1069.4" cy="206.9" r="2.8"/><circle cx="1075.7" cy="293.2" r="2.8"/><circle cx="1069.0" cy="282.2" r="2.8"/><circle cx="1080.7" cy="186.9" r="2.8"/><circle cx="1082.6" cy="219.7" r="2.8"/><circle cx="1090.4" cy="196.9" r="2.8"/><circle cx="1076.3" cy="253.9" r="2.8"/><circle cx="1078.6" cy="232.5" r="2.8"/><circle cx="1075.7" cy="196.4" r="2.8"/><circle cx="1102.1" cy="144.0" r="2.8"/><circle cx="1071.8" cy="257.8" r="2.8"/><circle cx="1079.2" cy="264.7" r="2.8"/><circle cx="1082.9" cy="264.6" r="2.8"/><circle cx="1081.7" cy="257.7" r="2.8"/><circle cx="1090.7" cy="279.7" r="2.8"/><circle cx="1070.1" cy="297.5" r="2.8"/><circle cx="1080.3" cy="236.7" r="2.8"/><circle cx="1083.6" cy="227.1" r="2.8"/><circle cx="1078.5" cy="187.1" r="2.8"/><circle cx="1065.8" cy="286.7" r="2.8"/><circle cx="1078.0" cy="156.0" r="2.8"/><circle cx="1077.3" cy="300.1" r="2.8"/><circle cx="1083.1" cy="255.4" r="2.8"/><circle cx="1091.7" cy="243.9" r="2.8"/><circle cx="1103.5" cy="257.5" r="2.8"/><circle cx="1096.8" cy="178.7" r="2.8"/><circle cx="1081.1" cy="287.8" r="2.8"/><circle cx="1077.7" cy="222.1" r="2.8"/><circle cx="1078.4" cy="211.5" r="2.8"/><circle cx="1052.8" cy="274.5" r="2.8"/><circle cx="1096.5" cy="193.8" r="2.8"/><circle cx="1112.8" cy="271.7" r="2.8"/><circle cx="1078.2" cy="191.9" r="2.8"/><circle cx="1070.4" cy="265.5" r="2.8"/><circle cx="1080.2" cy="232.6" r="2.8"/><circle cx="1067.1" cy="257.9" r="2.8"/></g>
<g fill="#604eae"><circle cx="1100.8" cy="271.9" r="2.8"/><circle cx="1096.6" cy="240.2" r="2.8"/><circle cx="1106.2" cy="264.8" r="2.8"/><circle cx="1112.7" cy="241.8" r="2.8"/><circle cx="1118.1" cy="282.5" r="2.8"/></g>
<g fill="#7e72c0"><circle cx="1086.0" cy="188.6" r="2.8"/><circle cx="1103.0" cy="219.5" r="2.8"/><circle cx="1087.9" cy="279.5" r="2.8"/><circle cx="1069.9" cy="287.5" r="2.8"/><circle cx="1084.2" cy="278.0" r="2.8"/><circle cx="1114.3" cy="260.1" r="2.8"/><circle cx="1107.7" cy="287.5" r="2.8"/><circle cx="1089.3" cy="207.1" r="2.8"/><circle cx="1086.0" cy="223.8" r="2.8"/><circle cx="1077.0" cy="285.2" r="2.8"/><circle cx="1080.8" cy="262.8" r="2.8"/><circle cx="1088.5" cy="295.1" r="2.8"/><circle cx="1106.5" cy="282.6" r="2.8"/><circle cx="1115.5" cy="266.5" r="2.8"/><circle cx="1108.5" cy="239.3" r="2.8"/><circle cx="1082.8" cy="209.3" r="2.8"/><circle cx="1096.1" cy="232.1" r="2.8"/><circle cx="1088.3" cy="208.6" r="2.8"/><circle cx="1091.9" cy="264.2" r="2.8"/><circle cx="1107.7" cy="272.5" r="2.8"/><circle cx="1091.3" cy="234.5" r="2.8"/><circle cx="1080.2" cy="201.0" r="2.8"/><circle cx="1107.6" cy="236.7" r="2.8"/></g>
<g fill="#c6c6de"><circle cx="1018.1" cy="209.0" r="2.8"/><circle cx="1026.7" cy="188.8" r="2.8"/><circle cx="1016.9" cy="221.2" r="2.8"/><circle cx="1028.1" cy="214.9" r="2.8"/><circle cx="1021.8" cy="213.9" r="2.8"/><circle cx="1027.1" cy="224.6" r="2.8"/><circle cx="1026.5" cy="186.9" r="2.8"/><circle cx="1019.6" cy="201.7" r="2.8"/><circle cx="1035.4" cy="199.6" r="2.8"/><circle cx="1023.6" cy="196.8" r="2.8"/><circle cx="1025.1" cy="208.6" r="2.8"/><circle cx="1021.5" cy="194.8" r="2.8"/><circle cx="1019.4" cy="230.0" r="2.8"/><circle cx="1027.2" cy="230.1" r="2.8"/></g>
<g fill="#ccc6de"><circle cx="1022.5" cy="191.2" r="2.8"/><circle cx="1027.8" cy="208.6" r="2.8"/><circle cx="1025.3" cy="222.2" r="2.8"/><circle cx="1035.9" cy="189.1" r="2.8"/><circle cx="1023.9" cy="204.6" r="2.8"/><circle cx="1029.6" cy="229.2" r="2.8"/><circle cx="1023.0" cy="206.5" r="2.8"/><circle cx="1022.2" cy="212.5" r="2.8"/><circle cx="1026.1" cy="212.1" r="2.8"/><circle cx="1019.1" cy="234.8" r="2.8"/></g>
<g fill="#6c5ab4"><circle cx="1091.9" cy="300.2" r="2.8"/><circle cx="1087.3" cy="206.1" r="2.8"/><circle cx="1119.0" cy="277.7" r="2.8"/><circle cx="1099.9" cy="244.7" r="2.8"/><circle cx="1112.1" cy="247.1" r="2.8"/><circle cx="1102.1" cy="211.7" r="2.8"/></g>
<g fill="#786cc0"><circle cx="1120.2" cy="264.9" r="2.8"/><circle cx="1110.9" cy="249.8" r="2.8"/><circle cx="1099.8" cy="279.3" r="2.8"/><circle cx="1103.9" cy="281.8" r="2.8"/><circle cx="1108.4" cy="245.1" r="2.8"/><circle cx="1104.1" cy="272.1" r="2.8"/></g>
<g fill="#c0bade"><circle cx="1025.6" cy="232.3" r="2.8"/><circle cx="1037.3" cy="201.8" r="2.8"/><circle cx="1024.8" cy="228.8" r="2.8"/><circle cx="1037.6" cy="211.2" r="2.8"/><circle cx="1035.1" cy="192.1" r="2.8"/><circle cx="1039.7" cy="229.6" r="2.8"/><circle cx="1035.4" cy="227.7" r="2.8"/><circle cx="1031.6" cy="211.0" r="2.8"/><circle cx="1037.3" cy="227.5" r="2.8"/><circle cx="1037.1" cy="206.9" r="2.8"/><circle cx="1027.5" cy="204.0" r="2.8"/><circle cx="1031.0" cy="208.6" r="2.8"/><circle cx="1025.1" cy="199.0" r="2.8"/><circle cx="1028.6" cy="232.3" r="2.8"/><circle cx="1033.9" cy="201.5" r="2.8"/><circle cx="1032.5" cy="193.5" r="2.8"/><circle cx="1043.8" cy="211.4" r="2.8"/><circle cx="1044.9" cy="194.1" r="2.8"/><circle cx="1029.9" cy="189.7" r="2.8"/><circle cx="1034.6" cy="196.6" r="2.8"/><circle cx="1041.0" cy="191.8" r="2.8"/><circle cx="1028.1" cy="201.7" r="2.8"/><circle cx="1024.8" cy="188.9" r="2.8"/><circle cx="1024.9" cy="223.9" r="2.8"/><circle cx="1022.4" cy="201.7" r="2.8"/><circle cx="1031.4" cy="191.1" r="2.8"/><circle cx="1026.8" cy="239.0" r="2.8"/><circle cx="1036.6" cy="184.2" r="2.8"/><circle cx="1025.2" cy="213.5" r="2.8"/><circle cx="1032.0" cy="186.7" r="2.8"/></g>
<g fill="#7260ba"><circle cx="1103.3" cy="228.7" r="2.8"/><circle cx="1100.0" cy="199.2" r="2.8"/><circle cx="1098.6" cy="191.6" r="2.8"/><circle cx="1109.7" cy="267.8" r="2.8"/><circle cx="1103.7" cy="236.3" r="2.8"/><circle cx="1084.0" cy="207.5" r="2.8"/><circle cx="1113.0" cy="257.4" r="2.8"/><circle cx="1097.7" cy="234.1" r="2.8"/><circle cx="1083.7" cy="272.1" r="2.8"/><circle cx="1102.2" cy="300.1" r="2.8"/><circle cx="1083.7" cy="292.4" r="2.8"/><circle cx="1106.6" cy="262.5" r="2.8"/><circle cx="1100.5" cy="240.0" r="2.8"/><circle cx="1106.5" cy="266.8" r="2.8"/><circle cx="1103.3" cy="244.1" r="2.8"/><circle cx="1108.2" cy="274.3" r="2.8"/><circle cx="1095.4" cy="297.9" r="2.8"/><circle cx="1097.7" cy="188.8" r="2.8"/><circle cx="1100.7" cy="262.3" r="2.8"/><circle cx="1116.8" cy="249.9" r="2.8"/><circle cx="1083.6" cy="192.3" r="2.8"/><circle cx="1102.0" cy="290.0" r="2.8"/><circle cx="1099.2" cy="254.3" r="2.8"/><circle cx="1110.8" cy="270.1" r="2.8"/><circle cx="1095.1" cy="287.3" r="2.8"/><circle cx="1109.7" cy="237.0" r="2.8"/><circle cx="1098.6" cy="278.1" r="2.8"/><circle cx="1086.2" cy="237.1" r="2.8"/><circle cx="1098.3" cy="252.1" r="2.8"/></g>
<g fill="#a8a2d2"><circle cx="1042.5" cy="187.1" r="2.8"/><circle cx="1081.3" cy="155.8" r="2.8"/><circle cx="1040.2" cy="251.4" r="2.8"/><circle cx="1059.7" cy="250.0" r="2.8"/><circle cx="1067.2" cy="186.2" r="2.8"/><circle cx="1046.6" cy="222.3" r="2.8"/><circle cx="1052.6" cy="216.5" r="2.8"/><circle cx="1093.5" cy="138.4" r="2.8"/><circle cx="1055.2" cy="187.2" r="2.8"/><circle cx="1045.7" cy="256.9" r="2.8"/><circle cx="1084.4" cy="135.8" r="2.8"/><circle cx="1086.0" cy="151.3" r="2.8"/><circle cx="1058.5" cy="201.3" r="2.8"/><circle cx="1050.5" cy="225.1" r="2.8"/><circle cx="1063.3" cy="242.6" r="2.8"/><circle cx="1050.2" cy="240.2" r="2.8"/><circle cx="1038.5" cy="255.2" r="2.8"/><circle cx="1044.2" cy="240.3" r="2.8"/><circle cx="1037.2" cy="257.4" r="2.8"/><circle cx="1050.4" cy="244.7" r="2.8"/><circle cx="1048.9" cy="191.1" r="2.8"/><circle cx="1057.0" cy="251.9" r="2.8"/><circle cx="1088.4" cy="154.3" r="2.8"/><circle cx="1058.1" cy="226.9" r="2.8"/></g>
<g fill="#baaed8"><circle cx="1046.6" cy="227.0" r="2.8"/><circle cx="1041.5" cy="225.0" r="2.8"/><circle cx="1041.8" cy="209.3" r="2.8"/><circle cx="1037.8" cy="221.1" r="2.8"/><circle cx="1045.7" cy="192.0" r="2.8"/><circle cx="1047.3" cy="229.6" r="2.8"/><circle cx="1038.4" cy="184.8" r="2.8"/><circle cx="1021.0" cy="235.1" r="2.8"/><circle cx="1036.8" cy="251.9" r="2.8"/><circle cx="1033.9" cy="219.9" r="2.8"/></g>
<g fill="#c6c0de"><circle cx="1026.0" cy="196.3" r="2.8"/><circle cx="1032.3" cy="201.7" r="2.8"/><circle cx="1032.5" cy="196.2" r="2.8"/><circle cx="1028.7" cy="207.2" r="2.8"/><circle cx="1035.3" cy="234.3" r="2.8"/><circle cx="1030.6" cy="234.6" r="2.8"/><circle cx="1025.8" cy="191.1" r="2.8"/><circle cx="1022.4" cy="227.5" r="2.8"/><circle cx="1031.2" cy="231.9" r="2.8"/><circle cx="1033.3" cy="230.2" r="2.8"/><circle cx="1017.6" cy="212.0" r="2.8"/><circle cx="1025.7" cy="202.0" r="2.8"/><circle cx="1029.9" cy="224.1" r="2.8"/><circle cx="1032.8" cy="224.8" r="2.8"/><circle cx="1021.8" cy="229.0" r="2.8"/><circle cx="1032.4" cy="204.2" r="2.8"/><circle cx="1036.7" cy="229.3" r="2.8"/><circle cx="1031.3" cy="216.3" r="2.8"/><circle cx="1028.9" cy="190.9" r="2.8"/><circle cx="1033.0" cy="234.5" r="2.8"/><circle cx="1034.2" cy="212.5" r="2.8"/><circle cx="1034.9" cy="221.1" r="2.8"/><circle cx="1028.4" cy="216.9" r="2.8"/><circle cx="1029.8" cy="218.6" r="2.8"/><circle cx="1029.4" cy="186.2" r="2.8"/><circle cx="1033.9" cy="216.9" r="2.8"/><circle cx="1032.9" cy="208.5" r="2.8"/><circle cx="1029.6" cy="194.5" r="2.8"/><circle cx="1041.2" cy="215.1" r="2.8"/><circle cx="1021.8" cy="199.0" r="2.8"/><circle cx="1028.4" cy="237.5" r="2.8"/><circle cx="1019.2" cy="199.6" r="2.8"/><circle cx="1029.8" cy="203.8" r="2.8"/></g>
<g fill="#c0c0de"><circle cx="1025.5" cy="206.9" r="2.8"/><circle cx="1025.3" cy="217.1" r="2.8"/><circle cx="1023.5" cy="222.6" r="2.8"/><circle cx="1025.0" cy="234.2" r="2.8"/><circle cx="1021.1" cy="224.3" r="2.8"/><circle cx="1036.9" cy="217.1" r="2.8"/><circle cx="1028.1" cy="221.8" r="2.8"/><circle cx="1034.1" cy="231.6" r="2.8"/><circle cx="1026.6" cy="219.5" r="2.8"/><circle cx="1031.4" cy="222.6" r="2.8"/></g>
<g fill="#aea2d2"><circle cx="1042.6" cy="251.8" r="2.8"/><circle cx="1039.8" cy="246.4" r="2.8"/><circle cx="1045.4" cy="204.6" r="2.8"/><circle cx="1026.6" cy="242.6" r="2.8"/><circle cx="1052.3" cy="196.7" r="2.8"/><circle cx="1053.7" cy="209.7" r="2.8"/><circle cx="1046.2" cy="247.3" r="2.8"/><circle cx="1055.6" cy="240.0" r="2.8"/><circle cx="1047.2" cy="214.6" r="2.8"/><circle cx="1053.8" cy="229.8" r="2.8"/><circle cx="1045.5" cy="251.8" r="2.8"/><circle cx="1095.1" cy="131.6" r="2.8"/><circle cx="1037.5" cy="247.6" r="2.8"/><circle cx="1055.6" cy="201.3" r="2.8"/><circle cx="1049.9" cy="217.1" r="2.8"/><circle cx="1083.7" cy="180.9" r="2.8"/><circle cx="1039.4" cy="244.8" r="2.8"/></g>
<g fill="#aea2d8"><circle cx="1037.1" cy="236.3" r="2.8"/><circle cx="1046.5" cy="232.3" r="2.8"/><circle cx="1053.7" cy="203.8" r="2.8"/><circle cx="1048.4" cy="208.7" r="2.8"/><circle cx="1052.5" cy="256.6" r="2.8"/><circle cx="1060.8" cy="217.1" r="2.8"/><circle cx="1047.4" cy="239.0" r="2.8"/><circle cx="1081.2" cy="150.6" r="2.8"/><circle cx="1053.7" cy="219.8" r="2.8"/></g>
<g fill="#7866c0"><circle cx="1105.0" cy="292.7" r="2.8"/><circle cx="1097.0" cy="300.3" r="2.8"/><circle cx="1103.2" cy="275.1" r="2.8"/><circle cx="1096.5" cy="245.4" r="2.8"/><circle cx="1110.0" cy="252.5" r="2.8"/><circle cx="1101.3" cy="297.5" r="2.8"/><circle cx="1090.0" cy="211.6" r="2.8"/><circle cx="1091.7" cy="184.5" r="2.8"/><circle cx="1100.9" cy="222.5" r="2.8"/><circle cx="1095.1" cy="282.3" r="2.8"/><circle cx="1088.2" cy="244.8" r="2.8"/><circle cx="1095.5" cy="216.1" r="2.8"/><circle cx="1103.6" cy="287.9" r="2.8"/><circle cx="1086.0" cy="279.4" r="2.8"/><circle cx="1110.5" cy="242.5" r="2.8"/><circle cx="1099.3" cy="275.3" r="2.8"/><circle cx="1090.0" cy="292.9" r="2.8"/></g>
<g fill="#7860ba"><circle cx="1110.9" cy="285.1" r="2.8"/><circle cx="1104.8" cy="297.7" r="2.8"/><circle cx="1103.8" cy="242.8" r="2.8"/><circle cx="1101.9" cy="201.1" r="2.8"/></g>
<g fill="#6654ae"><circle cx="1102.8" cy="225.0" r="2.8"/></g>
<g fill="#6c54b4"><circle cx="1104.8" cy="211.4" r="2.8"/></g>
<g fill="#d2ccde"><circle cx="1020.8" cy="211.9" r="2.8"/><circle cx="1017.9" cy="231.7" r="2.8"/><circle cx="1017.2" cy="216.4" r="2.8"/></g>
<g fill="#725aba"><circle cx="1102.0" cy="258.0" r="2.8"/></g>
<g fill="#d2d2e4"><circle cx="1020.0" cy="227.6" r="2.8"/></g>
<g fill="#d2d2de"><circle cx="1024.2" cy="219.3" r="2.8"/></g>
<g fill="#6654b4"><circle cx="1093.3" cy="285.2" r="2.8"/></g>
<path d="M1279.9,128.7 L1276.6,133.4 L1273.2,144.2 L1270.3,156.2 L1266.7,172.2 L1265.5,178.8 L1265.5,178.9 L1265.4,179.0 L1265.4,179.1 L1265.4,179.1 L1265.3,179.2 L1265.3,179.3 L1259.5,185.1 L1259.4,185.1 L1259.3,185.2 L1259.3,185.2 L1259.2,185.2 L1259.1,185.3 L1259.1,185.3 L1259.0,185.3 L1258.9,185.3 L1247.3,185.3 L1247.2,185.3 L1247.2,185.3 L1230.0,182.4 L1218.8,186.6 L1213.3,192.1 L1210.5,202.1 L1209.0,216.3 L1210.0,231.1 L1215.9,245.3 L1225.4,252.4 L1225.4,252.4 L1225.5,252.5 L1225.5,252.5 L1235.1,264.6 L1244.8,276.7 L1244.9,276.7 L1253.2,288.7 L1264.0,299.3 L1275.7,305.3 L1287.4,304.8 L1299.2,300.6 L1308.6,291.1 L1315.7,276.9 L1318.6,262.7 L1314.6,248.5 L1306.2,236.7 L1306.2,236.6 L1306.2,236.5 L1306.1,236.4 L1303.0,226.2 L1303.0,226.1 L1301.5,216.4 L1298.9,202.0 L1298.9,202.0 L1297.6,187.5 L1297.6,187.4 L1297.9,175.8 L1297.9,175.7 L1298.6,165.0 L1299.1,156.0 L1298.1,146.1 L1295.7,136.3 L1290.9,129.2 L1284.9,126.9 Z M1284.9,158.7 L1285.0,158.7 L1285.1,158.7 L1285.2,158.8 L1285.3,158.8 L1285.3,158.8 L1285.4,158.9 L1285.5,158.9 L1293.0,166.4 L1293.0,166.5 L1293.1,166.6 L1293.1,166.6 L1293.1,166.7 L1293.2,166.8 L1293.2,166.8 L1293.2,166.9 L1293.2,167.0 L1293.2,167.1 L1293.2,167.1 L1291.7,175.1 L1291.7,175.2 L1291.6,175.3 L1291.6,175.4 L1291.6,175.4 L1291.5,175.5 L1291.5,175.6 L1291.4,175.6 L1291.3,175.7 L1291.3,175.7 L1291.2,175.7 L1291.1,175.8 L1291.1,175.8 L1291.0,175.8 L1280.0,176.8 L1279.9,176.8 L1269.9,176.8 L1269.8,176.8 L1269.7,176.8 L1269.7,176.8 L1269.6,176.7 L1269.5,176.7 L1269.5,176.7 L1269.4,176.6 L1269.3,176.6 L1269.3,176.5 L1269.2,176.4 L1269.2,176.4 L1269.2,176.3 L1269.1,176.2 L1269.1,176.1 L1269.1,176.1 L1269.1,176.0 L1269.1,175.9 L1269.1,175.8 L1271.1,166.8 L1271.1,166.7 L1271.2,166.7 L1271.2,166.6 L1276.2,158.6 L1276.3,158.5 L1276.3,158.5 L1276.4,158.4 L1276.4,158.3 L1276.5,158.3 L1276.6,158.3 L1276.6,158.2 L1276.7,158.2 L1276.8,158.2 L1276.9,158.2 L1276.9,158.2 Z " fill="#e33c26" fill-rule="evenodd"/>
<path d="M1209.8,192.3 L1207.8,212.0 L1209.8,231.9 L1213.6,246.3 L1220.5,247.1 L1225.2,237.8 L1226.2,215.0 L1226.2,214.9 L1227.2,199.9 L1227.2,199.9 L1227.2,199.8 L1230.1,187.3 L1225.7,182.9 L1214.5,184.7 Z " fill="#e4b42c" fill-rule="evenodd"/>
<g fill="#e33c26"><circle cx="1254.1" cy="264.1" r="2.9"/><circle cx="1232.3" cy="255.8" r="2.9"/><circle cx="1295.4" cy="168.2" r="2.9"/><circle cx="1260.9" cy="265.0" r="2.9"/><circle cx="1294.2" cy="270.0" r="2.9"/><circle cx="1280.3" cy="131.2" r="2.9"/><circle cx="1275.9" cy="227.4" r="2.9"/><circle cx="1252.6" cy="251.5" r="2.9"/><circle cx="1245.0" cy="264.8" r="2.9"/><circle cx="1283.4" cy="297.7" r="2.9"/><circle cx="1293.0" cy="253.1" r="2.9"/><circle cx="1266.5" cy="232.8" r="2.9"/><circle cx="1233.0" cy="227.3" r="2.9"/><circle cx="1288.7" cy="199.7" r="2.9"/><circle cx="1288.3" cy="217.6" r="2.9"/><circle cx="1281.4" cy="280.5" r="2.9"/><circle cx="1251.8" cy="285.0" r="2.9"/><circle cx="1282.4" cy="186.5" r="2.9"/><circle cx="1238.4" cy="194.4" r="2.9"/><circle cx="1257.0" cy="285.6" r="2.9"/><circle cx="1282.4" cy="248.9" r="2.9"/><circle cx="1285.4" cy="144.7" r="2.9"/><circle cx="1295.6" cy="251.4" r="2.9"/><circle cx="1268.3" cy="184.2" r="2.9"/><circle cx="1285.3" cy="191.5" r="2.9"/><circle cx="1272.5" cy="238.6" r="2.9"/><circle cx="1296.5" cy="143.9" r="2.9"/><circle cx="1295.8" cy="272.0" r="2.9"/><circle cx="1236.1" cy="253.3" r="2.9"/><circle cx="1266.7" cy="296.1" r="2.9"/><circle cx="1292.0" cy="136.8" r="2.9"/><circle cx="1257.5" cy="197.0" r="2.9"/><circle cx="1275.7" cy="155.1" r="2.9"/><circle cx="1259.3" cy="261.7" r="2.9"/><circle cx="1299.0" cy="225.0" r="2.9"/><circle cx="1305.5" cy="253.9" r="2.9"/><circle cx="1290.5" cy="258.5" r="2.9"/><circle cx="1298.1" cy="287.9" r="2.9"/><circle cx="1262.1" cy="219.7" r="2.9"/><circle cx="1273.0" cy="290.1" r="2.9"/><circle cx="1255.6" cy="220.7" r="2.9"/><circle cx="1276.5" cy="243.6" r="2.9"/><circle cx="1282.4" cy="198.4" r="2.9"/><circle cx="1281.0" cy="147.5" r="2.9"/><circle cx="1289.6" cy="225.3" r="2.9"/><circle cx="1260.2" cy="201.9" r="2.9"/><circle cx="1255.1" cy="206.8" r="2.9"/><circle cx="1258.2" cy="253.8" r="2.9"/><circle cx="1291.5" cy="250.5" r="2.9"/><circle cx="1274.5" cy="297.9" r="2.9"/><circle cx="1278.0" cy="151.6" r="2.9"/><circle cx="1259.3" cy="251.5" r="2.9"/><circle cx="1273.8" cy="261.9" r="2.9"/><circle cx="1292.7" cy="189.0" r="2.9"/><circle cx="1287.4" cy="259.8" r="2.9"/><circle cx="1266.0" cy="228.4" r="2.9"/><circle cx="1286.7" cy="287.7" r="2.9"/><circle cx="1258.3" cy="264.0" r="2.9"/><circle cx="1296.3" cy="279.5" r="2.9"/><circle cx="1294.7" cy="241.2" r="2.9"/><circle cx="1299.7" cy="212.5" r="2.9"/><circle cx="1279.9" cy="303.5" r="2.9"/><circle cx="1245.0" cy="251.4" r="2.9"/><circle cx="1270.2" cy="164.6" r="2.9"/><circle cx="1264.8" cy="261.6" r="2.9"/><circle cx="1269.8" cy="243.5" r="2.9"/><circle cx="1269.5" cy="238.1" r="2.9"/><circle cx="1288.8" cy="287.6" r="2.9"/><circle cx="1292.7" cy="261.0" r="2.9"/><circle cx="1235.1" cy="220.1" r="2.9"/><circle cx="1227.9" cy="202.5" r="2.9"/><circle cx="1278.7" cy="295.0" r="2.9"/><circle cx="1277.8" cy="266.5" r="2.9"/><circle cx="1238.8" cy="267.2" r="2.9"/><circle cx="1289.5" cy="194.0" r="2.9"/><circle cx="1283.0" cy="230.3" r="2.9"/><circle cx="1243.5" cy="245.9" r="2.9"/><circle cx="1280.7" cy="194.2" r="2.9"/><circle cx="1279.1" cy="264.0" r="2.9"/><circle cx="1262.4" cy="293.5" r="2.9"/><circle cx="1284.3" cy="139.0" r="2.9"/><circle cx="1290.7" cy="159.3" r="2.9"/><circle cx="1279.5" cy="240.7" r="2.9"/><circle cx="1285.1" cy="180.7" r="2.9"/><circle cx="1275.5" cy="150.2" r="2.9"/><circle cx="1280.0" cy="281.9" r="2.9"/><circle cx="1283.0" cy="262.1" r="2.9"/><circle cx="1283.8" cy="208.8" r="2.9"/><circle cx="1237.7" cy="209.3" r="2.9"/><circle cx="1246.5" cy="271.4" r="2.9"/><circle cx="1229.0" cy="246.7" r="2.9"/><circle cx="1287.5" cy="227.4" r="2.9"/><circle cx="1290.5" cy="185.6" r="2.9"/><circle cx="1235.2" cy="193.6" r="2.9"/><circle cx="1275.4" cy="143.9" r="2.9"/><circle cx="1295.5" cy="220.7" r="2.9"/><circle cx="1232.1" cy="199.0" r="2.9"/><circle cx="1231.2" cy="206.3" r="2.9"/><circle cx="1275.2" cy="263.9" r="2.9"/><circle cx="1286.9" cy="240.4" r="2.9"/><circle cx="1275.3" cy="186.4" r="2.9"/><circle cx="1255.2" cy="249.4" r="2.9"/><circle cx="1265.6" cy="220.0" r="2.9"/><circle cx="1265.6" cy="214.0" r="2.9"/><circle cx="1237.4" cy="222.0" r="2.9"/><circle cx="1247.2" cy="220.1" r="2.9"/><circle cx="1281.9" cy="207.6" r="2.9"/><circle cx="1267.0" cy="274.8" r="2.9"/><circle cx="1292.4" cy="204.0" r="2.9"/><circle cx="1285.6" cy="256.4" r="2.9"/><circle cx="1290.1" cy="143.5" r="2.9"/><circle cx="1288.4" cy="181.1" r="2.9"/><circle cx="1276.9" cy="210.1" r="2.9"/><circle cx="1302.1" cy="280.0" r="2.9"/><circle cx="1288.7" cy="183.4" r="2.9"/><circle cx="1281.4" cy="244.0" r="2.9"/><circle cx="1293.0" cy="290.7" r="2.9"/><circle cx="1280.4" cy="250.8" r="2.9"/><circle cx="1256.6" cy="241.1" r="2.9"/><circle cx="1268.7" cy="226.0" r="2.9"/><circle cx="1236.0" cy="212.5" r="2.9"/><circle cx="1295.7" cy="189.0" r="2.9"/><circle cx="1255.9" cy="272.4" r="2.9"/><circle cx="1285.1" cy="153.9" r="2.9"/><circle cx="1242.7" cy="242.8" r="2.9"/><circle cx="1255.4" cy="259.1" r="2.9"/><circle cx="1297.9" cy="161.7" r="2.9"/><circle cx="1268.6" cy="167.6" r="2.9"/><circle cx="1247.2" cy="205.0" r="2.9"/><circle cx="1291.0" cy="216.7" r="2.9"/><circle cx="1245.0" cy="259.6" r="2.9"/><circle cx="1255.9" cy="225.0" r="2.9"/><circle cx="1249.3" cy="248.6" r="2.9"/><circle cx="1263.1" cy="202.3" r="2.9"/><circle cx="1267.6" cy="267.1" r="2.9"/><circle cx="1281.4" cy="139.5" r="2.9"/><circle cx="1292.1" cy="225.3" r="2.9"/><circle cx="1297.1" cy="295.9" r="2.9"/><circle cx="1273.4" cy="284.8" r="2.9"/><circle cx="1280.6" cy="293.1" r="2.9"/><circle cx="1237.0" cy="248.3" r="2.9"/><circle cx="1289.5" cy="255.8" r="2.9"/><circle cx="1229.8" cy="230.8" r="2.9"/><circle cx="1305.3" cy="280.6" r="2.9"/><circle cx="1292.2" cy="219.4" r="2.9"/><circle cx="1283.8" cy="135.7" r="2.9"/><circle cx="1290.2" cy="237.5" r="2.9"/><circle cx="1245.9" cy="239.0" r="2.9"/><circle cx="1285.6" cy="246.1" r="2.9"/><circle cx="1268.6" cy="199.5" r="2.9"/><circle cx="1253.8" cy="235.4" r="2.9"/><circle cx="1303.1" cy="232.5" r="2.9"/><circle cx="1277.9" cy="215.5" r="2.9"/><circle cx="1305.6" cy="275.1" r="2.9"/><circle cx="1244.4" cy="257.2" r="2.9"/><circle cx="1265.7" cy="184.0" r="2.9"/><circle cx="1223.9" cy="246.8" r="2.9"/><circle cx="1271.2" cy="240.9" r="2.9"/><circle cx="1315.4" cy="274.2" r="2.9"/><circle cx="1240.1" cy="258.8" r="2.9"/><circle cx="1291.0" cy="139.2" r="2.9"/><circle cx="1282.0" cy="284.5" r="2.9"/><circle cx="1305.5" cy="284.4" r="2.9"/><circle cx="1287.7" cy="192.0" r="2.9"/><circle cx="1240.5" cy="235.3" r="2.9"/><circle cx="1292.1" cy="152.8" r="2.9"/><circle cx="1268.3" cy="272.6" r="2.9"/><circle cx="1291.3" cy="296.2" r="2.9"/><circle cx="1289.6" cy="141.1" r="2.9"/><circle cx="1283.6" cy="235.4" r="2.9"/><circle cx="1240.5" cy="240.8" r="2.9"/><circle cx="1264.3" cy="275.3" r="2.9"/><circle cx="1279.5" cy="272.5" r="2.9"/><circle cx="1279.2" cy="206.7" r="2.9"/><circle cx="1258.4" cy="249.3" r="2.9"/><circle cx="1281.3" cy="196.8" r="2.9"/><circle cx="1241.4" cy="204.1" r="2.9"/><circle cx="1284.9" cy="290.6" r="2.9"/><circle cx="1267.5" cy="189.3" r="2.9"/><circle cx="1298.0" cy="214.0" r="2.9"/><circle cx="1290.1" cy="154.9" r="2.9"/><circle cx="1262.3" cy="256.2" r="2.9"/><circle cx="1272.2" cy="264.8" r="2.9"/><circle cx="1294.6" cy="293.5" r="2.9"/><circle cx="1273.7" cy="198.5" r="2.9"/><circle cx="1271.8" cy="261.8" r="2.9"/><circle cx="1290.0" cy="208.7" r="2.9"/><circle cx="1282.5" cy="133.7" r="2.9"/><circle cx="1268.8" cy="215.5" r="2.9"/><circle cx="1239.1" cy="263.6" r="2.9"/><circle cx="1253.5" cy="257.1" r="2.9"/><circle cx="1302.5" cy="228.5" r="2.9"/><circle cx="1266.6" cy="216.7" r="2.9"/><circle cx="1260.1" cy="191.1" r="2.9"/><circle cx="1272.3" cy="196.3" r="2.9"/><circle cx="1292.8" cy="272.2" r="2.9"/><circle cx="1280.0" cy="209.4" r="2.9"/><circle cx="1275.2" cy="259.4" r="2.9"/><circle cx="1278.0" cy="228.4" r="2.9"/><circle cx="1281.8" cy="150.0" r="2.9"/><circle cx="1279.7" cy="156.9" r="2.9"/><circle cx="1249.8" cy="261.5" r="2.9"/><circle cx="1235.3" cy="188.3" r="2.9"/><circle cx="1240.4" cy="206.2" r="2.9"/><circle cx="1295.9" cy="285.3" r="2.9"/><circle cx="1266.3" cy="263.9" r="2.9"/><circle cx="1246.3" cy="202.4" r="2.9"/><circle cx="1251.2" cy="238.5" r="2.9"/><circle cx="1264.4" cy="295.0" r="2.9"/><circle cx="1266.8" cy="239.0" r="2.9"/><circle cx="1261.0" cy="222.1" r="2.9"/><circle cx="1259.8" cy="240.9" r="2.9"/><circle cx="1241.8" cy="251.0" r="2.9"/><circle cx="1294.2" cy="170.0" r="2.9"/><circle cx="1288.3" cy="248.7" r="2.9"/><circle cx="1272.0" cy="200.9" r="2.9"/><circle cx="1290.0" cy="206.8" r="2.9"/><circle cx="1257.3" cy="191.2" r="2.9"/><circle cx="1296.2" cy="175.4" r="2.9"/><circle cx="1301.2" cy="292.3" r="2.9"/><circle cx="1271.9" cy="298.0" r="2.9"/><circle cx="1235.9" cy="251.3" r="2.9"/><circle cx="1302.2" cy="243.8" r="2.9"/><circle cx="1269.1" cy="181.3" r="2.9"/><circle cx="1226.6" cy="251.5" r="2.9"/><circle cx="1284.1" cy="269.5" r="2.9"/><circle cx="1254.1" cy="212.9" r="2.9"/><circle cx="1237.6" cy="214.2" r="2.9"/><circle cx="1299.3" cy="239.0" r="2.9"/><circle cx="1262.0" cy="271.5" r="2.9"/><circle cx="1289.6" cy="246.1" r="2.9"/><circle cx="1235.9" cy="185.5" r="2.9"/><circle cx="1284.0" cy="301.1" r="2.9"/><circle cx="1249.7" cy="272.6" r="2.9"/><circle cx="1300.5" cy="230.5" r="2.9"/><circle cx="1274.2" cy="157.6" r="2.9"/><circle cx="1298.6" cy="219.5" r="2.9"/><circle cx="1248.0" cy="237.7" r="2.9"/><circle cx="1292.3" cy="236.3" r="2.9"/><circle cx="1228.1" cy="244.2" r="2.9"/><circle cx="1283.8" cy="303.6" r="2.9"/><circle cx="1269.5" cy="212.4" r="2.9"/><circle cx="1268.6" cy="177.8" r="2.9"/><circle cx="1286.8" cy="251.5" r="2.9"/><circle cx="1289.9" cy="228.1" r="2.9"/><circle cx="1311.2" cy="253.7" r="2.9"/><circle cx="1246.1" cy="211.9" r="2.9"/><circle cx="1231.3" cy="217.6" r="2.9"/><circle cx="1229.7" cy="203.5" r="2.9"/><circle cx="1254.5" cy="186.5" r="2.9"/><circle cx="1249.4" cy="197.2" r="2.9"/><circle cx="1259.4" cy="214.4" r="2.9"/><circle cx="1279.2" cy="300.9" r="2.9"/><circle cx="1252.2" cy="248.0" r="2.9"/><circle cx="1274.5" cy="220.1" r="2.9"/><circle cx="1275.0" cy="204.9" r="2.9"/><circle cx="1295.1" cy="214.4" r="2.9"/><circle cx="1269.6" cy="258.5" r="2.9"/><circle cx="1311.5" cy="274.4" r="2.9"/><circle cx="1253.1" cy="209.7" r="2.9"/><circle cx="1245.0" cy="254.5" r="2.9"/><circle cx="1229.7" cy="220.3" r="2.9"/><circle cx="1291.5" cy="211.4" r="2.9"/><circle cx="1230.0" cy="238.6" r="2.9"/><circle cx="1283.5" cy="147.3" r="2.9"/><circle cx="1288.2" cy="239.0" r="2.9"/><circle cx="1258.4" cy="245.5" r="2.9"/><circle cx="1268.4" cy="172.2" r="2.9"/><circle cx="1290.3" cy="254.4" r="2.9"/><circle cx="1256.4" cy="267.7" r="2.9"/><circle cx="1226.7" cy="246.1" r="2.9"/><circle cx="1300.5" cy="266.5" r="2.9"/><circle cx="1258.0" cy="269.7" r="2.9"/><circle cx="1309.8" cy="282.5" r="2.9"/><circle cx="1243.2" cy="253.6" r="2.9"/><circle cx="1255.5" cy="227.1" r="2.9"/><circle cx="1282.1" cy="295.2" r="2.9"/><circle cx="1266.5" cy="285.1" r="2.9"/><circle cx="1281.0" cy="288.0" r="2.9"/><circle cx="1283.8" cy="214.4" r="2.9"/><circle cx="1234.7" cy="246.8" r="2.9"/><circle cx="1266.8" cy="207.1" r="2.9"/><circle cx="1272.7" cy="222.8" r="2.9"/><circle cx="1273.9" cy="251.4" r="2.9"/><circle cx="1282.4" cy="272.6" r="2.9"/><circle cx="1280.5" cy="219.2" r="2.9"/><circle cx="1273.7" cy="293.1" r="2.9"/><circle cx="1313.9" cy="267.0" r="2.9"/><circle cx="1269.5" cy="233.2" r="2.9"/><circle cx="1296.4" cy="242.7" r="2.9"/><circle cx="1229.9" cy="199.2" r="2.9"/><circle cx="1308.6" cy="264.2" r="2.9"/><circle cx="1241.8" cy="193.5" r="2.9"/><circle cx="1272.9" cy="270.2" r="2.9"/><circle cx="1268.1" cy="219.6" r="2.9"/><circle cx="1290.7" cy="242.9" r="2.9"/><circle cx="1258.4" cy="201.6" r="2.9"/><circle cx="1291.0" cy="196.2" r="2.9"/><circle cx="1288.1" cy="222.8" r="2.9"/><circle cx="1230.1" cy="202.0" r="2.9"/><circle cx="1262.3" cy="230.1" r="2.9"/><circle cx="1281.3" cy="274.9" r="2.9"/><circle cx="1247.3" cy="241.6" r="2.9"/><circle cx="1238.9" cy="224.5" r="2.9"/><circle cx="1228.8" cy="235.5" r="2.9"/><circle cx="1271.9" cy="243.7" r="2.9"/><circle cx="1284.8" cy="227.9" r="2.9"/><circle cx="1264.7" cy="236.1" r="2.9"/><circle cx="1303.5" cy="267.2" r="2.9"/><circle cx="1273.6" cy="210.0" r="2.9"/><circle cx="1239.1" cy="254.2" r="2.9"/><circle cx="1232.7" cy="225.1" r="2.9"/><circle cx="1266.8" cy="201.0" r="2.9"/><circle cx="1244.5" cy="193.5" r="2.9"/><circle cx="1274.1" cy="229.8" r="2.9"/><circle cx="1264.9" cy="193.3" r="2.9"/><circle cx="1279.0" cy="181.2" r="2.9"/><circle cx="1269.6" cy="218.1" r="2.9"/><circle cx="1235.8" cy="236.4" r="2.9"/><circle cx="1284.2" cy="284.8" r="2.9"/><circle cx="1304.3" cy="271.4" r="2.9"/><circle cx="1296.4" cy="154.9" r="2.9"/><circle cx="1269.5" cy="254.4" r="2.9"/><circle cx="1238.5" cy="219.3" r="2.9"/><circle cx="1273.6" cy="235.9" r="2.9"/><circle cx="1292.7" cy="141.7" r="2.9"/><circle cx="1249.6" cy="246.5" r="2.9"/><circle cx="1243.1" cy="211.5" r="2.9"/><circle cx="1302.0" cy="274.0" r="2.9"/><circle cx="1230.0" cy="243.3" r="2.9"/><circle cx="1231.0" cy="222.0" r="2.9"/><circle cx="1276.6" cy="303.0" r="2.9"/><circle cx="1301.7" cy="255.9" r="2.9"/><circle cx="1257.6" cy="290.2" r="2.9"/><circle cx="1272.4" cy="279.7" r="2.9"/><circle cx="1263.2" cy="191.3" r="2.9"/><circle cx="1253.6" cy="241.6" r="2.9"/><circle cx="1247.3" cy="209.8" r="2.9"/><circle cx="1246.8" cy="194.4" r="2.9"/><circle cx="1286.4" cy="276.6" r="2.9"/><circle cx="1296.9" cy="275.5" r="2.9"/><circle cx="1306.9" cy="283.2" r="2.9"/><circle cx="1304.9" cy="245.8" r="2.9"/><circle cx="1276.5" cy="288.2" r="2.9"/><circle cx="1253.9" cy="277.7" r="2.9"/><circle cx="1280.4" cy="205.0" r="2.9"/><circle cx="1244.8" cy="261.7" r="2.9"/><circle cx="1275.4" cy="295.4" r="2.9"/><circle cx="1236.0" cy="237.8" r="2.9"/><circle cx="1275.9" cy="222.8" r="2.9"/><circle cx="1276.6" cy="147.2" r="2.9"/><circle cx="1290.0" cy="236.1" r="2.9"/><circle cx="1314.6" cy="268.8" r="2.9"/><circle cx="1255.2" cy="254.2" r="2.9"/><circle cx="1283.8" cy="152.4" r="2.9"/><circle cx="1229.6" cy="209.9" r="2.9"/><circle cx="1257.7" cy="228.4" r="2.9"/><circle cx="1274.6" cy="152.6" r="2.9"/><circle cx="1274.9" cy="212.9" r="2.9"/><circle cx="1275.4" cy="301.0" r="2.9"/><circle cx="1285.4" cy="197.2" r="2.9"/><circle cx="1301.1" cy="288.2" r="2.9"/><circle cx="1277.7" cy="292.5" r="2.9"/><circle cx="1290.1" cy="301.3" r="2.9"/><circle cx="1297.7" cy="199.1" r="2.9"/><circle cx="1247.9" cy="216.9" r="2.9"/><circle cx="1301.9" cy="246.5" r="2.9"/><circle cx="1241.0" cy="224.6" r="2.9"/><circle cx="1254.8" cy="280.5" r="2.9"/><circle cx="1271.6" cy="256.8" r="2.9"/><circle cx="1260.8" cy="228.4" r="2.9"/><circle cx="1295.0" cy="246.4" r="2.9"/><circle cx="1253.3" cy="219.3" r="2.9"/><circle cx="1288.6" cy="131.3" r="2.9"/><circle cx="1298.0" cy="251.9" r="2.9"/><circle cx="1246.6" cy="250.6" r="2.9"/><circle cx="1312.6" cy="272.5" r="2.9"/><circle cx="1299.8" cy="268.8" r="2.9"/><circle cx="1279.5" cy="154.5" r="2.9"/><circle cx="1281.4" cy="154.5" r="2.9"/><circle cx="1245.5" cy="196.4" r="2.9"/><circle cx="1238.5" cy="250.7" r="2.9"/><circle cx="1229.7" cy="224.7" r="2.9"/><circle cx="1290.9" cy="249.4" r="2.9"/><circle cx="1269.4" cy="300.7" r="2.9"/><circle cx="1261.4" cy="248.2" r="2.9"/><circle cx="1304.7" cy="255.9" r="2.9"/><circle cx="1250.3" cy="209.4" r="2.9"/><circle cx="1272.0" cy="267.7" r="2.9"/><circle cx="1234.2" cy="243.7" r="2.9"/><circle cx="1291.6" cy="276.6" r="2.9"/><circle cx="1232.1" cy="204.2" r="2.9"/><circle cx="1279.5" cy="178.1" r="2.9"/><circle cx="1271.2" cy="287.3" r="2.9"/><circle cx="1262.6" cy="276.8" r="2.9"/><circle cx="1274.0" cy="246.8" r="2.9"/><circle cx="1255.6" cy="283.2" r="2.9"/><circle cx="1243.7" cy="235.8" r="2.9"/><circle cx="1298.8" cy="230.9" r="2.9"/><circle cx="1282.9" cy="141.2" r="2.9"/><circle cx="1311.1" cy="269.4" r="2.9"/><circle cx="1282.4" cy="232.3" r="2.9"/><circle cx="1287.6" cy="233.6" r="2.9"/><circle cx="1286.5" cy="283.3" r="2.9"/><circle cx="1253.1" cy="230.0" r="2.9"/><circle cx="1249.9" cy="198.4" r="2.9"/><circle cx="1285.4" cy="207.1" r="2.9"/><circle cx="1285.7" cy="158.0" r="2.9"/><circle cx="1249.7" cy="229.9" r="2.9"/><circle cx="1296.1" cy="218.0" r="2.9"/><circle cx="1265.4" cy="204.4" r="2.9"/><circle cx="1230.2" cy="212.5" r="2.9"/><circle cx="1273.3" cy="206.9" r="2.9"/><circle cx="1275.4" cy="206.9" r="2.9"/><circle cx="1292.0" cy="214.1" r="2.9"/><circle cx="1263.2" cy="186.3" r="2.9"/><circle cx="1279.8" cy="277.9" r="2.9"/><circle cx="1236.0" cy="228.0" r="2.9"/><circle cx="1303.7" cy="241.4" r="2.9"/><circle cx="1231.6" cy="194.0" r="2.9"/><circle cx="1275.8" cy="279.8" r="2.9"/><circle cx="1285.9" cy="178.3" r="2.9"/><circle cx="1250.2" cy="225.7" r="2.9"/><circle cx="1296.0" cy="203.5" r="2.9"/><circle cx="1251.6" cy="201.6" r="2.9"/><circle cx="1271.7" cy="245.3" r="2.9"/><circle cx="1247.7" cy="234.9" r="2.9"/><circle cx="1277.4" cy="229.8" r="2.9"/><circle cx="1295.2" cy="163.3" r="2.9"/><circle cx="1252.0" cy="242.8" r="2.9"/><circle cx="1236.7" cy="207.2" r="2.9"/><circle cx="1257.6" cy="238.8" r="2.9"/><circle cx="1269.2" cy="290.2" r="2.9"/><circle cx="1313.6" cy="278.0" r="2.9"/><circle cx="1237.5" cy="262.1" r="2.9"/><circle cx="1249.5" cy="215.3" r="2.9"/><circle cx="1292.2" cy="293.0" r="2.9"/><circle cx="1268.3" cy="246.8" r="2.9"/><circle cx="1273.4" cy="254.2" r="2.9"/><circle cx="1237.2" cy="259.5" r="2.9"/><circle cx="1276.6" cy="136.8" r="2.9"/><circle cx="1231.6" cy="220.6" r="2.9"/><circle cx="1302.9" cy="253.5" r="2.9"/><circle cx="1288.4" cy="290.2" r="2.9"/><circle cx="1287.3" cy="207.5" r="2.9"/><circle cx="1273.4" cy="154.2" r="2.9"/><circle cx="1245.2" cy="207.0" r="2.9"/><circle cx="1288.1" cy="139.0" r="2.9"/><circle cx="1284.1" cy="211.7" r="2.9"/><circle cx="1280.1" cy="184.1" r="2.9"/><circle cx="1258.6" cy="230.0" r="2.9"/><circle cx="1268.8" cy="204.1" r="2.9"/><circle cx="1264.8" cy="272.0" r="2.9"/><circle cx="1293.8" cy="159.7" r="2.9"/><circle cx="1279.6" cy="152.6" r="2.9"/><circle cx="1291.0" cy="133.5" r="2.9"/><circle cx="1275.1" cy="290.1" r="2.9"/><circle cx="1244.5" cy="214.5" r="2.9"/><circle cx="1282.6" cy="203.9" r="2.9"/><circle cx="1276.8" cy="282.6" r="2.9"/><circle cx="1293.4" cy="243.2" r="2.9"/><circle cx="1299.2" cy="295.0" r="2.9"/><circle cx="1282.1" cy="181.2" r="2.9"/><circle cx="1269.9" cy="295.3" r="2.9"/><circle cx="1278.5" cy="238.2" r="2.9"/><circle cx="1276.3" cy="232.2" r="2.9"/><circle cx="1287.6" cy="285.5" r="2.9"/><circle cx="1301.3" cy="272.0" r="2.9"/><circle cx="1238.9" cy="256.0" r="2.9"/><circle cx="1303.2" cy="258.4" r="2.9"/><circle cx="1285.9" cy="272.3" r="2.9"/><circle cx="1235.9" cy="230.7" r="2.9"/><circle cx="1250.2" cy="203.6" r="2.9"/><circle cx="1298.0" cy="262.1" r="2.9"/><circle cx="1292.4" cy="267.3" r="2.9"/><circle cx="1239.0" cy="228.3" r="2.9"/><circle cx="1257.3" cy="206.4" r="2.9"/><circle cx="1270.5" cy="293.2" r="2.9"/><circle cx="1295.3" cy="198.8" r="2.9"/><circle cx="1297.6" cy="283.3" r="2.9"/><circle cx="1283.1" cy="183.6" r="2.9"/><circle cx="1280.3" cy="298.9" r="2.9"/><circle cx="1289.1" cy="282.3" r="2.9"/><circle cx="1242.9" cy="269.0" r="2.9"/><circle cx="1294.9" cy="151.4" r="2.9"/><circle cx="1306.5" cy="256.9" r="2.9"/><circle cx="1277.1" cy="245.7" r="2.9"/><circle cx="1259.2" cy="293.0" r="2.9"/><circle cx="1251.4" cy="211.9" r="2.9"/><circle cx="1307.9" cy="261.0" r="2.9"/><circle cx="1224.3" cy="249.2" r="2.9"/><circle cx="1243.7" cy="229.8" r="2.9"/><circle cx="1301.2" cy="283.0" r="2.9"/><circle cx="1244.4" cy="240.6" r="2.9"/><circle cx="1279.9" cy="230.0" r="2.9"/><circle cx="1235.1" cy="199.6" r="2.9"/><circle cx="1299.6" cy="284.6" r="2.9"/><circle cx="1279.6" cy="136.6" r="2.9"/><circle cx="1231.6" cy="214.0" r="2.9"/><circle cx="1286.6" cy="236.1" r="2.9"/><circle cx="1247.0" cy="214.0" r="2.9"/><circle cx="1296.0" cy="269.3" r="2.9"/><circle cx="1274.1" cy="178.7" r="2.9"/><circle cx="1289.1" cy="250.8" r="2.9"/><circle cx="1254.5" cy="217.6" r="2.9"/><circle cx="1282.7" cy="156.7" r="2.9"/><circle cx="1264.2" cy="196.4" r="2.9"/><circle cx="1243.5" cy="201.6" r="2.9"/><circle cx="1229.8" cy="241.5" r="2.9"/><circle cx="1265.7" cy="225.6" r="2.9"/><circle cx="1296.4" cy="160.6" r="2.9"/><circle cx="1305.2" cy="238.2" r="2.9"/><circle cx="1277.9" cy="191.5" r="2.9"/><circle cx="1269.2" cy="202.3" r="2.9"/><circle cx="1291.0" cy="191.9" r="2.9"/><circle cx="1302.4" cy="290.5" r="2.9"/><circle cx="1301.2" cy="220.0" r="2.9"/><circle cx="1288.4" cy="157.6" r="2.9"/><circle cx="1282.5" cy="281.9" r="2.9"/><circle cx="1230.2" cy="254.3" r="2.9"/><circle cx="1264.6" cy="199.2" r="2.9"/><circle cx="1314.9" cy="253.3" r="2.9"/><circle cx="1294.5" cy="141.6" r="2.9"/><circle cx="1283.0" cy="131.3" r="2.9"/><circle cx="1292.0" cy="208.9" r="2.9"/><circle cx="1254.8" cy="201.3" r="2.9"/><circle cx="1296.4" cy="290.8" r="2.9"/><circle cx="1272.6" cy="186.8" r="2.9"/><circle cx="1261.8" cy="194.4" r="2.9"/><circle cx="1265.7" cy="251.3" r="2.9"/><circle cx="1240.5" cy="245.3" r="2.9"/><circle cx="1295.0" cy="299.0" r="2.9"/><circle cx="1289.4" cy="177.5" r="2.9"/><circle cx="1266.1" cy="254.7" r="2.9"/><circle cx="1284.1" cy="259.4" r="2.9"/><circle cx="1308.3" cy="275.5" r="2.9"/><circle cx="1254.1" cy="238.3" r="2.9"/><circle cx="1240.4" cy="232.4" r="2.9"/><circle cx="1277.5" cy="261.4" r="2.9"/><circle cx="1257.9" cy="243.9" r="2.9"/><circle cx="1283.5" cy="193.4" r="2.9"/><circle cx="1296.5" cy="164.7" r="2.9"/><circle cx="1274.0" cy="187.9" r="2.9"/><circle cx="1276.8" cy="198.3" r="2.9"/><circle cx="1275.3" cy="201.8" r="2.9"/><circle cx="1256.9" cy="233.3" r="2.9"/><circle cx="1311.9" cy="264.9" r="2.9"/><circle cx="1240.5" cy="218.1" r="2.9"/><circle cx="1249.4" cy="206.8" r="2.9"/><circle cx="1288.3" cy="133.3" r="2.9"/><circle cx="1296.7" cy="264.9" r="2.9"/><circle cx="1285.5" cy="266.2" r="2.9"/><circle cx="1279.5" cy="225.2" r="2.9"/><circle cx="1260.4" cy="237.9" r="2.9"/><circle cx="1268.6" cy="235.1" r="2.9"/><circle cx="1287.1" cy="201.9" r="2.9"/><circle cx="1295.5" cy="225.9" r="2.9"/><circle cx="1277.2" cy="298.9" r="2.9"/><circle cx="1277.3" cy="194.4" r="2.9"/><circle cx="1262.7" cy="287.7" r="2.9"/><circle cx="1300.4" cy="248.7" r="2.9"/><circle cx="1247.0" cy="266.7" r="2.9"/><circle cx="1274.5" cy="303.1" r="2.9"/><circle cx="1245.7" cy="232.9" r="2.9"/><circle cx="1245.3" cy="269.3" r="2.9"/><circle cx="1259.7" cy="189.2" r="2.9"/><circle cx="1294.4" cy="150.0" r="2.9"/><circle cx="1310.1" cy="267.6" r="2.9"/><circle cx="1270.8" cy="215.2" r="2.9"/><circle cx="1297.7" cy="246.1" r="2.9"/><circle cx="1271.0" cy="184.1" r="2.9"/><circle cx="1264.4" cy="259.0" r="2.9"/><circle cx="1287.8" cy="150.0" r="2.9"/><circle cx="1246.0" cy="248.6" r="2.9"/><circle cx="1278.3" cy="149.0" r="2.9"/><circle cx="1296.5" cy="202.5" r="2.9"/><circle cx="1251.5" cy="197.2" r="2.9"/><circle cx="1295.1" cy="277.2" r="2.9"/><circle cx="1275.0" cy="225.2" r="2.9"/><circle cx="1276.4" cy="187.8" r="2.9"/><circle cx="1261.3" cy="270.0" r="2.9"/><circle cx="1297.3" cy="248.1" r="2.9"/><circle cx="1252.9" cy="246.0" r="2.9"/><circle cx="1296.8" cy="190.5" r="2.9"/><circle cx="1290.5" cy="180.7" r="2.9"/><circle cx="1289.3" cy="214.1" r="2.9"/><circle cx="1300.4" cy="279.7" r="2.9"/><circle cx="1282.5" cy="251.7" r="2.9"/><circle cx="1280.9" cy="223.3" r="2.9"/><circle cx="1309.5" cy="269.6" r="2.9"/><circle cx="1278.8" cy="254.0" r="2.9"/><circle cx="1265.0" cy="208.8" r="2.9"/><circle cx="1254.0" cy="283.2" r="2.9"/><circle cx="1275.4" cy="191.4" r="2.9"/><circle cx="1245.6" cy="191.3" r="2.9"/><circle cx="1286.5" cy="188.9" r="2.9"/><circle cx="1292.8" cy="162.6" r="2.9"/><circle cx="1261.5" cy="235.4" r="2.9"/><circle cx="1289.7" cy="271.4" r="2.9"/><circle cx="1314.5" cy="263.8" r="2.9"/><circle cx="1233.5" cy="249.0" r="2.9"/><circle cx="1259.6" cy="225.4" r="2.9"/><circle cx="1265.4" cy="298.9" r="2.9"/><circle cx="1264.8" cy="293.5" r="2.9"/><circle cx="1268.0" cy="209.5" r="2.9"/><circle cx="1287.4" cy="196.6" r="2.9"/><circle cx="1288.0" cy="264.3" r="2.9"/><circle cx="1308.3" cy="259.0" r="2.9"/><circle cx="1312.3" cy="259.8" r="2.9"/><circle cx="1265.2" cy="267.2" r="2.9"/><circle cx="1251.1" cy="222.9" r="2.9"/><circle cx="1266.3" cy="196.3" r="2.9"/><circle cx="1296.7" cy="258.7" r="2.9"/><circle cx="1249.2" cy="264.4" r="2.9"/><circle cx="1232.3" cy="240.7" r="2.9"/><circle cx="1254.6" cy="269.5" r="2.9"/><circle cx="1241.9" cy="259.7" r="2.9"/><circle cx="1288.0" cy="154.5" r="2.9"/><circle cx="1302.4" cy="284.6" r="2.9"/><circle cx="1276.2" cy="248.0" r="2.9"/><circle cx="1272.8" cy="295.7" r="2.9"/><circle cx="1290.3" cy="274.7" r="2.9"/><circle cx="1225.5" cy="243.5" r="2.9"/><circle cx="1293.7" cy="274.1" r="2.9"/><circle cx="1265.4" cy="282.3" r="2.9"/><circle cx="1252.5" cy="232.4" r="2.9"/><circle cx="1281.5" cy="289.7" r="2.9"/><circle cx="1241.1" cy="261.1" r="2.9"/><circle cx="1305.2" cy="290.9" r="2.9"/><circle cx="1244.7" cy="224.5" r="2.9"/><circle cx="1270.3" cy="186.4" r="2.9"/><circle cx="1297.8" cy="298.7" r="2.9"/><circle cx="1263.0" cy="251.7" r="2.9"/><circle cx="1297.7" cy="277.0" r="2.9"/><circle cx="1254.5" cy="275.1" r="2.9"/><circle cx="1285.6" cy="141.0" r="2.9"/><circle cx="1310.2" cy="261.6" r="2.9"/><circle cx="1276.0" cy="237.9" r="2.9"/><circle cx="1285.3" cy="248.7" r="2.9"/><circle cx="1286.1" cy="182.8" r="2.9"/><circle cx="1279.3" cy="202.1" r="2.9"/><circle cx="1288.7" cy="151.5" r="2.9"/><circle cx="1251.6" cy="217.9" r="2.9"/><circle cx="1237.7" cy="235.1" r="2.9"/><circle cx="1291.2" cy="291.0" r="2.9"/><circle cx="1300.1" cy="232.3" r="2.9"/><circle cx="1275.1" cy="217.6" r="2.9"/><circle cx="1301.2" cy="261.3" r="2.9"/><circle cx="1285.7" cy="215.1" r="2.9"/><circle cx="1233.4" cy="259.8" r="2.9"/><circle cx="1284.9" cy="149.9" r="2.9"/><circle cx="1296.1" cy="238.3" r="2.9"/><circle cx="1242.8" cy="222.3" r="2.9"/><circle cx="1293.2" cy="238.8" r="2.9"/><circle cx="1258.7" cy="266.4" r="2.9"/><circle cx="1282.5" cy="240.2" r="2.9"/><circle cx="1293.4" cy="138.9" r="2.9"/><circle cx="1282.7" cy="256.4" r="2.9"/><circle cx="1293.0" cy="143.9" r="2.9"/><circle cx="1272.7" cy="190.5" r="2.9"/><circle cx="1252.7" cy="267.0" r="2.9"/><circle cx="1281.4" cy="217.6" r="2.9"/><circle cx="1249.1" cy="243.9" r="2.9"/><circle cx="1277.6" cy="240.5" r="2.9"/><circle cx="1302.0" cy="237.9" r="2.9"/><circle cx="1262.8" cy="214.0" r="2.9"/><circle cx="1264.5" cy="222.0" r="2.9"/><circle cx="1276.3" cy="139.5" r="2.9"/><circle cx="1282.1" cy="301.4" r="2.9"/><circle cx="1286.3" cy="151.7" r="2.9"/><circle cx="1316.7" cy="262.3" r="2.9"/><circle cx="1248.3" cy="269.2" r="2.9"/><circle cx="1298.8" cy="293.6" r="2.9"/><circle cx="1236.3" cy="191.5" r="2.9"/><circle cx="1270.1" cy="248.6" r="2.9"/><circle cx="1278.6" cy="280.8" r="2.9"/><circle cx="1289.8" cy="302.7" r="2.9"/><circle cx="1291.5" cy="240.3" r="2.9"/><circle cx="1256.0" cy="230.5" r="2.9"/><circle cx="1288.0" cy="269.3" r="2.9"/><circle cx="1288.3" cy="295.0" r="2.9"/><circle cx="1301.0" cy="236.3" r="2.9"/><circle cx="1252.6" cy="204.3" r="2.9"/><circle cx="1270.5" cy="209.8" r="2.9"/><circle cx="1295.3" cy="236.2" r="2.9"/><circle cx="1239.4" cy="196.6" r="2.9"/><circle cx="1245.7" cy="243.4" r="2.9"/><circle cx="1305.9" cy="264.9" r="2.9"/><circle cx="1258.4" cy="211.6" r="2.9"/><circle cx="1241.5" cy="219.3" r="2.9"/><circle cx="1248.1" cy="227.2" r="2.9"/><circle cx="1304.9" cy="243.9" r="2.9"/><circle cx="1231.0" cy="227.9" r="2.9"/><circle cx="1289.5" cy="220.1" r="2.9"/><circle cx="1242.8" cy="207.3" r="2.9"/><circle cx="1303.4" cy="236.4" r="2.9"/><circle cx="1259.9" cy="277.3" r="2.9"/><circle cx="1292.0" cy="194.1" r="2.9"/><circle cx="1305.6" cy="248.0" r="2.9"/><circle cx="1261.8" cy="283.2" r="2.9"/><circle cx="1284.9" cy="296.0" r="2.9"/><circle cx="1294.9" cy="172.5" r="2.9"/><circle cx="1292.0" cy="245.8" r="2.9"/><circle cx="1256.2" cy="198.4" r="2.9"/><circle cx="1245.3" cy="222.9" r="2.9"/><circle cx="1277.1" cy="220.2" r="2.9"/><circle cx="1289.3" cy="188.6" r="2.9"/><circle cx="1240.6" cy="229.7" r="2.9"/><circle cx="1247.8" cy="189.4" r="2.9"/><circle cx="1251.1" cy="259.2" r="2.9"/><circle cx="1291.3" cy="279.7" r="2.9"/><circle cx="1297.2" cy="169.9" r="2.9"/><circle cx="1278.5" cy="144.0" r="2.9"/><circle cx="1256.1" cy="246.5" r="2.9"/><circle cx="1303.9" cy="288.6" r="2.9"/><circle cx="1310.9" cy="245.4" r="2.9"/><circle cx="1279.6" cy="142.1" r="2.9"/><circle cx="1251.7" cy="275.2" r="2.9"/><circle cx="1266.4" cy="222.5" r="2.9"/><circle cx="1271.6" cy="178.5" r="2.9"/><circle cx="1264.3" cy="249.0" r="2.9"/><circle cx="1281.4" cy="212.3" r="2.9"/><circle cx="1299.2" cy="258.6" r="2.9"/><circle cx="1289.3" cy="240.1" r="2.9"/><circle cx="1255.4" cy="285.7" r="2.9"/><circle cx="1253.2" cy="214.1" r="2.9"/><circle cx="1256.9" cy="259.5" r="2.9"/><circle cx="1283.7" cy="188.0" r="2.9"/><circle cx="1278.4" cy="134.2" r="2.9"/><circle cx="1296.4" cy="206.7" r="2.9"/><circle cx="1295.5" cy="147.4" r="2.9"/><circle cx="1270.7" cy="162.4" r="2.9"/><circle cx="1255.6" cy="214.4" r="2.9"/><circle cx="1227.1" cy="249.0" r="2.9"/><circle cx="1275.0" cy="254.5" r="2.9"/><circle cx="1235.1" cy="225.3" r="2.9"/><circle cx="1264.9" cy="257.0" r="2.9"/><circle cx="1259.0" cy="198.4" r="2.9"/><circle cx="1256.1" cy="209.7" r="2.9"/><circle cx="1271.3" cy="225.6" r="2.9"/><circle cx="1311.8" cy="280.7" r="2.9"/><circle cx="1293.4" cy="164.8" r="2.9"/><circle cx="1279.0" cy="186.0" r="2.9"/><circle cx="1254.8" cy="243.8" r="2.9"/><circle cx="1286.1" cy="204.9" r="2.9"/><circle cx="1249.2" cy="254.3" r="2.9"/><circle cx="1274.7" cy="255.9" r="2.9"/><circle cx="1239.9" cy="248.9" r="2.9"/><circle cx="1295.7" cy="287.4" r="2.9"/><circle cx="1261.9" cy="203.8" r="2.9"/><circle cx="1289.6" cy="147.3" r="2.9"/><circle cx="1268.1" cy="299.0" r="2.9"/><circle cx="1286.8" cy="209.4" r="2.9"/><circle cx="1300.4" cy="227.2" r="2.9"/><circle cx="1242.4" cy="248.5" r="2.9"/><circle cx="1261.4" cy="233.8" r="2.9"/><circle cx="1284.3" cy="275.5" r="2.9"/><circle cx="1228.0" cy="207.4" r="2.9"/><circle cx="1272.3" cy="227.1" r="2.9"/><circle cx="1262.9" cy="262.1" r="2.9"/><circle cx="1312.1" cy="248.9" r="2.9"/><circle cx="1273.8" cy="193.4" r="2.9"/><circle cx="1250.3" cy="267.5" r="2.9"/><circle cx="1299.9" cy="222.6" r="2.9"/><circle cx="1284.7" cy="202.2" r="2.9"/><circle cx="1281.0" cy="227.9" r="2.9"/><circle cx="1280.9" cy="215.5" r="2.9"/><circle cx="1272.7" cy="216.9" r="2.9"/><circle cx="1288.0" cy="301.0" r="2.9"/><circle cx="1260.0" cy="216.7" r="2.9"/><circle cx="1233.6" cy="238.6" r="2.9"/><circle cx="1270.5" cy="264.5" r="2.9"/><circle cx="1242.5" cy="216.7" r="2.9"/><circle cx="1262.4" cy="209.6" r="2.9"/><circle cx="1287.6" cy="274.5" r="2.9"/><circle cx="1256.4" cy="193.8" r="2.9"/><circle cx="1255.4" cy="191.3" r="2.9"/><circle cx="1258.8" cy="220.6" r="2.9"/><circle cx="1252.7" cy="261.7" r="2.9"/><circle cx="1302.3" cy="269.6" r="2.9"/><circle cx="1250.3" cy="277.3" r="2.9"/><circle cx="1303.8" cy="251.6" r="2.9"/><circle cx="1298.1" cy="266.2" r="2.9"/><circle cx="1266.3" cy="180.8" r="2.9"/><circle cx="1261.5" cy="274.8" r="2.9"/><circle cx="1250.6" cy="194.2" r="2.9"/><circle cx="1295.9" cy="209.3" r="2.9"/><circle cx="1298.5" cy="210.2" r="2.9"/><circle cx="1286.2" cy="298.8" r="2.9"/><circle cx="1279.4" cy="199.7" r="2.9"/><circle cx="1306.4" cy="269.5" r="2.9"/><circle cx="1236.7" cy="264.3" r="2.9"/><circle cx="1270.3" cy="207.6" r="2.9"/><circle cx="1288.0" cy="185.5" r="2.9"/><circle cx="1276.9" cy="205.0" r="2.9"/><circle cx="1307.2" cy="245.6" r="2.9"/><circle cx="1299.0" cy="253.8" r="2.9"/><circle cx="1253.4" cy="287.5" r="2.9"/><circle cx="1279.2" cy="249.1" r="2.9"/><circle cx="1296.9" cy="149.0" r="2.9"/><circle cx="1246.5" cy="227.8" r="2.9"/><circle cx="1288.1" cy="212.7" r="2.9"/><circle cx="1266.0" cy="290.3" r="2.9"/><circle cx="1263.4" cy="232.7" r="2.9"/><circle cx="1251.2" cy="253.9" r="2.9"/><circle cx="1273.7" cy="277.9" r="2.9"/><circle cx="1293.1" cy="185.9" r="2.9"/><circle cx="1267.0" cy="176.1" r="2.9"/><circle cx="1227.4" cy="233.2" r="2.9"/><circle cx="1291.9" cy="287.9" r="2.9"/><circle cx="1286.9" cy="254.6" r="2.9"/><circle cx="1296.1" cy="196.6" r="2.9"/><circle cx="1285.6" cy="194.5" r="2.9"/><circle cx="1248.3" cy="190.7" r="2.9"/><circle cx="1268.7" cy="282.1" r="2.9"/><circle cx="1280.3" cy="262.1" r="2.9"/><circle cx="1282.5" cy="239.0" r="2.9"/><circle cx="1293.5" cy="301.5" r="2.9"/><circle cx="1301.4" cy="224.7" r="2.9"/><circle cx="1234.5" cy="222.7" r="2.9"/><circle cx="1274.6" cy="241.3" r="2.9"/><circle cx="1275.6" cy="285.7" r="2.9"/><circle cx="1293.9" cy="180.3" r="2.9"/><circle cx="1277.2" cy="276.6" r="2.9"/><circle cx="1297.4" cy="233.3" r="2.9"/><circle cx="1249.6" cy="220.5" r="2.9"/><circle cx="1260.1" cy="280.0" r="2.9"/><circle cx="1286.0" cy="137.0" r="2.9"/><circle cx="1290.7" cy="269.1" r="2.9"/><circle cx="1281.6" cy="202.3" r="2.9"/><circle cx="1313.3" cy="256.4" r="2.9"/><circle cx="1315.9" cy="266.8" r="2.9"/><circle cx="1293.9" cy="218.1" r="2.9"/><circle cx="1264.8" cy="288.4" r="2.9"/><circle cx="1246.8" cy="230.9" r="2.9"/><circle cx="1253.9" cy="199.8" r="2.9"/><circle cx="1284.5" cy="242.7" r="2.9"/><circle cx="1269.0" cy="195.9" r="2.9"/><circle cx="1300.5" cy="250.9" r="2.9"/><circle cx="1297.5" cy="240.7" r="2.9"/><circle cx="1230.8" cy="248.0" r="2.9"/><circle cx="1267.7" cy="240.5" r="2.9"/><circle cx="1276.3" cy="181.3" r="2.9"/><circle cx="1255.5" cy="236.1" r="2.9"/><circle cx="1260.8" cy="289.7" r="2.9"/><circle cx="1304.7" cy="292.3" r="2.9"/><circle cx="1277.3" cy="225.7" r="2.9"/><circle cx="1295.5" cy="266.2" r="2.9"/><circle cx="1303.4" cy="248.0" r="2.9"/><circle cx="1244.7" cy="267.4" r="2.9"/><circle cx="1254.1" cy="196.4" r="2.9"/><circle cx="1283.8" cy="277.9" r="2.9"/><circle cx="1300.1" cy="217.1" r="2.9"/><circle cx="1308.1" cy="254.1" r="2.9"/><circle cx="1293.1" cy="211.4" r="2.9"/><circle cx="1231.7" cy="251.4" r="2.9"/><circle cx="1239.0" cy="237.7" r="2.9"/><circle cx="1242.5" cy="227.9" r="2.9"/><circle cx="1292.3" cy="157.6" r="2.9"/><circle cx="1281.2" cy="254.6" r="2.9"/><circle cx="1283.5" cy="267.2" r="2.9"/><circle cx="1293.6" cy="264.0" r="2.9"/><circle cx="1299.9" cy="290.6" r="2.9"/><circle cx="1277.2" cy="234.9" r="2.9"/><circle cx="1284.6" cy="238.4" r="2.9"/><circle cx="1284.4" cy="133.8" r="2.9"/><circle cx="1239.5" cy="243.8" r="2.9"/><circle cx="1286.1" cy="198.5" r="2.9"/><circle cx="1285.9" cy="261.0" r="2.9"/><circle cx="1261.2" cy="243.0" r="2.9"/><circle cx="1284.0" cy="224.7" r="2.9"/><circle cx="1272.0" cy="249.0" r="2.9"/><circle cx="1278.5" cy="243.0" r="2.9"/><circle cx="1259.9" cy="203.6" r="2.9"/><circle cx="1253.7" cy="193.4" r="2.9"/><circle cx="1282.7" cy="288.3" r="2.9"/><circle cx="1249.8" cy="255.8" r="2.9"/><circle cx="1284.0" cy="233.1" r="2.9"/><circle cx="1263.8" cy="228.1" r="2.9"/><circle cx="1306.9" cy="287.9" r="2.9"/><circle cx="1296.2" cy="185.6" r="2.9"/><circle cx="1271.2" cy="251.0" r="2.9"/><circle cx="1251.1" cy="207.6" r="2.9"/><circle cx="1237.2" cy="244.1" r="2.9"/><circle cx="1253.2" cy="272.2" r="2.9"/><circle cx="1290.2" cy="222.0" r="2.9"/><circle cx="1264.4" cy="206.8" r="2.9"/><circle cx="1238.5" cy="204.9" r="2.9"/><circle cx="1293.7" cy="295.4" r="2.9"/><circle cx="1305.6" cy="259.6" r="2.9"/><circle cx="1294.7" cy="178.0" r="2.9"/><circle cx="1261.3" cy="286.0" r="2.9"/><circle cx="1270.2" cy="227.3" r="2.9"/><circle cx="1236.0" cy="202.0" r="2.9"/><circle cx="1291.5" cy="231.0" r="2.9"/><circle cx="1249.9" cy="251.3" r="2.9"/><circle cx="1267.4" cy="293.2" r="2.9"/><circle cx="1233.5" cy="232.4" r="2.9"/><circle cx="1261.7" cy="189.0" r="2.9"/><circle cx="1309.7" cy="272.9" r="2.9"/><circle cx="1272.8" cy="159.9" r="2.9"/><circle cx="1303.7" cy="261.4" r="2.9"/><circle cx="1235.7" cy="240.4" r="2.9"/><circle cx="1291.1" cy="148.7" r="2.9"/><circle cx="1255.6" cy="251.3" r="2.9"/><circle cx="1269.0" cy="192.0" r="2.9"/><circle cx="1277.7" cy="141.2" r="2.9"/><circle cx="1251.0" cy="236.1" r="2.9"/><circle cx="1227.3" cy="238.7" r="2.9"/><circle cx="1258.1" cy="222.4" r="2.9"/><circle cx="1271.3" cy="157.6" r="2.9"/><circle cx="1284.2" cy="280.2" r="2.9"/><circle cx="1271.9" cy="235.6" r="2.9"/><circle cx="1247.3" cy="277.4" r="2.9"/><circle cx="1288.5" cy="230.2" r="2.9"/><circle cx="1244.5" cy="204.3" r="2.9"/><circle cx="1261.9" cy="266.5" r="2.9"/><circle cx="1270.6" cy="199.8" r="2.9"/><circle cx="1231.5" cy="235.9" r="2.9"/><circle cx="1270.2" cy="275.2" r="2.9"/><circle cx="1292.1" cy="282.0" r="2.9"/><circle cx="1232.0" cy="209.6" r="2.9"/><circle cx="1309.2" cy="248.0" r="2.9"/><circle cx="1262.9" cy="217.2" r="2.9"/><circle cx="1283.0" cy="246.5" r="2.9"/><circle cx="1235.3" cy="257.0" r="2.9"/><circle cx="1259.8" cy="271.9" r="2.9"/><circle cx="1256.4" cy="287.8" r="2.9"/><circle cx="1293.4" cy="279.6" r="2.9"/><circle cx="1291.3" cy="232.9" r="2.9"/><circle cx="1244.3" cy="208.8" r="2.9"/><circle cx="1295.0" cy="282.7" r="2.9"/><circle cx="1278.0" cy="222.0" r="2.9"/><circle cx="1264.3" cy="269.7" r="2.9"/><circle cx="1269.4" cy="222.0" r="2.9"/><circle cx="1291.7" cy="183.9" r="2.9"/><circle cx="1232.8" cy="230.8" r="2.9"/><circle cx="1283.9" cy="219.8" r="2.9"/><circle cx="1304.7" cy="276.9" r="2.9"/><circle cx="1260.1" cy="259.8" r="2.9"/><circle cx="1275.5" cy="196.2" r="2.9"/><circle cx="1263.8" cy="264.0" r="2.9"/><circle cx="1283.1" cy="292.9" r="2.9"/><circle cx="1295.8" cy="157.8" r="2.9"/><circle cx="1270.6" cy="271.8" r="2.9"/><circle cx="1245.3" cy="216.6" r="2.9"/><circle cx="1293.5" cy="192.0" r="2.9"/><circle cx="1243.4" cy="271.4" r="2.9"/><circle cx="1286.0" cy="220.7" r="2.9"/><circle cx="1309.4" cy="279.8" r="2.9"/><circle cx="1291.8" cy="298.5" r="2.9"/><circle cx="1241.4" cy="198.4" r="2.9"/><circle cx="1234.8" cy="261.6" r="2.9"/><circle cx="1251.5" cy="227.4" r="2.9"/><circle cx="1262.2" cy="224.9" r="2.9"/><circle cx="1297.9" cy="235.6" r="2.9"/><circle cx="1245.7" cy="275.1" r="2.9"/><circle cx="1266.8" cy="243.8" r="2.9"/><circle cx="1267.0" cy="191.0" r="2.9"/><circle cx="1279.4" cy="275.0" r="2.9"/><circle cx="1278.1" cy="284.5" r="2.9"/><circle cx="1275.8" cy="268.9" r="2.9"/><circle cx="1269.7" cy="285.3" r="2.9"/><circle cx="1266.1" cy="212.2" r="2.9"/><circle cx="1237.2" cy="232.5" r="2.9"/><circle cx="1237.6" cy="199.1" r="2.9"/><circle cx="1296.0" cy="222.4" r="2.9"/><circle cx="1279.9" cy="245.6" r="2.9"/><circle cx="1284.3" cy="265.0" r="2.9"/><circle cx="1239.5" cy="211.8" r="2.9"/><circle cx="1257.0" cy="280.2" r="2.9"/><circle cx="1263.0" cy="243.8" r="2.9"/><circle cx="1276.5" cy="274.3" r="2.9"/><circle cx="1255.9" cy="261.4" r="2.9"/><circle cx="1281.7" cy="264.6" r="2.9"/><circle cx="1284.3" cy="186.5" r="2.9"/><circle cx="1291.6" cy="147.6" r="2.9"/><circle cx="1248.4" cy="211.7" r="2.9"/><circle cx="1272.6" cy="259.3" r="2.9"/><circle cx="1279.4" cy="188.6" r="2.9"/><circle cx="1273.9" cy="282.4" r="2.9"/><circle cx="1278.3" cy="268.9" r="2.9"/><circle cx="1309.8" cy="256.7" r="2.9"/><circle cx="1299.0" cy="244.2" r="2.9"/><circle cx="1256.6" cy="204.1" r="2.9"/><circle cx="1274.8" cy="183.6" r="2.9"/><circle cx="1246.7" cy="261.6" r="2.9"/><circle cx="1278.0" cy="218.1" r="2.9"/><circle cx="1270.9" cy="277.9" r="2.9"/><circle cx="1263.2" cy="279.6" r="2.9"/><circle cx="1293.0" cy="284.5" r="2.9"/><circle cx="1279.9" cy="236.3" r="2.9"/><circle cx="1290.3" cy="284.5" r="2.9"/><circle cx="1271.7" cy="230.5" r="2.9"/><circle cx="1285.6" cy="304.0" r="2.9"/><circle cx="1240.9" cy="266.6" r="2.9"/><circle cx="1281.9" cy="259.8" r="2.9"/><circle cx="1237.9" cy="240.9" r="2.9"/><circle cx="1273.4" cy="214.7" r="2.9"/><circle cx="1227.7" cy="218.0" r="2.9"/><circle cx="1267.2" cy="270.3" r="2.9"/><circle cx="1264.3" cy="212.2" r="2.9"/><circle cx="1289.8" cy="204.2" r="2.9"/><circle cx="1263.5" cy="286.0" r="2.9"/><circle cx="1294.7" cy="255.7" r="2.9"/><circle cx="1237.3" cy="195.8" r="2.9"/><circle cx="1285.0" cy="254.4" r="2.9"/><circle cx="1307.6" cy="266.3" r="2.9"/><circle cx="1255.0" cy="233.0" r="2.9"/><circle cx="1240.9" cy="209.5" r="2.9"/><circle cx="1267.7" cy="193.3" r="2.9"/><circle cx="1269.4" cy="269.2" r="2.9"/><circle cx="1307.1" cy="276.9" r="2.9"/><circle cx="1247.9" cy="222.6" r="2.9"/><circle cx="1289.7" cy="276.6" r="2.9"/><circle cx="1255.5" cy="277.6" r="2.9"/><circle cx="1309.0" cy="284.4" r="2.9"/><circle cx="1295.2" cy="230.3" r="2.9"/><circle cx="1258.1" cy="217.0" r="2.9"/><circle cx="1280.7" cy="266.7" r="2.9"/><circle cx="1263.4" cy="289.8" r="2.9"/><circle cx="1259.9" cy="234.8" r="2.9"/><circle cx="1258.0" cy="274.3" r="2.9"/><circle cx="1288.6" cy="293.3" r="2.9"/><circle cx="1271.8" cy="204.4" r="2.9"/><circle cx="1293.9" cy="259.3" r="2.9"/><circle cx="1233.3" cy="206.4" r="2.9"/><circle cx="1266.3" cy="279.5" r="2.9"/><circle cx="1273.7" cy="271.4" r="2.9"/><circle cx="1292.5" cy="199.3" r="2.9"/><circle cx="1294.4" cy="154.5" r="2.9"/><circle cx="1285.9" cy="225.9" r="2.9"/><circle cx="1270.1" cy="279.7" r="2.9"/><circle cx="1295.2" cy="183.6" r="2.9"/><circle cx="1284.1" cy="222.3" r="2.9"/><circle cx="1266.0" cy="230.7" r="2.9"/><circle cx="1285.6" cy="230.4" r="2.9"/><circle cx="1289.9" cy="202.4" r="2.9"/><circle cx="1273.1" cy="212.4" r="2.9"/><circle cx="1273.0" cy="232.5" r="2.9"/><circle cx="1299.0" cy="272.5" r="2.9"/><circle cx="1271.4" cy="188.9" r="2.9"/><circle cx="1242.9" cy="264.4" r="2.9"/><circle cx="1259.9" cy="282.8" r="2.9"/><circle cx="1246.4" cy="245.4" r="2.9"/><circle cx="1244.3" cy="220.7" r="2.9"/><circle cx="1296.6" cy="254.3" r="2.9"/><circle cx="1271.5" cy="281.9" r="2.9"/><circle cx="1272.0" cy="300.3" r="2.9"/><circle cx="1294.4" cy="233.7" r="2.9"/><circle cx="1271.6" cy="219.5" r="2.9"/><circle cx="1254.9" cy="222.0" r="2.9"/><circle cx="1289.0" cy="267.2" r="2.9"/><circle cx="1282.0" cy="144.4" r="2.9"/><circle cx="1262.3" cy="198.5" r="2.9"/><circle cx="1277.7" cy="183.3" r="2.9"/><circle cx="1235.9" cy="217.6" r="2.9"/><circle cx="1278.4" cy="259.7" r="2.9"/><circle cx="1300.3" cy="263.8" r="2.9"/><circle cx="1242.0" cy="214.0" r="2.9"/><circle cx="1268.2" cy="251.3" r="2.9"/><circle cx="1252.9" cy="224.5" r="2.9"/><circle cx="1281.4" cy="269.2" r="2.9"/><circle cx="1303.3" cy="264.9" r="2.9"/><circle cx="1233.9" cy="253.7" r="2.9"/><circle cx="1240.1" cy="201.4" r="2.9"/><circle cx="1227.9" cy="212.0" r="2.9"/><circle cx="1276.6" cy="272.7" r="2.9"/><circle cx="1267.4" cy="262.5" r="2.9"/><circle cx="1249.0" cy="258.6" r="2.9"/><circle cx="1268.7" cy="256.7" r="2.9"/><circle cx="1290.4" cy="265.1" r="2.9"/><circle cx="1265.9" cy="245.3" r="2.9"/><circle cx="1276.7" cy="256.2" r="2.9"/><circle cx="1294.1" cy="175.3" r="2.9"/><circle cx="1279.2" cy="291.2" r="2.9"/><circle cx="1273.2" cy="180.5" r="2.9"/><circle cx="1292.7" cy="256.7" r="2.9"/><circle cx="1230.1" cy="232.7" r="2.9"/><circle cx="1248.8" cy="279.3" r="2.9"/><circle cx="1242.6" cy="238.4" r="2.9"/><circle cx="1268.8" cy="229.8" r="2.9"/><circle cx="1284.7" cy="217.5" r="2.9"/><circle cx="1314.0" cy="258.6" r="2.9"/><circle cx="1273.8" cy="267.4" r="2.9"/><circle cx="1293.8" cy="248.7" r="2.9"/><circle cx="1287.8" cy="243.5" r="2.9"/><circle cx="1242.1" cy="196.1" r="2.9"/><circle cx="1289.0" cy="136.4" r="2.9"/><circle cx="1250.3" cy="241.0" r="2.9"/><circle cx="1250.9" cy="283.3" r="2.9"/><circle cx="1251.1" cy="191.9" r="2.9"/><circle cx="1265.2" cy="241.2" r="2.9"/><circle cx="1279.8" cy="256.3" r="2.9"/><circle cx="1227.0" cy="240.7" r="2.9"/><circle cx="1295.1" cy="262.0" r="2.9"/><circle cx="1238.2" cy="231.1" r="2.9"/><circle cx="1278.4" cy="211.8" r="2.9"/><circle cx="1312.9" cy="250.5" r="2.9"/><circle cx="1247.5" cy="224.9" r="2.9"/><circle cx="1277.6" cy="251.8" r="2.9"/><circle cx="1308.3" cy="244.2" r="2.9"/><circle cx="1287.6" cy="280.5" r="2.9"/><circle cx="1286.5" cy="131.5" r="2.9"/><circle cx="1258.9" cy="288.2" r="2.9"/><circle cx="1293.3" cy="206.7" r="2.9"/><circle cx="1243.6" cy="199.8" r="2.9"/><circle cx="1293.3" cy="223.2" r="2.9"/><circle cx="1283.7" cy="177.7" r="2.9"/><circle cx="1262.8" cy="241.5" r="2.9"/><circle cx="1297.4" cy="256.8" r="2.9"/><circle cx="1304.6" cy="283.4" r="2.9"/><circle cx="1232.7" cy="246.8" r="2.9"/><circle cx="1278.1" cy="196.5" r="2.9"/><circle cx="1234.1" cy="191.5" r="2.9"/><circle cx="1243.3" cy="191.6" r="2.9"/><circle cx="1294.2" cy="196.2" r="2.9"/><circle cx="1251.7" cy="269.9" r="2.9"/><circle cx="1272.0" cy="274.5" r="2.9"/><circle cx="1274.6" cy="146.3" r="2.9"/><circle cx="1285.4" cy="292.4" r="2.9"/><circle cx="1279.3" cy="233.2" r="2.9"/><circle cx="1288.4" cy="144.7" r="2.9"/><circle cx="1268.2" cy="278.0" r="2.9"/><circle cx="1281.5" cy="191.6" r="2.9"/><circle cx="1296.0" cy="227.4" r="2.9"/><circle cx="1255.5" cy="189.0" r="2.9"/><circle cx="1231.5" cy="196.5" r="2.9"/><circle cx="1286.9" cy="146.8" r="2.9"/><circle cx="1292.6" cy="178.4" r="2.9"/><circle cx="1294.3" cy="227.1" r="2.9"/><circle cx="1258.7" cy="209.6" r="2.9"/><circle cx="1266.4" cy="258.9" r="2.9"/><circle cx="1259.6" cy="257.0" r="2.9"/><circle cx="1243.5" cy="233.5" r="2.9"/><circle cx="1289.9" cy="298.3" r="2.9"/><circle cx="1297.1" cy="212.4" r="2.9"/><circle cx="1301.6" cy="278.0" r="2.9"/><circle cx="1238.6" cy="246.0" r="2.9"/><circle cx="1271.7" cy="193.9" r="2.9"/><circle cx="1266.4" cy="186.4" r="2.9"/><circle cx="1275.0" cy="287.2" r="2.9"/><circle cx="1307.5" cy="241.2" r="2.9"/><circle cx="1248.1" cy="274.7" r="2.9"/><circle cx="1287.9" cy="159.6" r="2.9"/><circle cx="1293.8" cy="202.1" r="2.9"/><circle cx="1309.9" cy="277.2" r="2.9"/><circle cx="1268.6" cy="287.1" r="2.9"/><circle cx="1247.5" cy="199.3" r="2.9"/><circle cx="1278.4" cy="139.0" r="2.9"/><circle cx="1310.1" cy="251.5" r="2.9"/><circle cx="1307.5" cy="251.7" r="2.9"/><circle cx="1307.4" cy="271.8" r="2.9"/><circle cx="1266.0" cy="277.0" r="2.9"/><circle cx="1234.2" cy="218.0" r="2.9"/><circle cx="1255.9" cy="257.3" r="2.9"/><circle cx="1264.2" cy="238.3" r="2.9"/><circle cx="1313.3" cy="261.9" r="2.9"/><circle cx="1251.6" cy="280.3" r="2.9"/><circle cx="1260.7" cy="206.3" r="2.9"/><circle cx="1261.8" cy="167.1" r="2.9"/><circle cx="1256.7" cy="176.5" r="2.9"/><circle cx="1263.9" cy="163.0" r="2.9"/></g>
<g fill="#82bcc6"><circle cx="1221.9" cy="190.9" r="2.9"/><circle cx="1214.2" cy="215.3" r="2.9"/><circle cx="1225.5" cy="188.0" r="2.9"/><circle cx="1224.7" cy="191.9" r="2.9"/><circle cx="1229.3" cy="189.4" r="2.9"/><circle cx="1220.9" cy="246.0" r="2.9"/><circle cx="1217.2" cy="230.1" r="2.9"/><circle cx="1213.0" cy="217.2" r="2.9"/><circle cx="1218.0" cy="207.4" r="2.9"/><circle cx="1225.1" cy="237.9" r="2.9"/><circle cx="1214.3" cy="236.1" r="2.9"/><circle cx="1217.0" cy="204.4" r="2.9"/><circle cx="1221.3" cy="244.0" r="2.9"/><circle cx="1220.6" cy="225.7" r="2.9"/><circle cx="1221.9" cy="223.2" r="2.9"/><circle cx="1217.5" cy="199.7" r="2.9"/><circle cx="1219.2" cy="191.7" r="2.9"/></g>
<g fill="#e4b42c"><circle cx="1215.6" cy="191.3" r="2.9"/><circle cx="1224.0" cy="211.4" r="2.9"/><circle cx="1220.9" cy="188.0" r="2.9"/><circle cx="1219.6" cy="235.5" r="2.9"/><circle cx="1218.9" cy="223.3" r="2.9"/><circle cx="1221.0" cy="219.9" r="2.9"/><circle cx="1222.8" cy="204.2" r="2.9"/><circle cx="1252.0" cy="186.1" r="2.9"/><circle cx="1218.5" cy="232.9" r="2.9"/><circle cx="1222.7" cy="199.4" r="2.9"/><circle cx="1214.0" cy="219.7" r="2.9"/><circle cx="1219.4" cy="202.3" r="2.9"/><circle cx="1214.9" cy="194.1" r="2.9"/><circle cx="1242.9" cy="185.8" r="2.9"/><circle cx="1210.5" cy="211.8" r="2.9"/><circle cx="1219.5" cy="243.3" r="2.9"/><circle cx="1216.1" cy="211.8" r="2.9"/><circle cx="1219.5" cy="215.0" r="2.9"/><circle cx="1223.7" cy="229.9" r="2.9"/><circle cx="1225.4" cy="199.3" r="2.9"/><circle cx="1220.1" cy="203.9" r="2.9"/><circle cx="1220.1" cy="240.3" r="2.9"/><circle cx="1212.2" cy="201.8" r="2.9"/><circle cx="1213.7" cy="225.4" r="2.9"/><circle cx="1261.4" cy="186.4" r="2.9"/><circle cx="1221.3" cy="238.5" r="2.9"/><circle cx="1217.4" cy="209.6" r="2.9"/><circle cx="1212.7" cy="222.2" r="2.9"/><circle cx="1214.2" cy="209.1" r="2.9"/><circle cx="1222.0" cy="227.6" r="2.9"/><circle cx="1221.1" cy="196.4" r="2.9"/><circle cx="1225.4" cy="225.1" r="2.9"/><circle cx="1212.4" cy="228.2" r="2.9"/><circle cx="1216.2" cy="243.4" r="2.9"/><circle cx="1221.9" cy="201.0" r="2.9"/><circle cx="1216.4" cy="207.0" r="2.9"/><circle cx="1214.0" cy="198.9" r="2.9"/><circle cx="1228.8" cy="183.8" r="2.9"/><circle cx="1223.7" cy="193.8" r="2.9"/><circle cx="1225.3" cy="195.8" r="2.9"/><circle cx="1210.9" cy="214.9" r="2.9"/><circle cx="1223.4" cy="225.7" r="2.9"/><circle cx="1214.8" cy="204.1" r="2.9"/><circle cx="1222.1" cy="211.9" r="2.9"/><circle cx="1215.3" cy="233.0" r="2.9"/><circle cx="1218.0" cy="227.0" r="2.9"/><circle cx="1216.4" cy="238.4" r="2.9"/><circle cx="1231.4" cy="186.3" r="2.9"/><circle cx="1216.7" cy="214.3" r="2.9"/><circle cx="1227.8" cy="190.6" r="2.9"/><circle cx="1217.9" cy="235.6" r="2.9"/><circle cx="1218.9" cy="197.2" r="2.9"/><circle cx="1211.4" cy="203.8" r="2.9"/><circle cx="1218.3" cy="239.0" r="2.9"/><circle cx="1210.7" cy="209.8" r="2.9"/><circle cx="1225.2" cy="218.1" r="2.9"/><circle cx="1212.0" cy="207.2" r="2.9"/><circle cx="1215.5" cy="217.3" r="2.9"/><circle cx="1225.4" cy="235.6" r="2.9"/><circle cx="1228.4" cy="196.2" r="2.9"/><circle cx="1218.2" cy="212.8" r="2.9"/><circle cx="1226.8" cy="209.5" r="2.9"/><circle cx="1224.3" cy="233.1" r="2.9"/><circle cx="1218.4" cy="217.9" r="2.9"/><circle cx="1216.9" cy="224.7" r="2.9"/><circle cx="1220.2" cy="209.5" r="2.9"/><circle cx="1222.5" cy="217.7" r="2.9"/><circle cx="1223.2" cy="220.5" r="2.9"/><circle cx="1221.5" cy="232.3" r="2.9"/></g>
<g fill="#cdc574"><circle cx="1223.6" cy="189.0" r="2.9"/><circle cx="1220.0" cy="193.9" r="2.9"/><circle cx="1227.3" cy="186.8" r="2.9"/><circle cx="1244.4" cy="188.6" r="2.9"/><circle cx="1226.4" cy="204.1" r="2.9"/><circle cx="1241.3" cy="187.9" r="2.9"/><circle cx="1231.0" cy="191.0" r="2.9"/><circle cx="1215.9" cy="201.9" r="2.9"/><circle cx="1222.6" cy="240.3" r="2.9"/><circle cx="1239.7" cy="185.6" r="2.9"/><circle cx="1237.9" cy="189.1" r="2.9"/><circle cx="1239.6" cy="190.8" r="2.9"/><circle cx="1213.4" cy="231.1" r="2.9"/><circle cx="1224.9" cy="185.8" r="2.9"/></g>
<g fill="#eec53c"><circle cx="1220.7" cy="230.1" r="2.9"/><circle cx="1225.6" cy="215.5" r="2.9"/><circle cx="1217.9" cy="193.3" r="2.9"/><circle cx="1217.3" cy="220.4" r="2.9"/><circle cx="1225.9" cy="219.5" r="2.9"/><circle cx="1216.3" cy="227.8" r="2.9"/><circle cx="1229.2" cy="193.4" r="2.9"/><circle cx="1223.4" cy="209.5" r="2.9"/><circle cx="1224.3" cy="201.0" r="2.9"/><circle cx="1217.4" cy="240.8" r="2.9"/><circle cx="1225.2" cy="221.9" r="2.9"/><circle cx="1211.0" cy="220.4" r="2.9"/><circle cx="1222.6" cy="214.1" r="2.9"/><circle cx="1212.3" cy="212.3" r="2.9"/><circle cx="1212.3" cy="233.1" r="2.9"/><circle cx="1210.4" cy="225.1" r="2.9"/><circle cx="1215.7" cy="195.9" r="2.9"/><circle cx="1211.5" cy="230.3" r="2.9"/><circle cx="1215.9" cy="221.8" r="2.9"/><circle cx="1225.5" cy="228.5" r="2.9"/><circle cx="1220.7" cy="199.5" r="2.9"/><circle cx="1221.7" cy="207.0" r="2.9"/><circle cx="1224.5" cy="207.0" r="2.9"/><circle cx="1226.7" cy="194.1" r="2.9"/><circle cx="1222.4" cy="235.4" r="2.9"/><circle cx="1226.2" cy="230.8" r="2.9"/></g>
<g fill="#e6842e"><circle cx="1249.5" cy="186.4" r="2.9"/><circle cx="1249.9" cy="188.7" r="2.9"/><circle cx="1231.8" cy="189.1" r="2.9"/><circle cx="1252.5" cy="188.4" r="2.9"/><circle cx="1232.9" cy="185.4" r="2.9"/></g>
<g fill="#eec53c"><circle cx="1263.1" cy="254.6" r="3.0"/><circle cx="1249.4" cy="232.6" r="3.0"/><circle cx="1300.9" cy="241.1" r="3.0"/><circle cx="1234.4" cy="202.2" r="3.0"/><circle cx="1267.1" cy="248.9" r="3.0"/><circle cx="1239.6" cy="222.0" r="3.0"/><circle cx="1248.5" cy="201.2" r="3.0"/><circle cx="1229.2" cy="214.1" r="3.0"/><circle cx="1246.9" cy="257.2" r="3.0"/><circle cx="1234.4" cy="212.6" r="3.0"/><circle cx="1261.6" cy="245.6" r="3.0"/><circle cx="1261.5" cy="254.6" r="3.0"/><circle cx="1265.5" cy="188.5" r="3.0"/><circle cx="1228.0" cy="222.8" r="3.0"/><circle cx="1259.7" cy="194.2" r="3.0"/><circle cx="1240.6" cy="255.9" r="3.0"/><circle cx="1235.9" cy="214.6" r="3.0"/><circle cx="1228.4" cy="227.1" r="3.0"/><circle cx="1288.9" cy="262.0" r="3.0"/><circle cx="1235.0" cy="209.4" r="3.0"/><circle cx="1235.7" cy="203.7" r="3.0"/><circle cx="1295.3" cy="193.4" r="3.0"/><circle cx="1229.3" cy="250.7" r="3.0"/><circle cx="1260.8" cy="211.7" r="3.0"/><circle cx="1258.4" cy="172.0" r="3.0"/></g>
<g fill="#82bcc6"><circle cx="1260.5" cy="195.9" r="3.0"/><circle cx="1299.5" cy="275.4" r="3.0"/><circle cx="1234.1" cy="196.0" r="3.0"/></g>
<g fill="#0ba2d0"><circle cx="1252.4" cy="263.9" r="3.0"/></g>
<line x1="1010.6" y1="112.5" x2="1010.6" y2="318.2" stroke="#231f20" stroke-width="2.2" stroke-linecap="butt"/>
<line x1="1009.5" y1="317.1" x2="1136.6" y2="317.1" stroke="#231f20" stroke-width="2.2" stroke-linecap="butt"/>
<line x1="1002.6" y1="154.2" x2="1010.6" y2="154.2" stroke="#231f20" stroke-width="1.6" stroke-linecap="butt"/>
<line x1="1002.6" y1="231.0" x2="1010.6" y2="231.0" stroke="#231f20" stroke-width="1.6" stroke-linecap="butt"/>
<line x1="1002.6" y1="307.7" x2="1010.6" y2="307.7" stroke="#231f20" stroke-width="1.6" stroke-linecap="butt"/>
<line x1="1016.0" y1="317.1" x2="1016.0" y2="325.1" stroke="#231f20" stroke-width="1.6" stroke-linecap="butt"/>
<line x1="1073.2" y1="317.1" x2="1073.2" y2="325.1" stroke="#231f20" stroke-width="1.6" stroke-linecap="butt"/>
<line x1="1129.9" y1="317.1" x2="1129.9" y2="325.1" stroke="#231f20" stroke-width="1.6" stroke-linecap="butt"/>
<line x1="1204.1" y1="111.9" x2="1204.1" y2="318.6" stroke="#231f20" stroke-width="2.2" stroke-linecap="butt"/>
<line x1="1203.0" y1="317.5" x2="1330.8" y2="317.5" stroke="#231f20" stroke-width="2.2" stroke-linecap="butt"/>
<line x1="1196.1" y1="154.8" x2="1204.1" y2="154.8" stroke="#231f20" stroke-width="1.6" stroke-linecap="butt"/>
<line x1="1196.1" y1="231.0" x2="1204.1" y2="231.0" stroke="#231f20" stroke-width="1.6" stroke-linecap="butt"/>
<line x1="1196.1" y1="308.0" x2="1204.1" y2="308.0" stroke="#231f20" stroke-width="1.6" stroke-linecap="butt"/>
<line x1="1210.2" y1="317.5" x2="1210.2" y2="325.5" stroke="#231f20" stroke-width="1.6" stroke-linecap="butt"/>
<line x1="1267.3" y1="317.5" x2="1267.3" y2="325.5" stroke="#231f20" stroke-width="1.6" stroke-linecap="butt"/>
<line x1="1324.3" y1="317.5" x2="1324.3" y2="325.5" stroke="#231f20" stroke-width="1.6" stroke-linecap="butt"/>
<text x="976.97" y="167.80" font-size="25.30" fill="#231f20">5</text>
<text x="976.91" y="242.20" font-size="25.30" fill="#231f20">0</text>
<text x="968.56" y="317.80" font-size="25.30" fill="#231f20">-5</text>
<text x="997.26" y="353.00" font-size="25.30" fill="#231f20">-6</text>
<text x="1062.49" y="353.00" font-size="25.30" fill="#231f20">0</text>
<text x="1120.13" y="353.00" font-size="25.30" fill="#231f20">6</text>
<text x="1192.16" y="353.20" font-size="25.30" fill="#231f20">-6</text>
<text x="1258.59" y="353.20" font-size="25.30" fill="#231f20">0</text>
<text x="1315.73" y="353.20" font-size="25.30" fill="#231f20">6</text>
<text x="1127.38" y="395.60" font-size="24.75" fill="#231f20">UMAP 1</text>
<text x="0" y="0" transform="translate(954.00,285.38) rotate(-90)" font-size="25.60" fill="#231f20">UMAP 2</text>
<defs><linearGradient id="gC" x1="0" y1="1" x2="0" y2="0"><stop offset="0" stop-color="#d2d2e0"/><stop offset="0.35" stop-color="#ada3d6"/><stop offset="0.7" stop-color="#7e6cc0"/><stop offset="0.9" stop-color="#5a48aa"/><stop offset="1" stop-color="#353d98"/></linearGradient></defs>
<rect x="1130.8" y="150.5" width="6.8" height="68.2" fill="url(#gC)"/>
<line x1="1135.1" y1="155.0" x2="1137.6" y2="155.0" stroke="#ffffff" stroke-width="1.2" stroke-linecap="butt"/>
<line x1="1130.8" y1="155.0" x2="1133.3" y2="155.0" stroke="#ffffff" stroke-width="1.2" stroke-linecap="butt"/>
<line x1="1135.1" y1="197.4" x2="1137.6" y2="197.4" stroke="#ffffff" stroke-width="1.2" stroke-linecap="butt"/>
<line x1="1130.8" y1="197.4" x2="1133.3" y2="197.4" stroke="#ffffff" stroke-width="1.2" stroke-linecap="butt"/>
<text x="1144.13" y="162.70" font-size="25.30" fill="#231f20">40</text>
<text x="1143.43" y="208.00" font-size="25.30" fill="#231f20">20</text>
<text x="2.84" y="459.20" font-size="31.00" fill="#231f20">D</text>
<text x="126.01" y="453.70" font-size="25.30" fill="#231f20">New UMI (%)</text>
<text x="359.66" y="451.40" font-size="25.35" fill="#231f20">Stage</text>
<g fill="#d890b8"><circle cx="162.7" cy="605.1" r="2.6"/><circle cx="170.2" cy="560.4" r="2.6"/><circle cx="155.4" cy="607.7" r="2.6"/><circle cx="168.2" cy="622.5" r="2.6"/><circle cx="152.6" cy="616.5" r="2.6"/><circle cx="155.3" cy="578.0" r="2.6"/><circle cx="178.9" cy="573.5" r="2.6"/><circle cx="156.1" cy="603.4" r="2.6"/><circle cx="153.4" cy="648.1" r="2.6"/><circle cx="147.3" cy="604.3" r="2.6"/><circle cx="148.6" cy="654.2" r="2.6"/><circle cx="173.2" cy="595.0" r="2.6"/><circle cx="154.9" cy="564.1" r="2.6"/><circle cx="180.6" cy="615.2" r="2.6"/><circle cx="150.3" cy="610.7" r="2.6"/><circle cx="142.5" cy="618.0" r="2.6"/><circle cx="169.1" cy="597.7" r="2.6"/><circle cx="147.0" cy="559.1" r="2.6"/><circle cx="133.6" cy="643.8" r="2.6"/><circle cx="168.3" cy="585.6" r="2.6"/><circle cx="145.6" cy="615.0" r="2.6"/><circle cx="154.9" cy="633.0" r="2.6"/><circle cx="127.4" cy="613.4" r="2.6"/><circle cx="167.5" cy="563.9" r="2.6"/><circle cx="162.1" cy="617.3" r="2.6"/><circle cx="177.8" cy="560.2" r="2.6"/><circle cx="143.1" cy="644.6" r="2.6"/><circle cx="160.6" cy="622.0" r="2.6"/><circle cx="183.5" cy="603.8" r="2.6"/><circle cx="183.9" cy="587.4" r="2.6"/><circle cx="157.6" cy="625.1" r="2.6"/><circle cx="148.7" cy="635.4" r="2.6"/><circle cx="161.8" cy="626.8" r="2.6"/><circle cx="132.2" cy="576.0" r="2.6"/><circle cx="151.7" cy="575.3" r="2.6"/><circle cx="147.9" cy="592.3" r="2.6"/><circle cx="177.9" cy="564.8" r="2.6"/><circle cx="141.5" cy="593.4" r="2.6"/><circle cx="144.3" cy="581.9" r="2.6"/><circle cx="133.1" cy="566.3" r="2.6"/><circle cx="159.6" cy="579.8" r="2.6"/><circle cx="157.2" cy="617.3" r="2.6"/><circle cx="152.9" cy="627.6" r="2.6"/><circle cx="177.1" cy="583.7" r="2.6"/><circle cx="146.8" cy="566.8" r="2.6"/><circle cx="166.1" cy="589.9" r="2.6"/><circle cx="164.1" cy="597.7" r="2.6"/><circle cx="171.0" cy="581.2" r="2.6"/></g>
<g fill="#d088b8"><circle cx="174.7" cy="576.6" r="2.6"/><circle cx="164.2" cy="577.9" r="2.6"/><circle cx="144.5" cy="597.2" r="2.6"/><circle cx="159.6" cy="588.0" r="2.6"/><circle cx="145.4" cy="571.7" r="2.6"/><circle cx="158.2" cy="629.4" r="2.6"/><circle cx="137.9" cy="596.7" r="2.6"/><circle cx="137.8" cy="588.5" r="2.6"/><circle cx="141.9" cy="612.6" r="2.6"/><circle cx="166.1" cy="569.4" r="2.6"/><circle cx="178.8" cy="625.3" r="2.6"/><circle cx="157.3" cy="583.6" r="2.6"/><circle cx="189.4" cy="602.9" r="2.6"/><circle cx="151.3" cy="644.2" r="2.6"/><circle cx="152.8" cy="652.6" r="2.6"/><circle cx="143.5" cy="563.8" r="2.6"/><circle cx="178.2" cy="589.3" r="2.6"/><circle cx="148.4" cy="587.7" r="2.6"/><circle cx="146.7" cy="640.5" r="2.6"/><circle cx="136.9" cy="628.3" r="2.6"/><circle cx="155.0" cy="557.1" r="2.6"/><circle cx="168.6" cy="575.0" r="2.6"/><circle cx="162.5" cy="583.5" r="2.6"/><circle cx="182.5" cy="608.7" r="2.6"/><circle cx="139.5" cy="606.2" r="2.6"/><circle cx="175.3" cy="570.3" r="2.6"/><circle cx="151.3" cy="639.7" r="2.6"/><circle cx="158.3" cy="560.4" r="2.6"/><circle cx="162.6" cy="637.7" r="2.6"/><circle cx="143.5" cy="637.5" r="2.6"/><circle cx="131.9" cy="591.9" r="2.6"/><circle cx="141.6" cy="575.2" r="2.6"/><circle cx="156.2" cy="573.3" r="2.6"/><circle cx="139.1" cy="650.4" r="2.6"/><circle cx="173.3" cy="608.8" r="2.6"/><circle cx="149.0" cy="599.7" r="2.6"/><circle cx="134.8" cy="570.7" r="2.6"/><circle cx="140.5" cy="658.6" r="2.6"/><circle cx="160.6" cy="600.6" r="2.6"/><circle cx="170.0" cy="591.8" r="2.6"/></g>
<g fill="#f0d068"><circle cx="198.6" cy="584.5" r="2.6"/><circle cx="194.1" cy="583.9" r="2.6"/></g>
<g fill="#e098b0"><circle cx="183.6" cy="564.1" r="2.6"/><circle cx="162.7" cy="563.2" r="2.6"/><circle cx="173.4" cy="588.7" r="2.6"/><circle cx="145.6" cy="621.0" r="2.6"/><circle cx="133.4" cy="614.3" r="2.6"/><circle cx="151.8" cy="604.7" r="2.6"/><circle cx="163.6" cy="558.2" r="2.6"/><circle cx="131.6" cy="638.7" r="2.6"/></g>
<g fill="#f0c080"><circle cx="217.7" cy="510.1" r="2.6"/><circle cx="155.3" cy="652.2" r="2.6"/><circle cx="184.1" cy="558.7" r="2.6"/><circle cx="205.0" cy="547.8" r="2.6"/><circle cx="196.8" cy="548.7" r="2.6"/><circle cx="184.4" cy="573.8" r="2.6"/><circle cx="187.6" cy="593.8" r="2.6"/><circle cx="219.4" cy="527.8" r="2.6"/><circle cx="131.3" cy="621.8" r="2.6"/><circle cx="227.2" cy="534.8" r="2.6"/><circle cx="191.4" cy="559.6" r="2.6"/><circle cx="170.3" cy="570.9" r="2.6"/><circle cx="186.6" cy="560.9" r="2.6"/><circle cx="228.5" cy="513.5" r="2.6"/></g>
<g fill="#d080c0"><circle cx="140.6" cy="640.8" r="2.6"/><circle cx="160.7" cy="609.0" r="2.6"/><circle cx="173.8" cy="625.9" r="2.6"/><circle cx="131.7" cy="587.1" r="2.6"/><circle cx="155.6" cy="590.5" r="2.6"/><circle cx="144.9" cy="658.8" r="2.6"/><circle cx="131.9" cy="596.5" r="2.6"/></g>
<g fill="#e0a8a0"><circle cx="181.4" cy="582.5" r="2.6"/><circle cx="148.9" cy="648.8" r="2.6"/><circle cx="177.2" cy="597.8" r="2.6"/><circle cx="155.8" cy="638.7" r="2.6"/><circle cx="177.5" cy="605.6" r="2.6"/><circle cx="136.5" cy="601.6" r="2.6"/><circle cx="128.6" cy="618.3" r="2.6"/><circle cx="220.3" cy="522.4" r="2.6"/><circle cx="222.7" cy="511.3" r="2.6"/><circle cx="182.5" cy="559.2" r="2.6"/><circle cx="153.6" cy="622.7" r="2.6"/><circle cx="229.6" cy="503.3" r="2.6"/><circle cx="179.9" cy="578.1" r="2.6"/><circle cx="174.1" cy="601.0" r="2.6"/><circle cx="231.8" cy="508.3" r="2.6"/><circle cx="170.2" cy="614.6" r="2.6"/><circle cx="130.9" cy="628.3" r="2.6"/><circle cx="182.2" cy="621.0" r="2.6"/></g>
<g fill="#c070b8"><circle cx="156.5" cy="598.9" r="2.6"/></g>
<g fill="#f0d850"><circle cx="197.1" cy="593.6" r="2.6"/><circle cx="214.8" cy="530.8" r="2.6"/><circle cx="208.5" cy="547.2" r="2.6"/><circle cx="212.9" cy="526.0" r="2.6"/><circle cx="195.8" cy="600.9" r="2.6"/><circle cx="210.9" cy="553.3" r="2.6"/></g>
<g fill="#e0a0a8"><circle cx="235.1" cy="511.3" r="2.6"/><circle cx="135.2" cy="607.2" r="2.6"/><circle cx="143.9" cy="601.6" r="2.6"/><circle cx="159.6" cy="641.0" r="2.6"/><circle cx="163.7" cy="612.6" r="2.6"/><circle cx="209.2" cy="541.5" r="2.6"/></g>
<g fill="#e8b090"><circle cx="136.1" cy="640.1" r="2.6"/><circle cx="230.7" cy="526.4" r="2.6"/><circle cx="212.0" cy="521.2" r="2.6"/><circle cx="189.9" cy="614.0" r="2.6"/><circle cx="221.0" cy="542.6" r="2.6"/><circle cx="198.8" cy="565.8" r="2.6"/><circle cx="185.7" cy="612.0" r="2.6"/><circle cx="216.7" cy="519.1" r="2.6"/></g>
<g fill="#e8b888"><circle cx="218.1" cy="539.1" r="2.6"/><circle cx="192.7" cy="558.9" r="2.6"/><circle cx="225.5" cy="520.8" r="2.6"/><circle cx="138.6" cy="632.8" r="2.6"/><circle cx="189.2" cy="565.7" r="2.6"/><circle cx="233.9" cy="516.4" r="2.6"/><circle cx="154.8" cy="594.9" r="2.6"/><circle cx="201.6" cy="570.7" r="2.6"/><circle cx="221.8" cy="536.1" r="2.6"/></g>
<g fill="#e8a898"><circle cx="224.5" cy="525.6" r="2.6"/><circle cx="161.7" cy="592.6" r="2.6"/><circle cx="143.6" cy="607.7" r="2.6"/><circle cx="129.3" cy="600.6" r="2.6"/><circle cx="189.1" cy="574.2" r="2.6"/><circle cx="148.5" cy="629.0" r="2.6"/><circle cx="187.7" cy="598.6" r="2.6"/><circle cx="225.6" cy="530.4" r="2.6"/><circle cx="139.5" cy="565.4" r="2.6"/></g>
<g fill="#c878c0"><circle cx="144.5" cy="652.0" r="2.6"/><circle cx="168.1" cy="627.0" r="2.6"/><circle cx="182.3" cy="598.4" r="2.6"/><circle cx="166.1" cy="632.0" r="2.6"/><circle cx="174.7" cy="618.5" r="2.6"/><circle cx="140.7" cy="570.9" r="2.6"/></g>
<g fill="#e0a0b0"><circle cx="153.8" cy="586.0" r="2.6"/><circle cx="187.5" cy="583.5" r="2.6"/><circle cx="151.7" cy="567.9" r="2.6"/><circle cx="199.9" cy="574.9" r="2.6"/></g>
<g fill="#e8b890"><circle cx="156.7" cy="612.9" r="2.6"/><circle cx="210.0" cy="532.3" r="2.6"/><circle cx="158.5" cy="645.3" r="2.6"/><circle cx="225.1" cy="504.1" r="2.6"/><circle cx="230.1" cy="530.8" r="2.6"/><circle cx="233.6" cy="521.9" r="2.6"/><circle cx="214.3" cy="541.7" r="2.6"/><circle cx="213.2" cy="547.4" r="2.6"/><circle cx="218.8" cy="546.7" r="2.6"/></g>
<g fill="#e8a8a0"><circle cx="137.3" cy="618.8" r="2.6"/><circle cx="158.8" cy="566.9" r="2.6"/><circle cx="194.7" cy="563.1" r="2.6"/></g>
<g fill="#c870c0"><circle cx="133.8" cy="634.6" r="2.6"/></g>
<g fill="#d888b8"><circle cx="146.7" cy="577.7" r="2.6"/><circle cx="151.3" cy="560.3" r="2.6"/><circle cx="186.3" cy="616.4" r="2.6"/><circle cx="166.8" cy="618.1" r="2.6"/><circle cx="132.7" cy="580.5" r="2.6"/></g>
<g fill="#f0e040"><circle cx="197.2" cy="589.3" r="2.6"/><circle cx="193.4" cy="595.9" r="2.6"/><circle cx="192.9" cy="591.6" r="2.6"/></g>
<g fill="#f0d848"><circle cx="194.2" cy="606.4" r="2.6"/></g>
<g fill="#e8b098"><circle cx="219.0" cy="532.7" r="2.6"/><circle cx="137.5" cy="612.7" r="2.6"/><circle cx="224.3" cy="515.6" r="2.6"/><circle cx="225.1" cy="539.1" r="2.6"/><circle cx="219.0" cy="514.9" r="2.6"/><circle cx="149.6" cy="624.2" r="2.6"/><circle cx="186.2" cy="556.5" r="2.6"/></g>
<g fill="#c880c0"><circle cx="169.8" cy="605.7" r="2.6"/><circle cx="159.8" cy="633.6" r="2.6"/><circle cx="161.2" cy="574.1" r="2.6"/><circle cx="128.3" cy="608.5" r="2.6"/><circle cx="139.5" cy="584.4" r="2.6"/></g>
<g fill="#d898b8"><circle cx="144.0" cy="632.2" r="2.6"/><circle cx="136.5" cy="592.6" r="2.6"/><circle cx="172.7" cy="566.3" r="2.6"/><circle cx="131.8" cy="604.2" r="2.6"/><circle cx="150.8" cy="580.4" r="2.6"/><circle cx="179.8" cy="568.9" r="2.6"/><circle cx="180.4" cy="593.9" r="2.6"/><circle cx="142.7" cy="626.6" r="2.6"/><circle cx="176.1" cy="613.1" r="2.6"/><circle cx="138.0" cy="646.2" r="2.6"/></g>
<g fill="#f0c870"><circle cx="191.6" cy="570.5" r="2.6"/><circle cx="220.9" cy="506.4" r="2.6"/></g>
<g fill="#f0d858"><circle cx="190.1" cy="608.7" r="2.6"/></g>
<g fill="#f0b888"><circle cx="226.7" cy="508.4" r="2.6"/><circle cx="207.4" cy="537.1" r="2.6"/></g>
<g fill="#f0c878"><circle cx="229.8" cy="518.9" r="2.6"/><circle cx="197.0" cy="570.1" r="2.6"/><circle cx="185.0" cy="579.9" r="2.6"/></g>
<g fill="#e0a8a8"><circle cx="138.4" cy="579.0" r="2.6"/><circle cx="214.1" cy="536.2" r="2.6"/></g>
<g fill="#d080b8"><circle cx="170.7" cy="631.4" r="2.6"/><circle cx="166.7" cy="601.6" r="2.6"/><circle cx="165.7" cy="608.6" r="2.6"/><circle cx="138.4" cy="624.1" r="2.6"/></g>
<g fill="#f0e830"><circle cx="200.0" cy="580.1" r="2.6"/></g>
<g fill="#c068b8"><circle cx="144.0" cy="587.3" r="2.6"/></g>
<g fill="#f0c078"><circle cx="184.9" cy="568.8" r="2.6"/></g>
<g fill="#f0e048"><circle cx="191.1" cy="587.6" r="2.6"/><circle cx="193.0" cy="577.0" r="2.6"/></g>
<g fill="#e33c26"><circle cx="346.1" cy="610.7" r="3.2"/><circle cx="380.8" cy="579.9" r="3.2"/><circle cx="339.3" cy="563.8" r="3.2"/><circle cx="336.4" cy="640.8" r="3.2"/><circle cx="333.3" cy="612.7" r="3.2"/><circle cx="329.6" cy="634.6" r="3.2"/><circle cx="337.4" cy="575.2" r="3.2"/><circle cx="350.8" cy="557.1" r="3.2"/><circle cx="347.5" cy="567.9" r="3.2"/><circle cx="414.8" cy="532.7" r="3.2"/><circle cx="351.9" cy="603.4" r="3.2"/><circle cx="349.4" cy="622.7" r="3.2"/><circle cx="416.7" cy="506.4" r="3.2"/><circle cx="347.6" cy="604.7" r="3.2"/><circle cx="334.4" cy="632.8" r="3.2"/><circle cx="420.1" cy="515.6" r="3.2"/><circle cx="350.7" cy="633.0" r="3.2"/><circle cx="350.7" cy="564.1" r="3.2"/><circle cx="415.2" cy="527.8" r="3.2"/><circle cx="324.1" cy="608.5" r="3.2"/><circle cx="347.1" cy="560.3" r="3.2"/><circle cx="327.7" cy="596.5" r="3.2"/><circle cx="429.4" cy="521.9" r="3.2"/><circle cx="323.2" cy="613.4" r="3.2"/><circle cx="414.6" cy="546.7" r="3.2"/><circle cx="354.6" cy="566.9" r="3.2"/><circle cx="342.8" cy="559.1" r="3.2"/><circle cx="335.3" cy="565.4" r="3.2"/><circle cx="412.5" cy="519.1" r="3.2"/><circle cx="333.6" cy="588.5" r="3.2"/><circle cx="344.8" cy="599.7" r="3.2"/><circle cx="338.9" cy="644.6" r="3.2"/><circle cx="379.7" cy="587.4" r="3.2"/><circle cx="346.6" cy="580.4" r="3.2"/><circle cx="327.4" cy="638.7" r="3.2"/><circle cx="429.7" cy="516.4" r="3.2"/><circle cx="421.4" cy="530.4" r="3.2"/><circle cx="331.9" cy="640.1" r="3.2"/><circle cx="325.1" cy="600.6" r="3.2"/><circle cx="424.3" cy="513.5" r="3.2"/><circle cx="333.1" cy="618.8" r="3.2"/><circle cx="344.3" cy="629.0" r="3.2"/><circle cx="413.5" cy="510.1" r="3.2"/><circle cx="334.2" cy="624.1" r="3.2"/><circle cx="414.8" cy="514.9" r="3.2"/><circle cx="375.6" cy="568.9" r="3.2"/><circle cx="339.8" cy="632.2" r="3.2"/><circle cx="349.2" cy="648.1" r="3.2"/><circle cx="340.7" cy="658.8" r="3.2"/><circle cx="345.4" cy="624.2" r="3.2"/><circle cx="341.4" cy="615.0" r="3.2"/><circle cx="359.4" cy="558.2" r="3.2"/><circle cx="328.9" cy="566.3" r="3.2"/><circle cx="425.6" cy="518.9" r="3.2"/><circle cx="357.5" cy="592.6" r="3.2"/><circle cx="347.1" cy="644.2" r="3.2"/><circle cx="353.4" cy="625.1" r="3.2"/><circle cx="348.7" cy="627.6" r="3.2"/><circle cx="416.8" cy="542.6" r="3.2"/><circle cx="420.9" cy="504.1" r="3.2"/><circle cx="328.0" cy="576.0" r="3.2"/><circle cx="353.0" cy="617.3" r="3.2"/><circle cx="355.4" cy="579.8" r="3.2"/><circle cx="339.4" cy="607.7" r="3.2"/><circle cx="327.5" cy="587.1" r="3.2"/><circle cx="430.9" cy="511.3" r="3.2"/><circle cx="358.3" cy="583.5" r="3.2"/><circle cx="338.5" cy="626.6" r="3.2"/><circle cx="340.3" cy="597.2" r="3.2"/><circle cx="355.4" cy="588.0" r="3.2"/><circle cx="342.5" cy="640.5" r="3.2"/><circle cx="351.2" cy="607.7" r="3.2"/><circle cx="426.5" cy="526.4" r="3.2"/><circle cx="339.3" cy="637.5" r="3.2"/><circle cx="420.3" cy="525.6" r="3.2"/><circle cx="421.3" cy="520.8" r="3.2"/><circle cx="335.3" cy="584.4" r="3.2"/><circle cx="354.1" cy="560.4" r="3.2"/><circle cx="348.4" cy="616.5" r="3.2"/><circle cx="336.3" cy="658.6" r="3.2"/><circle cx="334.2" cy="579.0" r="3.2"/><circle cx="333.7" cy="596.7" r="3.2"/><circle cx="358.5" cy="563.2" r="3.2"/><circle cx="353.1" cy="583.6" r="3.2"/><circle cx="333.8" cy="646.2" r="3.2"/><circle cx="344.5" cy="635.4" r="3.2"/><circle cx="332.3" cy="592.6" r="3.2"/><circle cx="343.7" cy="592.3" r="3.2"/><circle cx="347.1" cy="639.7" r="3.2"/><circle cx="354.0" cy="629.4" r="3.2"/><circle cx="363.3" cy="563.9" r="3.2"/><circle cx="342.5" cy="577.7" r="3.2"/><circle cx="337.7" cy="612.6" r="3.2"/><circle cx="343.1" cy="604.3" r="3.2"/><circle cx="340.3" cy="652.0" r="3.2"/><circle cx="352.0" cy="573.3" r="3.2"/><circle cx="349.6" cy="586.0" r="3.2"/><circle cx="351.1" cy="578.0" r="3.2"/><circle cx="352.3" cy="598.9" r="3.2"/><circle cx="332.3" cy="601.6" r="3.2"/><circle cx="344.4" cy="654.2" r="3.2"/><circle cx="329.2" cy="614.3" r="3.2"/><circle cx="327.6" cy="604.2" r="3.2"/><circle cx="427.6" cy="508.3" r="3.2"/><circle cx="326.7" cy="628.3" r="3.2"/><circle cx="357.0" cy="574.1" r="3.2"/><circle cx="337.3" cy="593.4" r="3.2"/><circle cx="341.2" cy="571.7" r="3.2"/><circle cx="330.6" cy="570.7" r="3.2"/><circle cx="347.5" cy="575.3" r="3.2"/><circle cx="339.8" cy="587.3" r="3.2"/><circle cx="340.1" cy="581.9" r="3.2"/><circle cx="416.1" cy="522.4" r="3.2"/><circle cx="335.3" cy="606.2" r="3.2"/><circle cx="348.6" cy="652.6" r="3.2"/><circle cx="331.0" cy="607.2" r="3.2"/><circle cx="360.0" cy="577.9" r="3.2"/><circle cx="417.6" cy="536.1" r="3.2"/><circle cx="332.7" cy="628.3" r="3.2"/><circle cx="342.6" cy="566.8" r="3.2"/><circle cx="350.6" cy="594.9" r="3.2"/><circle cx="413.9" cy="539.1" r="3.2"/><circle cx="418.5" cy="511.3" r="3.2"/><circle cx="339.7" cy="601.6" r="3.2"/><circle cx="351.4" cy="590.5" r="3.2"/><circle cx="329.4" cy="643.8" r="3.2"/><circle cx="334.9" cy="650.4" r="3.2"/><circle cx="371.9" cy="613.1" r="3.2"/><circle cx="344.2" cy="587.7" r="3.2"/><circle cx="422.5" cy="508.4" r="3.2"/><circle cx="356.5" cy="609.0" r="3.2"/><circle cx="425.4" cy="503.3" r="3.2"/><circle cx="328.5" cy="580.5" r="3.2"/><circle cx="372.9" cy="583.7" r="3.2"/><circle cx="344.7" cy="648.8" r="3.2"/><circle cx="352.5" cy="612.9" r="3.2"/><circle cx="420.9" cy="539.1" r="3.2"/><circle cx="356.4" cy="600.6" r="3.2"/><circle cx="425.9" cy="530.8" r="3.2"/><circle cx="338.3" cy="618.0" r="3.2"/><circle cx="423.0" cy="534.8" r="3.2"/><circle cx="380.7" cy="568.8" r="3.2"/><circle cx="324.4" cy="618.3" r="3.2"/><circle cx="351.6" cy="638.7" r="3.2"/></g>
<g fill="#e4b42c"><circle cx="363.9" cy="627.0" r="3.2"/><circle cx="405.8" cy="532.3" r="3.2"/><circle cx="393.0" cy="589.3" r="3.2"/><circle cx="378.3" cy="559.2" r="3.2"/><circle cx="410.1" cy="541.7" r="3.2"/><circle cx="394.4" cy="584.5" r="3.2"/><circle cx="351.1" cy="652.2" r="3.2"/><circle cx="386.9" cy="587.6" r="3.2"/><circle cx="373.7" cy="564.8" r="3.2"/><circle cx="392.9" cy="593.6" r="3.2"/><circle cx="387.2" cy="559.6" r="3.2"/><circle cx="408.7" cy="526.0" r="3.2"/><circle cx="366.1" cy="570.9" r="3.2"/><circle cx="397.4" cy="570.7" r="3.2"/><circle cx="375.7" cy="578.1" r="3.2"/><circle cx="376.4" cy="615.2" r="3.2"/><circle cx="409.0" cy="547.4" r="3.2"/><circle cx="368.5" cy="566.3" r="3.2"/><circle cx="358.5" cy="605.1" r="3.2"/><circle cx="395.7" cy="574.9" r="3.2"/><circle cx="355.4" cy="641.0" r="3.2"/><circle cx="365.6" cy="605.7" r="3.2"/><circle cx="392.6" cy="548.7" r="3.2"/><circle cx="403.2" cy="537.1" r="3.2"/></g>
<g fill="#e6842e"><circle cx="410.6" cy="530.8" r="3.2"/><circle cx="364.0" cy="622.5" r="3.2"/><circle cx="374.0" cy="589.3" r="3.2"/><circle cx="385.9" cy="608.7" r="3.2"/><circle cx="327.1" cy="621.8" r="3.2"/><circle cx="371.1" cy="570.3" r="3.2"/><circle cx="381.5" cy="612.0" r="3.2"/><circle cx="389.9" cy="583.9" r="3.2"/><circle cx="379.3" cy="603.8" r="3.2"/><circle cx="369.0" cy="595.0" r="3.2"/><circle cx="327.7" cy="591.9" r="3.2"/><circle cx="388.8" cy="577.0" r="3.2"/><circle cx="369.6" cy="625.9" r="3.2"/><circle cx="406.7" cy="553.3" r="3.2"/><circle cx="376.2" cy="593.9" r="3.2"/><circle cx="394.6" cy="565.8" r="3.2"/><circle cx="385.0" cy="565.7" r="3.2"/><circle cx="382.0" cy="556.5" r="3.2"/><circle cx="407.8" cy="521.2" r="3.2"/><circle cx="358.4" cy="637.7" r="3.2"/><circle cx="361.9" cy="569.4" r="3.2"/><circle cx="395.8" cy="580.1" r="3.2"/><circle cx="355.6" cy="633.6" r="3.2"/><circle cx="336.5" cy="570.9" r="3.2"/><circle cx="366.5" cy="631.4" r="3.2"/><circle cx="364.1" cy="585.6" r="3.2"/><circle cx="390.5" cy="563.1" r="3.2"/><circle cx="361.9" cy="632.0" r="3.2"/><circle cx="409.9" cy="536.2" r="3.2"/><circle cx="383.3" cy="583.5" r="3.2"/><circle cx="361.5" cy="608.6" r="3.2"/><circle cx="374.6" cy="625.3" r="3.2"/><circle cx="382.4" cy="560.9" r="3.2"/><circle cx="366.8" cy="581.2" r="3.2"/><circle cx="356.4" cy="622.0" r="3.2"/><circle cx="341.4" cy="621.0" r="3.2"/><circle cx="364.9" cy="597.7" r="3.2"/><circle cx="357.6" cy="626.8" r="3.2"/><circle cx="365.8" cy="591.8" r="3.2"/><circle cx="362.6" cy="618.1" r="3.2"/><circle cx="379.9" cy="558.7" r="3.2"/><circle cx="370.5" cy="618.5" r="3.2"/><circle cx="369.2" cy="588.7" r="3.2"/><circle cx="390.0" cy="606.4" r="3.2"/><circle cx="388.7" cy="591.6" r="3.2"/><circle cx="377.2" cy="582.5" r="3.2"/><circle cx="385.7" cy="614.0" r="3.2"/><circle cx="364.4" cy="575.0" r="3.2"/><circle cx="362.5" cy="601.6" r="3.2"/><circle cx="380.2" cy="573.8" r="3.2"/><circle cx="357.9" cy="617.3" r="3.2"/><circle cx="378.1" cy="598.4" r="3.2"/><circle cx="389.2" cy="595.9" r="3.2"/><circle cx="392.8" cy="570.1" r="3.2"/><circle cx="361.9" cy="589.9" r="3.2"/><circle cx="359.9" cy="597.7" r="3.2"/><circle cx="369.9" cy="601.0" r="3.2"/><circle cx="369.1" cy="608.8" r="3.2"/><circle cx="373.6" cy="560.2" r="3.2"/><circle cx="374.7" cy="573.5" r="3.2"/><circle cx="383.4" cy="593.8" r="3.2"/><circle cx="373.0" cy="597.8" r="3.2"/><circle cx="366.0" cy="560.4" r="3.2"/><circle cx="384.9" cy="574.2" r="3.2"/><circle cx="385.2" cy="602.9" r="3.2"/><circle cx="387.4" cy="570.5" r="3.2"/><circle cx="366.0" cy="614.6" r="3.2"/><circle cx="379.4" cy="564.1" r="3.2"/><circle cx="370.5" cy="576.6" r="3.2"/><circle cx="373.3" cy="605.6" r="3.2"/><circle cx="383.5" cy="598.6" r="3.2"/><circle cx="400.8" cy="547.8" r="3.2"/><circle cx="378.3" cy="608.7" r="3.2"/><circle cx="378.0" cy="621.0" r="3.2"/><circle cx="354.3" cy="645.3" r="3.2"/><circle cx="405.0" cy="541.5" r="3.2"/><circle cx="404.3" cy="547.2" r="3.2"/><circle cx="382.1" cy="616.4" r="3.2"/><circle cx="388.5" cy="558.9" r="3.2"/><circle cx="359.5" cy="612.6" r="3.2"/></g>
<g fill="#eec53c"><circle cx="391.6" cy="600.9" r="3.2"/></g>
<line x1="421.1" y1="577.7" x2="440.5" y2="525.0" stroke="#8e8e8e" stroke-width="3" stroke-linecap="butt"/>
<polygon points="445.3,510.1 430.2,526.6 446.5,532.4" fill="#8e8e8e"/>
<line x1="410.0" y1="589.7" x2="360.0" y2="652.0" stroke="#8e8e8e" stroke-width="3" stroke-linecap="butt"/>
<polygon points="350.3,663.3 354.5,645.8 370.8,652.4" fill="#8e8e8e"/>
<line x1="118.8" y1="473.2" x2="118.8" y2="681.1" stroke="#231f20" stroke-width="2.2" stroke-linecap="butt"/>
<line x1="117.7" y1="680.0" x2="244.6" y2="680.0" stroke="#231f20" stroke-width="2.2" stroke-linecap="butt"/>
<line x1="110.8" y1="484.0" x2="118.8" y2="484.0" stroke="#231f20" stroke-width="1.6" stroke-linecap="butt"/>
<line x1="110.8" y1="537.1" x2="118.8" y2="537.1" stroke="#231f20" stroke-width="1.6" stroke-linecap="butt"/>
<line x1="110.8" y1="590.2" x2="118.8" y2="590.2" stroke="#231f20" stroke-width="1.6" stroke-linecap="butt"/>
<line x1="110.8" y1="643.3" x2="118.8" y2="643.3" stroke="#231f20" stroke-width="1.6" stroke-linecap="butt"/>
<line x1="124.6" y1="680.0" x2="124.6" y2="689.0" stroke="#231f20" stroke-width="1.6" stroke-linecap="butt"/>
<line x1="170.1" y1="680.0" x2="170.1" y2="689.0" stroke="#231f20" stroke-width="1.6" stroke-linecap="butt"/>
<line x1="215.2" y1="680.0" x2="215.2" y2="689.0" stroke="#231f20" stroke-width="1.6" stroke-linecap="butt"/>
<line x1="315.0" y1="475.0" x2="315.0" y2="681.1" stroke="#231f20" stroke-width="2.2" stroke-linecap="butt"/>
<line x1="313.9" y1="680.0" x2="440.2" y2="680.0" stroke="#231f20" stroke-width="2.2" stroke-linecap="butt"/>
<line x1="307.0" y1="484.7" x2="315.0" y2="484.7" stroke="#231f20" stroke-width="1.6" stroke-linecap="butt"/>
<line x1="307.0" y1="538.2" x2="315.0" y2="538.2" stroke="#231f20" stroke-width="1.6" stroke-linecap="butt"/>
<line x1="307.0" y1="591.2" x2="315.0" y2="591.2" stroke="#231f20" stroke-width="1.6" stroke-linecap="butt"/>
<line x1="307.0" y1="644.2" x2="315.0" y2="644.2" stroke="#231f20" stroke-width="1.6" stroke-linecap="butt"/>
<line x1="320.3" y1="680.0" x2="320.3" y2="690.0" stroke="#231f20" stroke-width="1.6" stroke-linecap="butt"/>
<line x1="365.6" y1="680.0" x2="365.6" y2="690.0" stroke="#231f20" stroke-width="1.6" stroke-linecap="butt"/>
<line x1="410.5" y1="680.0" x2="410.5" y2="690.0" stroke="#231f20" stroke-width="1.6" stroke-linecap="butt"/>
<text x="77.55" y="495.30" font-size="25.30" fill="#231f20">4</text>
<text x="78.12" y="548.40" font-size="25.30" fill="#231f20">2</text>
<text x="77.81" y="601.50" font-size="25.30" fill="#231f20">0</text>
<text x="69.71" y="654.60" font-size="25.30" fill="#231f20">-2</text>
<text x="112.86" y="716.00" font-size="25.30" fill="#231f20">-5</text>
<text x="162.69" y="716.00" font-size="25.30" fill="#231f20">0</text>
<text x="208.69" y="716.00" font-size="25.30" fill="#231f20">5</text>
<text x="304.16" y="716.00" font-size="25.30" fill="#231f20">-5</text>
<text x="353.99" y="716.00" font-size="25.30" fill="#231f20">0</text>
<text x="399.99" y="716.00" font-size="25.30" fill="#231f20">5</text>
<text x="235.06" y="755.90" font-size="25.06" fill="#231f20">UMAP 1</text>
<text x="0" y="0" transform="translate(51.80,649.03) rotate(-90)" font-size="26.19" fill="#231f20">UMAP 2</text>
<defs><linearGradient id="gD" x1="0" y1="1" x2="0" y2="0"><stop offset="0" stop-color="#f4ea30"/><stop offset="0.3" stop-color="#eec27c"/><stop offset="0.6" stop-color="#dc98b4"/><stop offset="0.85" stop-color="#c070b8"/><stop offset="1" stop-color="#a84aa2"/></linearGradient></defs>
<rect x="136.8" y="476" width="7.6" height="68.9" fill="url(#gD)"/>
<line x1="141.9" y1="478.8" x2="144.4" y2="478.8" stroke="#ffffff" stroke-width="1.2" stroke-linecap="butt"/>
<line x1="136.8" y1="478.8" x2="139.3" y2="478.8" stroke="#ffffff" stroke-width="1.2" stroke-linecap="butt"/>
<line x1="141.9" y1="536.0" x2="144.4" y2="536.0" stroke="#ffffff" stroke-width="1.2" stroke-linecap="butt"/>
<line x1="136.8" y1="536.0" x2="139.3" y2="536.0" stroke="#ffffff" stroke-width="1.2" stroke-linecap="butt"/>
<text x="147.54" y="486.20" font-size="25.30" fill="#231f20">25</text>
<text x="146.90" y="542.70" font-size="25.30" fill="#231f20">10</text>
<text x="410.12" y="499.60" font-size="25.25" fill="#231f20">PGCs</text>
<text x="380.40" y="653.90" font-size="25.49" fill="#231f20">PMCs</text>
<circle cx="43.1" cy="782.7" r="9.8" fill="#0ba2d0"/>
<text x="61.67" y="792.40" font-size="25.80" fill="#231f20">Hpf3</text>
<circle cx="43.1" cy="811.5" r="9.8" fill="#3badd8"/>
<text x="61.67" y="820.30" font-size="25.80" fill="#231f20">Hpf4</text>
<circle cx="151.4" cy="782.7" r="9.8" fill="#82bcc6"/>
<text x="170.37" y="792.40" font-size="25.80" fill="#231f20">Hpf5</text>
<circle cx="151.4" cy="811.5" r="9.8" fill="#cdc574"/>
<text x="170.37" y="820.30" font-size="25.80" fill="#231f20">Hpf6</text>
<circle cx="267.4" cy="782.7" r="9.8" fill="#eec53c"/>
<text x="286.27" y="792.40" font-size="25.80" fill="#231f20">Hpf8</text>
<circle cx="267.4" cy="811.5" r="9.8" fill="#e4b42c"/>
<text x="286.27" y="820.30" font-size="25.80" fill="#231f20">Hpf10</text>
<circle cx="388.6" cy="782.7" r="9.8" fill="#e6842e"/>
<text x="408.47" y="792.40" font-size="25.80" fill="#231f20">Hpf12</text>
<circle cx="388.6" cy="811.5" r="9.8" fill="#e33c26"/>
<text x="408.47" y="820.30" font-size="25.80" fill="#231f20">Hpf15</text>
<text x="487.54" y="459.60" font-size="31.00" fill="#231f20">E</text>
<line x1="588.8" y1="636.0" x2="588.8" y2="639.4" stroke="#555555" stroke-width="1.4" stroke-linecap="butt"/>
<line x1="588.8" y1="646.3" x2="588.8" y2="655.0" stroke="#555555" stroke-width="1.4" stroke-linecap="butt"/>
<rect x="579.0" y="639.4" width="19.6" height="6.9" fill="#f0857a" stroke="#3a3a3a" stroke-width="1.3"/>
<line x1="579.0" y1="642.5" x2="598.6" y2="642.5" stroke="#3a3a3a" stroke-width="2.6" stroke-linecap="butt"/>
<circle cx="588.8" cy="625.0" r="4.3" fill="#3a3a3a"/>
<circle cx="588.8" cy="630.6" r="4.3" fill="#3a3a3a"/>
<line x1="614.5" y1="632.5" x2="614.5" y2="633.8" stroke="#555555" stroke-width="1.4" stroke-linecap="butt"/>
<line x1="614.5" y1="640.0" x2="614.5" y2="641.0" stroke="#555555" stroke-width="1.4" stroke-linecap="butt"/>
<rect x="604.8" y="633.8" width="19.6" height="6.2" fill="#f0857a" stroke="#3a3a3a" stroke-width="1.3"/>
<line x1="604.8" y1="638.5" x2="624.3" y2="638.5" stroke="#3a3a3a" stroke-width="2.6" stroke-linecap="butt"/>
<circle cx="614.5" cy="648.8" r="4.3" fill="#3a3a3a"/>
<line x1="640.3" y1="585.2" x2="640.3" y2="615.9" stroke="#555555" stroke-width="1.4" stroke-linecap="butt"/>
<line x1="640.3" y1="637.5" x2="640.3" y2="652.6" stroke="#555555" stroke-width="1.4" stroke-linecap="butt"/>
<rect x="630.5" y="615.9" width="19.6" height="21.6" fill="#f0857a" stroke="#3a3a3a" stroke-width="1.3"/>
<line x1="630.5" y1="633.1" x2="650.1" y2="633.1" stroke="#3a3a3a" stroke-width="2.6" stroke-linecap="butt"/>
<circle cx="640.3" cy="573.6" r="4.3" fill="#3a3a3a"/>
<circle cx="640.3" cy="581.0" r="4.3" fill="#3a3a3a"/>
<line x1="666.0" y1="614.3" x2="666.0" y2="626.9" stroke="#555555" stroke-width="1.4" stroke-linecap="butt"/>
<line x1="666.0" y1="636.3" x2="666.0" y2="644.7" stroke="#555555" stroke-width="1.4" stroke-linecap="butt"/>
<rect x="656.2" y="626.9" width="19.6" height="9.4" fill="#f0857a" stroke="#3a3a3a" stroke-width="1.3"/>
<line x1="656.2" y1="631.3" x2="675.8" y2="631.3" stroke="#3a3a3a" stroke-width="2.6" stroke-linecap="butt"/>
<circle cx="666.0" cy="599.3" r="4.3" fill="#3a3a3a"/>
<line x1="691.8" y1="576.0" x2="691.8" y2="624.7" stroke="#555555" stroke-width="1.4" stroke-linecap="butt"/>
<line x1="691.8" y1="658.6" x2="691.8" y2="670.2" stroke="#555555" stroke-width="1.4" stroke-linecap="butt"/>
<rect x="682.0" y="624.7" width="19.6" height="33.9" fill="#f0857a" stroke="#3a3a3a" stroke-width="1.3"/>
<line x1="682.0" y1="638.3" x2="701.6" y2="638.3" stroke="#3a3a3a" stroke-width="2.6" stroke-linecap="butt"/>
<line x1="717.5" y1="526.8" x2="717.5" y2="581.0" stroke="#555555" stroke-width="1.4" stroke-linecap="butt"/>
<line x1="717.5" y1="654.5" x2="717.5" y2="670.2" stroke="#555555" stroke-width="1.4" stroke-linecap="butt"/>
<rect x="707.8" y="581.0" width="19.6" height="73.5" fill="#f0857a" stroke="#3a3a3a" stroke-width="1.3"/>
<line x1="707.8" y1="627.3" x2="727.3" y2="627.3" stroke="#3a3a3a" stroke-width="2.6" stroke-linecap="butt"/>
<line x1="743.3" y1="481.3" x2="743.3" y2="526.2" stroke="#555555" stroke-width="1.4" stroke-linecap="butt"/>
<line x1="743.3" y1="558.6" x2="743.3" y2="594.8" stroke="#555555" stroke-width="1.4" stroke-linecap="butt"/>
<rect x="733.5" y="526.2" width="19.6" height="32.4" fill="#d4a32c" stroke="#3a3a3a" stroke-width="1.3"/>
<line x1="733.5" y1="542.1" x2="753.1" y2="542.1" stroke="#3a3a3a" stroke-width="2.6" stroke-linecap="butt"/>
<circle cx="743.3" cy="620.3" r="4.3" fill="#3a3a3a"/>
<line x1="769.0" y1="486.2" x2="769.0" y2="525.9" stroke="#555555" stroke-width="1.4" stroke-linecap="butt"/>
<line x1="769.0" y1="552.3" x2="769.0" y2="592.0" stroke="#555555" stroke-width="1.4" stroke-linecap="butt"/>
<rect x="759.2" y="525.9" width="19.6" height="26.4" fill="#3fb54b" stroke="#3a3a3a" stroke-width="1.3"/>
<line x1="759.2" y1="538.9" x2="778.8" y2="538.9" stroke="#3a3a3a" stroke-width="2.6" stroke-linecap="butt"/>
<circle cx="769.0" cy="481.3" r="4.3" fill="#3a3a3a"/>
<line x1="794.8" y1="486.2" x2="794.8" y2="525.3" stroke="#555555" stroke-width="1.4" stroke-linecap="butt"/>
<line x1="794.8" y1="553.4" x2="794.8" y2="594.8" stroke="#555555" stroke-width="1.4" stroke-linecap="butt"/>
<rect x="785.0" y="525.3" width="19.6" height="28.1" fill="#13a89a" stroke="#3a3a3a" stroke-width="1.3"/>
<line x1="785.0" y1="539.8" x2="804.6" y2="539.8" stroke="#3a3a3a" stroke-width="2.6" stroke-linecap="butt"/>
<circle cx="794.8" cy="478.4" r="4.3" fill="#3a3a3a"/>
<circle cx="794.8" cy="483.3" r="4.3" fill="#3a3a3a"/>
<circle cx="794.8" cy="600.0" r="4.3" fill="#3a3a3a"/>
<circle cx="794.8" cy="605.0" r="4.3" fill="#3a3a3a"/>
<line x1="820.5" y1="503.6" x2="820.5" y2="547.0" stroke="#555555" stroke-width="1.4" stroke-linecap="butt"/>
<line x1="820.5" y1="576.0" x2="820.5" y2="618.6" stroke="#555555" stroke-width="1.4" stroke-linecap="butt"/>
<rect x="810.8" y="547.0" width="19.6" height="29.0" fill="#1aaee8" stroke="#3a3a3a" stroke-width="1.3"/>
<line x1="810.8" y1="561.5" x2="830.3" y2="561.5" stroke="#3a3a3a" stroke-width="2.6" stroke-linecap="butt"/>
<circle cx="820.5" cy="476.7" r="4.3" fill="#3a3a3a"/>
<circle cx="820.5" cy="494.0" r="4.3" fill="#3a3a3a"/>
<circle cx="820.5" cy="642.6" r="4.3" fill="#3a3a3a"/>
<line x1="846.3" y1="508.0" x2="846.3" y2="539.2" stroke="#555555" stroke-width="1.4" stroke-linecap="butt"/>
<line x1="846.3" y1="562.4" x2="846.3" y2="594.8" stroke="#555555" stroke-width="1.4" stroke-linecap="butt"/>
<rect x="836.5" y="539.2" width="19.6" height="23.2" fill="#a393d2" stroke="#3a3a3a" stroke-width="1.3"/>
<line x1="836.5" y1="550.0" x2="856.1" y2="550.0" stroke="#3a3a3a" stroke-width="2.6" stroke-linecap="butt"/>
<circle cx="846.3" cy="493.5" r="4.3" fill="#3a3a3a"/>
<circle cx="846.3" cy="497.8" r="4.3" fill="#3a3a3a"/>
<circle cx="846.3" cy="597.7" r="4.3" fill="#3a3a3a"/>
<circle cx="846.3" cy="602.0" r="4.3" fill="#3a3a3a"/>
<line x1="872.0" y1="556.6" x2="872.0" y2="578.3" stroke="#555555" stroke-width="1.4" stroke-linecap="butt"/>
<line x1="872.0" y1="597.2" x2="872.0" y2="611.6" stroke="#555555" stroke-width="1.4" stroke-linecap="butt"/>
<rect x="862.2" y="578.3" width="19.6" height="18.9" fill="#ea7ab8" stroke="#3a3a3a" stroke-width="1.3"/>
<line x1="862.2" y1="587.6" x2="881.8" y2="587.6" stroke="#3a3a3a" stroke-width="2.6" stroke-linecap="butt"/>
<circle cx="872.0" cy="529.7" r="4.3" fill="#3a3a3a"/>
<circle cx="872.0" cy="548.5" r="4.3" fill="#3a3a3a"/>
<circle cx="872.0" cy="631.0" r="4.3" fill="#3a3a3a"/>
<line x1="573.7" y1="469.2" x2="573.7" y2="681.4" stroke="#231f20" stroke-width="2.2" stroke-linecap="butt"/>
<line x1="572.6" y1="680.3" x2="887.3" y2="680.3" stroke="#231f20" stroke-width="2.2" stroke-linecap="butt"/>
<line x1="565.2" y1="537.2" x2="573.7" y2="537.2" stroke="#231f20" stroke-width="1.6" stroke-linecap="butt"/>
<line x1="565.2" y1="616.5" x2="573.7" y2="616.5" stroke="#231f20" stroke-width="1.6" stroke-linecap="butt"/>
<line x1="588.8" y1="680.3" x2="588.8" y2="687.8" stroke="#231f20" stroke-width="1.6" stroke-linecap="butt"/>
<line x1="614.5" y1="680.3" x2="614.5" y2="687.8" stroke="#231f20" stroke-width="1.6" stroke-linecap="butt"/>
<line x1="640.3" y1="680.3" x2="640.3" y2="687.8" stroke="#231f20" stroke-width="1.6" stroke-linecap="butt"/>
<line x1="666.0" y1="680.3" x2="666.0" y2="687.8" stroke="#231f20" stroke-width="1.6" stroke-linecap="butt"/>
<line x1="691.8" y1="680.3" x2="691.8" y2="687.8" stroke="#231f20" stroke-width="1.6" stroke-linecap="butt"/>
<line x1="717.5" y1="680.3" x2="717.5" y2="687.8" stroke="#231f20" stroke-width="1.6" stroke-linecap="butt"/>
<line x1="743.3" y1="680.3" x2="743.3" y2="687.8" stroke="#231f20" stroke-width="1.6" stroke-linecap="butt"/>
<line x1="769.0" y1="680.3" x2="769.0" y2="687.8" stroke="#231f20" stroke-width="1.6" stroke-linecap="butt"/>
<line x1="794.8" y1="680.3" x2="794.8" y2="687.8" stroke="#231f20" stroke-width="1.6" stroke-linecap="butt"/>
<line x1="820.5" y1="680.3" x2="820.5" y2="687.8" stroke="#231f20" stroke-width="1.6" stroke-linecap="butt"/>
<line x1="846.3" y1="680.3" x2="846.3" y2="687.8" stroke="#231f20" stroke-width="1.6" stroke-linecap="butt"/>
<line x1="872.0" y1="680.3" x2="872.0" y2="687.8" stroke="#231f20" stroke-width="1.6" stroke-linecap="butt"/>
<text x="530.27" y="546.60" font-size="25.30" fill="#231f20">20</text>
<text x="530.27" y="626.00" font-size="25.30" fill="#231f20">10</text>
<text x="0" y="0" transform="translate(519.50,667.09) rotate(-90)" font-size="25.37" fill="#231f20">New UMI (%)</text>
<text x="0" y="0" transform="translate(592.30,746.91) rotate(-90)" font-size="25.30" fill="#231f20">Hpf3</text>
<text x="0" y="0" transform="translate(618.05,747.29) rotate(-90)" font-size="25.30" fill="#231f20">Hpf4</text>
<text x="0" y="0" transform="translate(643.80,746.97) rotate(-90)" font-size="25.30" fill="#231f20">Hpf5</text>
<text x="0" y="0" transform="translate(669.55,746.91) rotate(-90)" font-size="25.30" fill="#231f20">Hpf6</text>
<text x="0" y="0" transform="translate(695.30,746.91) rotate(-90)" font-size="25.30" fill="#231f20">Hpf8</text>
<text x="0" y="0" transform="translate(722.55,761.14) rotate(-90)" font-size="25.30" fill="#231f20">Hpf10</text>
<text x="0" y="0" transform="translate(749.00,761.83) rotate(-90)" font-size="25.30" fill="#231f20">Apical</text>
<text x="0" y="0" transform="translate(775.45,740.71) rotate(-90)" font-size="25.30" fill="#231f20">Oral</text>
<text x="0" y="0" transform="translate(801.10,774.48) rotate(-90)" font-size="25.30" fill="#231f20">Arboral</text>
<text x="0" y="0" transform="translate(826.95,730.46) rotate(-90)" font-size="25.30" fill="#231f20">EM</text>
<text x="0" y="0" transform="translate(852.80,762.59) rotate(-90)" font-size="25.30" fill="#231f20">PMCs</text>
<text x="0" y="0" transform="translate(879.55,761.20) rotate(-90)" font-size="25.30" fill="#231f20">PGCs</text>
<text x="914.34" y="460.20" font-size="31.00" fill="#231f20">F</text>
<line x1="1025.9" y1="660.5" x2="1025.9" y2="661.6" stroke="#555555" stroke-width="1.4" stroke-linecap="butt"/>
<line x1="1025.9" y1="670.0" x2="1025.9" y2="670.5" stroke="#555555" stroke-width="1.4" stroke-linecap="butt"/>
<rect x="1016.0" y="661.6" width="19.8" height="8.4" fill="#f0857a" stroke="#3a3a3a" stroke-width="1.3"/>
<line x1="1016.0" y1="668.5" x2="1035.8" y2="668.5" stroke="#3a3a3a" stroke-width="2.6" stroke-linecap="butt"/>
<line x1="1051.8" y1="649.0" x2="1051.8" y2="659.7" stroke="#555555" stroke-width="1.4" stroke-linecap="butt"/>
<line x1="1051.8" y1="670.0" x2="1051.8" y2="670.5" stroke="#555555" stroke-width="1.4" stroke-linecap="butt"/>
<rect x="1041.8" y="659.7" width="19.8" height="10.3" fill="#f0857a" stroke="#3a3a3a" stroke-width="1.3"/>
<line x1="1041.8" y1="666.0" x2="1061.7" y2="666.0" stroke="#3a3a3a" stroke-width="2.6" stroke-linecap="butt"/>
<line x1="1077.6" y1="614.5" x2="1077.6" y2="634.6" stroke="#555555" stroke-width="1.4" stroke-linecap="butt"/>
<line x1="1077.6" y1="660.0" x2="1077.6" y2="671.6" stroke="#555555" stroke-width="1.4" stroke-linecap="butt"/>
<rect x="1067.7" y="634.6" width="19.8" height="25.4" fill="#f0857a" stroke="#3a3a3a" stroke-width="1.3"/>
<line x1="1067.7" y1="648.7" x2="1087.5" y2="648.7" stroke="#3a3a3a" stroke-width="2.6" stroke-linecap="butt"/>
<circle cx="1077.6" cy="586.3" r="2.9" fill="#3a3a3a"/>
<circle cx="1077.6" cy="592.5" r="2.9" fill="#3a3a3a"/>
<line x1="1103.5" y1="602.0" x2="1103.5" y2="636.1" stroke="#555555" stroke-width="1.4" stroke-linecap="butt"/>
<line x1="1103.5" y1="666.9" x2="1103.5" y2="671.6" stroke="#555555" stroke-width="1.4" stroke-linecap="butt"/>
<rect x="1093.5" y="636.1" width="19.8" height="30.8" fill="#f0857a" stroke="#3a3a3a" stroke-width="1.3"/>
<line x1="1093.5" y1="653.4" x2="1113.4" y2="653.4" stroke="#3a3a3a" stroke-width="2.6" stroke-linecap="butt"/>
<circle cx="1103.5" cy="561.8" r="2.9" fill="#3a3a3a"/>
<circle cx="1103.5" cy="572.8" r="2.9" fill="#3a3a3a"/>
<circle cx="1103.5" cy="583.1" r="2.9" fill="#3a3a3a"/>
<line x1="1129.3" y1="593.7" x2="1129.3" y2="636.2" stroke="#555555" stroke-width="1.4" stroke-linecap="butt"/>
<line x1="1129.3" y1="667.5" x2="1129.3" y2="670.9" stroke="#555555" stroke-width="1.4" stroke-linecap="butt"/>
<rect x="1119.4" y="636.2" width="19.8" height="31.3" fill="#f0857a" stroke="#3a3a3a" stroke-width="1.3"/>
<line x1="1119.4" y1="659.2" x2="1139.2" y2="659.2" stroke="#3a3a3a" stroke-width="2.6" stroke-linecap="butt"/>
<circle cx="1129.3" cy="577.9" r="2.9" fill="#3a3a3a"/>
<circle cx="1129.3" cy="671.0" r="2.9" fill="#3a3a3a"/>
<line x1="1155.2" y1="543.2" x2="1155.2" y2="597.9" stroke="#555555" stroke-width="1.4" stroke-linecap="butt"/>
<line x1="1155.2" y1="632.0" x2="1155.2" y2="670.9" stroke="#555555" stroke-width="1.4" stroke-linecap="butt"/>
<rect x="1145.2" y="597.9" width="19.8" height="34.1" fill="#f0857a" stroke="#3a3a3a" stroke-width="1.3"/>
<line x1="1145.2" y1="618.2" x2="1165.1" y2="618.2" stroke="#3a3a3a" stroke-width="2.6" stroke-linecap="butt"/>
<circle cx="1155.2" cy="529.4" r="2.9" fill="#3a3a3a"/>
<circle cx="1155.2" cy="533.0" r="2.9" fill="#3a3a3a"/>
<circle cx="1155.2" cy="536.5" r="2.9" fill="#3a3a3a"/>
<circle cx="1155.2" cy="540.0" r="2.9" fill="#3a3a3a"/>
<circle cx="1155.2" cy="543.2" r="2.9" fill="#3a3a3a"/>
<line x1="1181.0" y1="478.9" x2="1181.0" y2="542.4" stroke="#555555" stroke-width="1.4" stroke-linecap="butt"/>
<line x1="1181.0" y1="588.2" x2="1181.0" y2="648.1" stroke="#555555" stroke-width="1.4" stroke-linecap="butt"/>
<rect x="1171.1" y="542.4" width="19.8" height="45.8" fill="#d4a32c" stroke="#3a3a3a" stroke-width="1.3"/>
<line x1="1171.1" y1="563.2" x2="1190.9" y2="563.2" stroke="#3a3a3a" stroke-width="2.6" stroke-linecap="butt"/>
<line x1="1206.9" y1="489.1" x2="1206.9" y2="551.0" stroke="#555555" stroke-width="1.4" stroke-linecap="butt"/>
<line x1="1206.9" y1="593.7" x2="1206.9" y2="655.6" stroke="#555555" stroke-width="1.4" stroke-linecap="butt"/>
<rect x="1197.0" y="551.0" width="19.8" height="42.7" fill="#3fb54b" stroke="#3a3a3a" stroke-width="1.3"/>
<line x1="1197.0" y1="571.0" x2="1216.8" y2="571.0" stroke="#3a3a3a" stroke-width="2.6" stroke-linecap="butt"/>
<circle cx="1206.9" cy="658.7" r="2.9" fill="#3a3a3a"/>
<line x1="1232.7" y1="485.5" x2="1232.7" y2="551.0" stroke="#555555" stroke-width="1.4" stroke-linecap="butt"/>
<line x1="1232.7" y1="597.3" x2="1232.7" y2="665.3" stroke="#555555" stroke-width="1.4" stroke-linecap="butt"/>
<rect x="1222.8" y="551.0" width="19.8" height="46.3" fill="#13a89a" stroke="#3a3a3a" stroke-width="1.3"/>
<line x1="1222.8" y1="572.9" x2="1242.6" y2="572.9" stroke="#3a3a3a" stroke-width="2.6" stroke-linecap="butt"/>
<circle cx="1232.7" cy="667.5" r="2.9" fill="#3a3a3a"/>
<circle cx="1232.7" cy="670.9" r="2.9" fill="#3a3a3a"/>
<line x1="1258.6" y1="516.9" x2="1258.6" y2="563.2" stroke="#555555" stroke-width="1.4" stroke-linecap="butt"/>
<line x1="1258.6" y1="599.3" x2="1258.6" y2="652.8" stroke="#555555" stroke-width="1.4" stroke-linecap="butt"/>
<rect x="1248.7" y="563.2" width="19.8" height="36.1" fill="#1aaee8" stroke="#3a3a3a" stroke-width="1.3"/>
<line x1="1248.7" y1="580.7" x2="1268.5" y2="580.7" stroke="#3a3a3a" stroke-width="2.6" stroke-linecap="butt"/>
<circle cx="1258.6" cy="502.2" r="2.9" fill="#3a3a3a"/>
<circle cx="1258.6" cy="505.8" r="2.9" fill="#3a3a3a"/>
<circle cx="1258.6" cy="659.2" r="2.9" fill="#3a3a3a"/>
<circle cx="1258.6" cy="664.8" r="2.9" fill="#3a3a3a"/>
<line x1="1284.4" y1="535.5" x2="1284.4" y2="573.2" stroke="#555555" stroke-width="1.4" stroke-linecap="butt"/>
<line x1="1284.4" y1="604.3" x2="1284.4" y2="647.3" stroke="#555555" stroke-width="1.4" stroke-linecap="butt"/>
<rect x="1274.5" y="573.2" width="19.8" height="31.1" fill="#a393d2" stroke="#3a3a3a" stroke-width="1.3"/>
<line x1="1274.5" y1="588.2" x2="1294.3" y2="588.2" stroke="#3a3a3a" stroke-width="2.6" stroke-linecap="butt"/>
<circle cx="1284.4" cy="656.4" r="2.9" fill="#3a3a3a"/>
<circle cx="1284.4" cy="659.2" r="2.9" fill="#3a3a3a"/>
<line x1="1310.2" y1="542.7" x2="1310.2" y2="562.1" stroke="#555555" stroke-width="1.4" stroke-linecap="butt"/>
<line x1="1310.2" y1="606.2" x2="1310.2" y2="637.6" stroke="#555555" stroke-width="1.4" stroke-linecap="butt"/>
<rect x="1300.3" y="562.1" width="19.8" height="44.1" fill="#ea7ab8" stroke="#3a3a3a" stroke-width="1.3"/>
<line x1="1300.3" y1="578.5" x2="1320.2" y2="578.5" stroke="#3a3a3a" stroke-width="2.6" stroke-linecap="butt"/>
<line x1="1011.0" y1="469.2" x2="1011.0" y2="681.4" stroke="#231f20" stroke-width="2.2" stroke-linecap="butt"/>
<line x1="1009.9" y1="680.3" x2="1325.3" y2="680.3" stroke="#231f20" stroke-width="2.2" stroke-linecap="butt"/>
<line x1="1002.0" y1="490.0" x2="1011.0" y2="490.0" stroke="#231f20" stroke-width="1.6" stroke-linecap="butt"/>
<line x1="1002.0" y1="550.6" x2="1011.0" y2="550.6" stroke="#231f20" stroke-width="1.6" stroke-linecap="butt"/>
<line x1="1002.0" y1="611.1" x2="1011.0" y2="611.1" stroke="#231f20" stroke-width="1.6" stroke-linecap="butt"/>
<line x1="1002.0" y1="670.6" x2="1011.0" y2="670.6" stroke="#231f20" stroke-width="1.6" stroke-linecap="butt"/>
<line x1="1025.9" y1="680.3" x2="1025.9" y2="687.8" stroke="#231f20" stroke-width="1.6" stroke-linecap="butt"/>
<line x1="1051.8" y1="680.3" x2="1051.8" y2="687.8" stroke="#231f20" stroke-width="1.6" stroke-linecap="butt"/>
<line x1="1077.6" y1="680.3" x2="1077.6" y2="687.8" stroke="#231f20" stroke-width="1.6" stroke-linecap="butt"/>
<line x1="1103.5" y1="680.3" x2="1103.5" y2="687.8" stroke="#231f20" stroke-width="1.6" stroke-linecap="butt"/>
<line x1="1129.3" y1="680.3" x2="1129.3" y2="687.8" stroke="#231f20" stroke-width="1.6" stroke-linecap="butt"/>
<line x1="1155.2" y1="680.3" x2="1155.2" y2="687.8" stroke="#231f20" stroke-width="1.6" stroke-linecap="butt"/>
<line x1="1181.0" y1="680.3" x2="1181.0" y2="687.8" stroke="#231f20" stroke-width="1.6" stroke-linecap="butt"/>
<line x1="1206.9" y1="680.3" x2="1206.9" y2="687.8" stroke="#231f20" stroke-width="1.6" stroke-linecap="butt"/>
<line x1="1232.7" y1="680.3" x2="1232.7" y2="687.8" stroke="#231f20" stroke-width="1.6" stroke-linecap="butt"/>
<line x1="1258.6" y1="680.3" x2="1258.6" y2="687.8" stroke="#231f20" stroke-width="1.6" stroke-linecap="butt"/>
<line x1="1284.4" y1="680.3" x2="1284.4" y2="687.8" stroke="#231f20" stroke-width="1.6" stroke-linecap="butt"/>
<line x1="1310.2" y1="680.3" x2="1310.2" y2="687.8" stroke="#231f20" stroke-width="1.6" stroke-linecap="butt"/>
<text x="965.87" y="501.10" font-size="25.30" fill="#231f20">40</text>
<text x="965.87" y="561.10" font-size="25.30" fill="#231f20">30</text>
<text x="965.87" y="620.60" font-size="25.30" fill="#231f20">20</text>
<text x="965.87" y="678.90" font-size="25.30" fill="#231f20">10</text>
<text x="0" y="0" transform="translate(953.00,710.69) rotate(-90)" font-size="25.35" fill="#231f20">Reads in peaks (%)</text>
<text x="0" y="0" transform="translate(1030.90,746.91) rotate(-90)" font-size="25.30" fill="#231f20">Hpf3</text>
<text x="0" y="0" transform="translate(1056.75,747.29) rotate(-90)" font-size="25.30" fill="#231f20">Hpf4</text>
<text x="0" y="0" transform="translate(1082.60,746.97) rotate(-90)" font-size="25.30" fill="#231f20">Hpf5</text>
<text x="0" y="0" transform="translate(1108.45,746.91) rotate(-90)" font-size="25.30" fill="#231f20">Hpf6</text>
<text x="0" y="0" transform="translate(1134.30,746.91) rotate(-90)" font-size="25.30" fill="#231f20">Hpf8</text>
<text x="0" y="0" transform="translate(1161.65,761.14) rotate(-90)" font-size="25.30" fill="#231f20">Hpf10</text>
<text x="0" y="0" transform="translate(1188.20,761.83) rotate(-90)" font-size="25.30" fill="#231f20">Apical</text>
<text x="0" y="0" transform="translate(1214.75,740.71) rotate(-90)" font-size="25.30" fill="#231f20">Oral</text>
<text x="0" y="0" transform="translate(1240.50,774.48) rotate(-90)" font-size="25.30" fill="#231f20">Arboral</text>
<text x="0" y="0" transform="translate(1266.45,730.46) rotate(-90)" font-size="25.30" fill="#231f20">EM</text>
<text x="0" y="0" transform="translate(1292.40,762.59) rotate(-90)" font-size="25.30" fill="#231f20">PMCs</text>
<text x="0" y="0" transform="translate(1319.25,761.20) rotate(-90)" font-size="25.30" fill="#231f20">PGCs</text>
</svg>
</body></html>
